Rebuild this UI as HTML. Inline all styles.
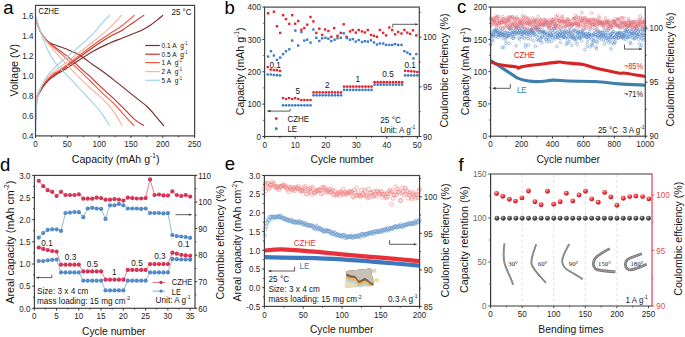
<!DOCTYPE html><html><head><meta charset="utf-8"><style>html,body{margin:0;padding:0;background:#fff;width:685px;height:337px;overflow:hidden;}svg{display:block;}</style></head><body><svg width="685" height="337" viewBox="0 0 685 337" font-family='"Liberation Sans", sans-serif'><rect width="685" height="337" fill="#fff"/><text x="3.3" y="13.9" font-size="18.5" text-anchor="start" fill="#000">a</text>
<text x="224.4" y="13.7" font-size="18.5" text-anchor="start" fill="#000">b</text>
<text x="456.9" y="13.1" font-size="18.5" text-anchor="start" fill="#000">c</text>
<text x="0.1" y="170.7" font-size="18.5" text-anchor="start" fill="#000">d</text>
<text x="224.7" y="170.4" font-size="18.5" text-anchor="start" fill="#000">e</text>
<text x="458.4" y="170.7" font-size="18.5" text-anchor="start" fill="#000">f</text>
<path d="M35.63,17.88 C35.77,18.55 35.54,19.35 36.45,21.89 C37.37,24.42 39.67,30.34 41.1,33.1 C42.53,35.85 43.56,36.77 45.05,38.4 C46.53,40.04 46.81,41.26 50.01,42.91 C53.21,44.56 59.51,46.38 64.27,48.31 C69.02,50.25 73.63,51.7 78.52,54.52 C83.41,57.34 89.71,62.51 93.6,65.23 C97.5,67.95 98.52,68.4 101.88,70.84 C105.23,73.27 109.76,76.76 113.71,79.84 C117.67,82.93 121.65,86.18 125.61,89.35 C129.58,92.52 133.95,96.01 137.51,98.86 C141.08,101.72 144.23,103.9 147,106.47 C149.77,109.04 151.36,111.08 154.12,114.28 C156.89,117.48 162.03,123.79 163.61,125.69" fill="none" stroke="#7a2b2e" stroke-width="1.15" stroke-linecap="round"/>
<path d="M35.69,119.48 C35.79,117.15 36.03,108.97 36.26,105.47 C36.5,101.97 36.77,100.13 37.09,98.46 C37.41,96.79 37.3,97.21 38.17,95.46 C39.04,93.71 40.59,90.46 42.31,87.95 C44.03,85.45 46.4,82.53 48.48,80.45 C50.56,78.36 52.01,77.31 54.78,75.44 C57.55,73.57 58.62,73.3 65.09,69.23 C71.56,65.16 86.12,55.39 93.6,51.02 C101.09,46.64 105.3,45.14 110.02,43.01 C114.74,40.87 117.98,39.79 121.92,38.2 C125.87,36.62 130.15,34.97 133.7,33.5 C137.24,32.03 140.41,30.78 143.18,29.39 C145.95,28.01 147.94,26.77 150.31,25.19 C152.67,23.6 155.29,21.52 157.37,19.88 C159.45,18.25 161.88,16.13 162.78,15.38" fill="none" stroke="#7a2b2e" stroke-width="1.15" stroke-linecap="round"/>
<path d="M35.63,17.88 C35.77,18.55 35.54,19.35 36.45,21.89 C37.37,24.42 39.67,30.34 41.1,33.1 C42.53,35.85 43.56,36.68 45.05,38.4 C46.53,40.12 45.92,40.12 50.01,43.41 C54.1,46.69 64.27,53.75 69.61,58.12 C74.96,62.49 78.69,66.58 82.08,69.63 C85.48,72.69 86.68,73.4 89.98,76.44 C93.27,79.48 97.92,84.17 101.88,87.85 C105.83,91.54 109.76,94.81 113.71,98.56 C117.67,102.32 122.05,106.82 125.61,110.37 C129.18,113.93 132.13,117.37 135.1,119.88 C138.07,122.4 142.04,124.56 143.43,125.49" fill="none" stroke="#c8302c" stroke-width="1.15" stroke-linecap="round"/>
<path d="M35.69,117.48 C35.79,115.31 36.03,107.81 36.26,104.47 C36.5,101.13 36.77,99.13 37.09,97.46 C37.41,95.79 37.3,96.23 38.17,94.46 C39.04,92.69 40.59,89.35 42.31,86.85 C44.03,84.35 46.4,81.53 48.48,79.44 C50.56,77.36 52.01,76.34 54.78,74.34 C57.55,72.34 58.62,72 65.09,67.43 C71.56,62.86 86.12,52.07 93.6,46.91 C101.09,41.76 105.3,39.25 110.02,36.5 C114.74,33.75 117.98,32.78 121.92,30.4 C125.87,28.01 130.05,24.69 133.7,22.19 C137.35,19.68 142.13,16.51 143.82,15.38" fill="none" stroke="#c8302c" stroke-width="1.15" stroke-linecap="round"/>
<path d="M35.63,17.88 C35.77,18.55 35.54,19.35 36.45,21.89 C37.37,24.42 39.67,30.34 41.1,33.1 C42.53,35.85 43.56,36.6 45.05,38.4 C46.53,40.2 46.52,40.62 50.01,43.91 C53.5,47.2 61.23,53.84 65.98,58.12 C70.74,62.41 74.52,65.86 78.52,69.63 C82.52,73.4 86.08,76.91 89.98,80.75 C93.87,84.58 97.92,88.89 101.88,92.66 C105.83,96.43 110.16,99.8 113.71,103.37 C117.27,106.94 119.83,110.39 123.2,114.08 C126.56,117.77 132.11,123.59 133.89,125.49" fill="none" stroke="#f0583a" stroke-width="1.15" stroke-linecap="round"/>
<path d="M35.69,117.48 C35.79,115.15 36.03,106.97 36.26,103.47 C36.5,99.96 36.77,98.13 37.09,96.46 C37.41,94.79 37.3,95.23 38.17,93.46 C39.04,91.69 40.59,88.35 42.31,85.85 C44.03,83.35 46.4,80.6 48.48,78.44 C50.56,76.29 52.75,74.44 54.78,72.94 C56.82,71.44 54.23,74.14 60.7,69.43 C67.17,64.73 85.38,50.7 93.6,44.71 C101.82,38.72 105.3,36.65 110.02,33.5 C114.74,30.34 117.88,28.81 121.92,25.79 C125.96,22.77 132.21,17.12 134.27,15.38" fill="none" stroke="#f0583a" stroke-width="1.15" stroke-linecap="round"/>
<path d="M35.63,17.88 C35.77,18.55 35.54,19.35 36.45,21.89 C37.37,24.42 39.67,30.18 41.1,33.1 C42.53,36.02 43.75,37.52 45.05,39.4 C46.34,41.29 46.26,41.29 48.86,44.41 C51.47,47.53 56.95,53.92 60.7,58.12 C64.46,62.33 66.51,64.68 71.39,69.63 C76.27,74.59 85.29,83.43 89.98,87.85 C94.66,92.27 96.35,93.19 99.52,96.16 C102.69,99.13 106.25,102.5 109,105.67 C111.76,108.84 113.9,111.88 116.07,115.18 C118.23,118.48 121,123.77 121.99,125.49" fill="none" stroke="#f4b6a0" stroke-width="1.15" stroke-linecap="round"/>
<path d="M35.69,117.48 C35.79,115.15 36.03,107.14 36.26,103.47 C36.5,99.8 36.77,97.3 37.09,95.46 C37.41,93.62 37.3,94.29 38.17,92.46 C39.04,90.62 40.59,87.12 42.31,84.45 C44.03,81.78 46.01,78.94 48.48,76.44 C50.95,73.94 49.62,75.31 57.14,69.43 C64.66,63.56 84.79,48.18 93.6,41.21 C102.42,34.23 105.41,31.9 110.02,27.59 C114.64,23.29 119.41,17.42 121.29,15.38" fill="none" stroke="#f4b6a0" stroke-width="1.15" stroke-linecap="round"/>
<path d="M35.5,15.38 C35.56,15.55 34.95,13.43 35.88,16.38 C36.82,19.33 39.04,27.33 41.1,33.1 C43.16,38.87 45.56,45.66 48.23,51.02 C50.9,56.37 53.37,60.54 57.14,65.23 C60.9,69.92 65.35,73.37 70.82,79.14 C76.29,84.92 85.19,94.64 89.98,99.86 C94.76,105.09 96.27,106.2 99.52,110.47 C102.78,114.75 107.85,122.99 109.51,125.49" fill="none" stroke="#9fd4ea" stroke-width="1.15" stroke-linecap="round"/>
<path d="M35.63,131.5 C35.73,128.16 36.01,116.65 36.26,111.48 C36.52,106.3 36.84,103.13 37.15,100.47 C37.47,97.8 37.31,98.1 38.17,95.46 C39.03,92.82 40.59,88.15 42.31,84.65 C44.03,81.15 46.4,77.31 48.48,74.44 C50.56,71.57 51.64,70.44 54.78,67.43 C57.92,64.43 62.87,60.24 67.32,56.42 C71.77,52.6 77.13,48.4 81.51,44.51 C85.89,40.62 90.13,36.7 93.6,33.1 C97.07,29.49 99.64,25.84 102.32,22.89 C105.01,19.93 108.47,16.63 109.7,15.38" fill="none" stroke="#9fd4ea" stroke-width="1.15" stroke-linecap="round"/>
<rect x="35.5" y="5.4" width="159.1" height="130.5" fill="none" stroke="#444" stroke-width="1.2"/>
<line x1="35.5" y1="135.9" x2="35.5" y2="137.9" stroke="#333" stroke-width="1"/>
<text transform="translate(35.5 146.6) scale(1 1.12)" x="0" y="0" font-size="8.1" text-anchor="middle" fill="#1e1e1e">0</text>
<line x1="51.41" y1="135.9" x2="51.41" y2="137.2" stroke="#333" stroke-width="1"/>
<line x1="67.32" y1="135.9" x2="67.32" y2="137.9" stroke="#333" stroke-width="1"/>
<text transform="translate(67.32 146.6) scale(1 1.12)" x="0" y="0" font-size="8.1" text-anchor="middle" fill="#1e1e1e">50</text>
<line x1="83.23" y1="135.9" x2="83.23" y2="137.2" stroke="#333" stroke-width="1"/>
<line x1="99.14" y1="135.9" x2="99.14" y2="137.9" stroke="#333" stroke-width="1"/>
<text transform="translate(99.14 146.6) scale(1 1.12)" x="0" y="0" font-size="8.1" text-anchor="middle" fill="#1e1e1e">100</text>
<line x1="115.05" y1="135.9" x2="115.05" y2="137.2" stroke="#333" stroke-width="1"/>
<line x1="130.96" y1="135.9" x2="130.96" y2="137.9" stroke="#333" stroke-width="1"/>
<text transform="translate(130.96 146.6) scale(1 1.12)" x="0" y="0" font-size="8.1" text-anchor="middle" fill="#1e1e1e">150</text>
<line x1="146.87" y1="135.9" x2="146.87" y2="137.2" stroke="#333" stroke-width="1"/>
<line x1="162.78" y1="135.9" x2="162.78" y2="137.9" stroke="#333" stroke-width="1"/>
<text transform="translate(162.78 146.6) scale(1 1.12)" x="0" y="0" font-size="8.1" text-anchor="middle" fill="#1e1e1e">200</text>
<line x1="178.69" y1="135.9" x2="178.69" y2="137.2" stroke="#333" stroke-width="1"/>
<line x1="194.6" y1="135.9" x2="194.6" y2="137.9" stroke="#333" stroke-width="1"/>
<text transform="translate(194.6 146.6) scale(1 1.12)" x="0" y="0" font-size="8.1" text-anchor="middle" fill="#1e1e1e">250</text>
<text transform="translate(33.5 138.75) scale(1 1.12)" x="0" y="0" font-size="8.1" text-anchor="end" fill="#1e1e1e">0.4</text>
<text transform="translate(33.5 118.73) scale(1 1.12)" x="0" y="0" font-size="8.1" text-anchor="end" fill="#1e1e1e">0.6</text>
<text transform="translate(33.5 98.71) scale(1 1.12)" x="0" y="0" font-size="8.1" text-anchor="end" fill="#1e1e1e">0.8</text>
<text transform="translate(33.5 78.69) scale(1 1.12)" x="0" y="0" font-size="8.1" text-anchor="end" fill="#1e1e1e">1.0</text>
<text transform="translate(33.5 58.67) scale(1 1.12)" x="0" y="0" font-size="8.1" text-anchor="end" fill="#1e1e1e">1.2</text>
<text transform="translate(33.5 38.65) scale(1 1.12)" x="0" y="0" font-size="8.1" text-anchor="end" fill="#1e1e1e">1.4</text>
<text transform="translate(33.5 18.63) scale(1 1.12)" x="0" y="0" font-size="8.1" text-anchor="end" fill="#1e1e1e">1.6</text>
<text x="115.6" y="162.9" font-size="10.6" text-anchor="middle" fill="#141414">Capacity (mAh g<tspan font-size="6.57" dy="-4.45">-1</tspan><tspan dy="4.45">)</tspan></text>
<text x="17.8" y="70.2" font-size="10.6" text-anchor="middle" fill="#141414" transform="rotate(-90 17.8 70.2)">Voltage (V)</text>
<text transform="translate(38.6 13.9) scale(1 1.12)" x="0" y="0" font-size="7.5" text-anchor="start" fill="#141414">CZHE</text>
<text transform="translate(191.6 14.9) scale(1 1.12)" x="0" y="0" font-size="8.0" text-anchor="end" fill="#141414">25 &#176;C</text>
<line x1="145.2" y1="45.5" x2="159.8" y2="45.5" stroke="#7a2b2e" stroke-width="1.2"/>
<text transform="translate(161.5 47.9) scale(1 1.12)" x="0" y="0" font-size="6.6" text-anchor="start" fill="#141414">0.1 A&#160;&#160;g<tspan font-size="4.09" dy="-2.77">-1</tspan><tspan dy="2.77"></tspan></text>
<line x1="145.2" y1="54.2" x2="159.8" y2="54.2" stroke="#c8302c" stroke-width="1.2"/>
<text transform="translate(161.5 56.6) scale(1 1.12)" x="0" y="0" font-size="6.6" text-anchor="start" fill="#141414">0.5 A&#160;&#160;g<tspan font-size="4.09" dy="-2.77">-1</tspan><tspan dy="2.77"></tspan></text>
<line x1="145.2" y1="62.6" x2="159.8" y2="62.6" stroke="#f0583a" stroke-width="1.2"/>
<text transform="translate(161.5 65) scale(1 1.12)" x="0" y="0" font-size="6.6" text-anchor="start" fill="#141414">1 A&#160;&#160;g<tspan font-size="4.09" dy="-2.77">-1</tspan><tspan dy="2.77"></tspan></text>
<line x1="145.2" y1="71.6" x2="159.8" y2="71.6" stroke="#f4b6a0" stroke-width="1.2"/>
<text transform="translate(161.5 74) scale(1 1.12)" x="0" y="0" font-size="6.6" text-anchor="start" fill="#141414">2 A&#160;&#160;g<tspan font-size="4.09" dy="-2.77">-1</tspan><tspan dy="2.77"></tspan></text>
<line x1="145.2" y1="80.3" x2="159.8" y2="80.3" stroke="#9fd4ea" stroke-width="1.2"/>
<text transform="translate(161.5 82.7) scale(1 1.12)" x="0" y="0" font-size="6.6" text-anchor="start" fill="#141414">5 A&#160;&#160;g<tspan font-size="4.09" dy="-2.77">-1</tspan><tspan dy="2.77"></tspan></text>
<rect x="266.9" y="12.1" width="2.4" height="2.4" fill="#e3262b"/>
<rect x="272.7" y="10.5" width="2.4" height="2.4" fill="#e3262b"/>
<rect x="275.8" y="25" width="2.4" height="2.4" fill="#e3262b"/>
<rect x="279" y="31.7" width="2.4" height="2.4" fill="#e3262b"/>
<rect x="281.9" y="14" width="2.4" height="2.4" fill="#e3262b"/>
<rect x="284.8" y="17.9" width="2.4" height="2.4" fill="#e3262b"/>
<rect x="288.1" y="22.7" width="2.4" height="2.4" fill="#e3262b"/>
<rect x="291" y="14" width="2.4" height="2.4" fill="#e3262b"/>
<rect x="293.9" y="22.5" width="2.4" height="2.4" fill="#e3262b"/>
<rect x="297" y="19.8" width="2.4" height="2.4" fill="#e3262b"/>
<rect x="300.2" y="28.5" width="2.4" height="2.4" fill="#e3262b"/>
<rect x="303.1" y="26.9" width="2.4" height="2.4" fill="#e3262b"/>
<rect x="306" y="23.5" width="2.4" height="2.4" fill="#e3262b"/>
<rect x="309.3" y="15.8" width="2.4" height="2.4" fill="#e3262b"/>
<rect x="312.2" y="20.2" width="2.4" height="2.4" fill="#e3262b"/>
<rect x="315.1" y="31.7" width="2.4" height="2.4" fill="#e3262b"/>
<rect x="318.1" y="27.5" width="2.4" height="2.4" fill="#e3262b"/>
<rect x="321" y="33.7" width="2.4" height="2.4" fill="#e3262b"/>
<rect x="323.9" y="28.3" width="2.4" height="2.4" fill="#e3262b"/>
<rect x="327.2" y="29.8" width="2.4" height="2.4" fill="#e3262b"/>
<rect x="330.1" y="35.6" width="2.4" height="2.4" fill="#e3262b"/>
<rect x="333" y="26.9" width="2.4" height="2.4" fill="#e3262b"/>
<rect x="336.3" y="34.6" width="2.4" height="2.4" fill="#e3262b"/>
<rect x="339.6" y="31.7" width="2.4" height="2.4" fill="#e3262b"/>
<rect x="342.5" y="23.1" width="2.4" height="2.4" fill="#e3262b"/>
<rect x="345.4" y="35.6" width="2.4" height="2.4" fill="#e3262b"/>
<rect x="348.8" y="30.2" width="2.4" height="2.4" fill="#e3262b"/>
<rect x="351.5" y="28.8" width="2.4" height="2.4" fill="#e3262b"/>
<rect x="354.6" y="31.4" width="2.4" height="2.4" fill="#e3262b"/>
<rect x="357.5" y="28.8" width="2.4" height="2.4" fill="#e3262b"/>
<rect x="360.8" y="30.2" width="2.4" height="2.4" fill="#e3262b"/>
<rect x="363.7" y="31.2" width="2.4" height="2.4" fill="#e3262b"/>
<rect x="366.6" y="28.8" width="2.4" height="2.4" fill="#e3262b"/>
<rect x="369.8" y="33.7" width="2.4" height="2.4" fill="#e3262b"/>
<rect x="372.7" y="34.6" width="2.4" height="2.4" fill="#e3262b"/>
<rect x="375.8" y="35.6" width="2.4" height="2.4" fill="#e3262b"/>
<rect x="378.7" y="28.8" width="2.4" height="2.4" fill="#e3262b"/>
<rect x="382" y="31.7" width="2.4" height="2.4" fill="#e3262b"/>
<rect x="384.9" y="34.2" width="2.4" height="2.4" fill="#e3262b"/>
<rect x="388.1" y="26.3" width="2.4" height="2.4" fill="#e3262b"/>
<rect x="391" y="28.8" width="2.4" height="2.4" fill="#e3262b"/>
<rect x="393.9" y="33.1" width="2.4" height="2.4" fill="#e3262b"/>
<rect x="397" y="30.8" width="2.4" height="2.4" fill="#e3262b"/>
<rect x="400.3" y="32.3" width="2.4" height="2.4" fill="#e3262b"/>
<rect x="403.2" y="28.8" width="2.4" height="2.4" fill="#e3262b"/>
<rect x="406.1" y="31.4" width="2.4" height="2.4" fill="#e3262b"/>
<rect x="408.9" y="32.7" width="2.4" height="2.4" fill="#e3262b"/>
<rect x="411.8" y="29.2" width="2.4" height="2.4" fill="#e3262b"/>
<rect x="415.1" y="34.2" width="2.4" height="2.4" fill="#e3262b"/>
<rect x="266.9" y="55.4" width="2.4" height="2.4" fill="#3d7cc9"/>
<rect x="269.8" y="50" width="2.4" height="2.4" fill="#3d7cc9"/>
<rect x="272.7" y="54.3" width="2.4" height="2.4" fill="#3d7cc9"/>
<rect x="275.8" y="58.7" width="2.4" height="2.4" fill="#3d7cc9"/>
<rect x="279" y="56.4" width="2.4" height="2.4" fill="#3d7cc9"/>
<rect x="281.9" y="52.9" width="2.4" height="2.4" fill="#3d7cc9"/>
<rect x="284.8" y="50" width="2.4" height="2.4" fill="#3d7cc9"/>
<rect x="288.1" y="48.1" width="2.4" height="2.4" fill="#3d7cc9"/>
<rect x="291" y="39.4" width="2.4" height="2.4" fill="#3d7cc9"/>
<rect x="294.1" y="29.4" width="2.4" height="2.4" fill="#3d7cc9"/>
<rect x="297" y="44.3" width="2.4" height="2.4" fill="#3d7cc9"/>
<rect x="300.2" y="30.8" width="2.4" height="2.4" fill="#3d7cc9"/>
<rect x="303.1" y="39.4" width="2.4" height="2.4" fill="#3d7cc9"/>
<rect x="306" y="38.5" width="2.4" height="2.4" fill="#3d7cc9"/>
<rect x="309.3" y="41.4" width="2.4" height="2.4" fill="#3d7cc9"/>
<rect x="312.2" y="28.3" width="2.4" height="2.4" fill="#3d7cc9"/>
<rect x="315.1" y="36.6" width="2.4" height="2.4" fill="#3d7cc9"/>
<rect x="318.1" y="39.8" width="2.4" height="2.4" fill="#3d7cc9"/>
<rect x="321" y="37.1" width="2.4" height="2.4" fill="#3d7cc9"/>
<rect x="324.3" y="36.6" width="2.4" height="2.4" fill="#3d7cc9"/>
<rect x="327.2" y="37.5" width="2.4" height="2.4" fill="#3d7cc9"/>
<rect x="330.1" y="39.8" width="2.4" height="2.4" fill="#3d7cc9"/>
<rect x="333.4" y="38.5" width="2.4" height="2.4" fill="#3d7cc9"/>
<rect x="336.3" y="37.1" width="2.4" height="2.4" fill="#3d7cc9"/>
<rect x="339.6" y="36.6" width="2.4" height="2.4" fill="#3d7cc9"/>
<rect x="342.5" y="32.1" width="2.4" height="2.4" fill="#3d7cc9"/>
<rect x="345.7" y="36.9" width="2.4" height="2.4" fill="#3d7cc9"/>
<rect x="348.8" y="38.5" width="2.4" height="2.4" fill="#3d7cc9"/>
<rect x="351.7" y="37.9" width="2.4" height="2.4" fill="#3d7cc9"/>
<rect x="354.6" y="40.4" width="2.4" height="2.4" fill="#3d7cc9"/>
<rect x="357.5" y="38.9" width="2.4" height="2.4" fill="#3d7cc9"/>
<rect x="360.8" y="40.8" width="2.4" height="2.4" fill="#3d7cc9"/>
<rect x="363.7" y="40" width="2.4" height="2.4" fill="#3d7cc9"/>
<rect x="366.6" y="40.4" width="2.4" height="2.4" fill="#3d7cc9"/>
<rect x="369.8" y="39.1" width="2.4" height="2.4" fill="#3d7cc9"/>
<rect x="372.8" y="41.3" width="2.4" height="2.4" fill="#3d7cc9"/>
<rect x="375.8" y="43.3" width="2.4" height="2.4" fill="#3d7cc9"/>
<rect x="378.7" y="42.3" width="2.4" height="2.4" fill="#3d7cc9"/>
<rect x="382" y="42.3" width="2.4" height="2.4" fill="#3d7cc9"/>
<rect x="384.9" y="43.7" width="2.4" height="2.4" fill="#3d7cc9"/>
<rect x="388.1" y="43.7" width="2.4" height="2.4" fill="#3d7cc9"/>
<rect x="391" y="43.7" width="2.4" height="2.4" fill="#3d7cc9"/>
<rect x="393.9" y="42.9" width="2.4" height="2.4" fill="#3d7cc9"/>
<rect x="397" y="43.7" width="2.4" height="2.4" fill="#3d7cc9"/>
<rect x="400.3" y="43.7" width="2.4" height="2.4" fill="#3d7cc9"/>
<rect x="403.2" y="50" width="2.4" height="2.4" fill="#3d7cc9"/>
<rect x="406.1" y="51.4" width="2.4" height="2.4" fill="#3d7cc9"/>
<rect x="408.9" y="52.9" width="2.4" height="2.4" fill="#3d7cc9"/>
<rect x="412.2" y="57.2" width="2.4" height="2.4" fill="#3d7cc9"/>
<rect x="415.1" y="52.9" width="2.4" height="2.4" fill="#3d7cc9"/>
<circle cx="267.75" cy="67.1" r="1.35" fill="#e3262b"/>
<circle cx="267.75" cy="74.5" r="1.35" fill="#3d7cc9"/>
<circle cx="270.81" cy="69.6" r="1.35" fill="#e3262b"/>
<circle cx="270.81" cy="74.5" r="1.35" fill="#3d7cc9"/>
<circle cx="273.86" cy="70" r="1.35" fill="#e3262b"/>
<circle cx="273.86" cy="75" r="1.35" fill="#3d7cc9"/>
<circle cx="276.91" cy="70.2" r="1.35" fill="#e3262b"/>
<circle cx="276.91" cy="75.2" r="1.35" fill="#3d7cc9"/>
<circle cx="279.96" cy="71" r="1.35" fill="#e3262b"/>
<circle cx="279.96" cy="75.4" r="1.35" fill="#3d7cc9"/>
<circle cx="283.02" cy="98" r="1.35" fill="#e3262b"/>
<circle cx="283.02" cy="105.3" r="1.35" fill="#3d7cc9"/>
<circle cx="286.07" cy="99" r="1.35" fill="#e3262b"/>
<circle cx="286.07" cy="105.3" r="1.35" fill="#3d7cc9"/>
<circle cx="289.12" cy="98" r="1.35" fill="#e3262b"/>
<circle cx="289.12" cy="105.3" r="1.35" fill="#3d7cc9"/>
<circle cx="292.18" cy="99" r="1.35" fill="#e3262b"/>
<circle cx="292.18" cy="105.3" r="1.35" fill="#3d7cc9"/>
<circle cx="295.23" cy="98" r="1.35" fill="#e3262b"/>
<circle cx="295.23" cy="105.3" r="1.35" fill="#3d7cc9"/>
<circle cx="298.28" cy="99" r="1.35" fill="#e3262b"/>
<circle cx="298.28" cy="105.3" r="1.35" fill="#3d7cc9"/>
<circle cx="301.34" cy="100" r="1.35" fill="#e3262b"/>
<circle cx="301.34" cy="105.3" r="1.35" fill="#3d7cc9"/>
<circle cx="304.39" cy="100" r="1.35" fill="#e3262b"/>
<circle cx="304.39" cy="105.3" r="1.35" fill="#3d7cc9"/>
<circle cx="307.44" cy="100" r="1.35" fill="#e3262b"/>
<circle cx="307.44" cy="105.3" r="1.35" fill="#3d7cc9"/>
<circle cx="310.5" cy="100" r="1.35" fill="#e3262b"/>
<circle cx="310.5" cy="105.3" r="1.35" fill="#3d7cc9"/>
<circle cx="313.55" cy="92.4" r="1.35" fill="#e3262b"/>
<circle cx="313.55" cy="95.3" r="1.35" fill="#3d7cc9"/>
<circle cx="316.6" cy="92.4" r="1.35" fill="#e3262b"/>
<circle cx="316.6" cy="95.3" r="1.35" fill="#3d7cc9"/>
<circle cx="319.65" cy="92.4" r="1.35" fill="#e3262b"/>
<circle cx="319.65" cy="95.3" r="1.35" fill="#3d7cc9"/>
<circle cx="322.71" cy="92.4" r="1.35" fill="#e3262b"/>
<circle cx="322.71" cy="95.3" r="1.35" fill="#3d7cc9"/>
<circle cx="325.76" cy="92.4" r="1.35" fill="#e3262b"/>
<circle cx="325.76" cy="95.3" r="1.35" fill="#3d7cc9"/>
<circle cx="328.81" cy="92.4" r="1.35" fill="#e3262b"/>
<circle cx="328.81" cy="95.3" r="1.35" fill="#3d7cc9"/>
<circle cx="331.87" cy="92.4" r="1.35" fill="#e3262b"/>
<circle cx="331.87" cy="95.3" r="1.35" fill="#3d7cc9"/>
<circle cx="334.92" cy="92.4" r="1.35" fill="#e3262b"/>
<circle cx="334.92" cy="95.3" r="1.35" fill="#3d7cc9"/>
<circle cx="337.97" cy="92.4" r="1.35" fill="#e3262b"/>
<circle cx="337.97" cy="95.3" r="1.35" fill="#3d7cc9"/>
<circle cx="341.02" cy="92.4" r="1.35" fill="#e3262b"/>
<circle cx="341.02" cy="95.3" r="1.35" fill="#3d7cc9"/>
<circle cx="344.08" cy="86.6" r="1.35" fill="#e3262b"/>
<circle cx="344.08" cy="89.9" r="1.35" fill="#3d7cc9"/>
<circle cx="347.13" cy="86.6" r="1.35" fill="#e3262b"/>
<circle cx="347.13" cy="89.9" r="1.35" fill="#3d7cc9"/>
<circle cx="350.18" cy="86.6" r="1.35" fill="#e3262b"/>
<circle cx="350.18" cy="89.9" r="1.35" fill="#3d7cc9"/>
<circle cx="353.24" cy="86.6" r="1.35" fill="#e3262b"/>
<circle cx="353.24" cy="89.9" r="1.35" fill="#3d7cc9"/>
<circle cx="356.29" cy="86.6" r="1.35" fill="#e3262b"/>
<circle cx="356.29" cy="89.9" r="1.35" fill="#3d7cc9"/>
<circle cx="359.34" cy="86.6" r="1.35" fill="#e3262b"/>
<circle cx="359.34" cy="89.9" r="1.35" fill="#3d7cc9"/>
<circle cx="362.4" cy="86.6" r="1.35" fill="#e3262b"/>
<circle cx="362.4" cy="89.9" r="1.35" fill="#3d7cc9"/>
<circle cx="365.45" cy="86.6" r="1.35" fill="#e3262b"/>
<circle cx="365.45" cy="89.9" r="1.35" fill="#3d7cc9"/>
<circle cx="368.5" cy="86.6" r="1.35" fill="#e3262b"/>
<circle cx="368.5" cy="89.9" r="1.35" fill="#3d7cc9"/>
<circle cx="371.56" cy="86.6" r="1.35" fill="#e3262b"/>
<circle cx="371.56" cy="89.9" r="1.35" fill="#3d7cc9"/>
<circle cx="374.61" cy="82.2" r="1.35" fill="#e3262b"/>
<circle cx="374.61" cy="84.7" r="1.35" fill="#3d7cc9"/>
<circle cx="377.66" cy="82.2" r="1.35" fill="#e3262b"/>
<circle cx="377.66" cy="84.7" r="1.35" fill="#3d7cc9"/>
<circle cx="380.71" cy="82.2" r="1.35" fill="#e3262b"/>
<circle cx="380.71" cy="84.7" r="1.35" fill="#3d7cc9"/>
<circle cx="383.77" cy="82.2" r="1.35" fill="#e3262b"/>
<circle cx="383.77" cy="84.7" r="1.35" fill="#3d7cc9"/>
<circle cx="386.82" cy="82.2" r="1.35" fill="#e3262b"/>
<circle cx="386.82" cy="84.7" r="1.35" fill="#3d7cc9"/>
<circle cx="389.87" cy="82.2" r="1.35" fill="#e3262b"/>
<circle cx="389.87" cy="84.7" r="1.35" fill="#3d7cc9"/>
<circle cx="392.93" cy="82.2" r="1.35" fill="#e3262b"/>
<circle cx="392.93" cy="84.7" r="1.35" fill="#3d7cc9"/>
<circle cx="395.98" cy="82.2" r="1.35" fill="#e3262b"/>
<circle cx="395.98" cy="84.7" r="1.35" fill="#3d7cc9"/>
<circle cx="399.03" cy="82.2" r="1.35" fill="#e3262b"/>
<circle cx="399.03" cy="84.7" r="1.35" fill="#3d7cc9"/>
<circle cx="402.08" cy="82.2" r="1.35" fill="#e3262b"/>
<circle cx="402.08" cy="84.7" r="1.35" fill="#3d7cc9"/>
<circle cx="405.14" cy="70.8" r="1.35" fill="#e3262b"/>
<circle cx="405.14" cy="75.4" r="1.35" fill="#3d7cc9"/>
<circle cx="408.19" cy="71.1" r="1.35" fill="#e3262b"/>
<circle cx="408.19" cy="75.4" r="1.35" fill="#3d7cc9"/>
<circle cx="411.24" cy="71.3" r="1.35" fill="#e3262b"/>
<circle cx="411.24" cy="75.4" r="1.35" fill="#3d7cc9"/>
<circle cx="414.3" cy="71.6" r="1.35" fill="#e3262b"/>
<circle cx="414.3" cy="75.4" r="1.35" fill="#3d7cc9"/>
<circle cx="417.35" cy="72" r="1.35" fill="#e3262b"/>
<circle cx="417.35" cy="75.4" r="1.35" fill="#3d7cc9"/>
<rect x="264.6" y="7.1" width="154.7" height="129.4" fill="none" stroke="#444" stroke-width="1.2"/>
<line x1="264.7" y1="136.5" x2="264.7" y2="138.7" stroke="#333" stroke-width="1"/>
<text transform="translate(264.7 147.65) scale(1 1.12)" x="0" y="0" font-size="8.1" text-anchor="middle" fill="#1e1e1e">0</text>
<line x1="279.96" y1="136.5" x2="279.96" y2="137.8" stroke="#333" stroke-width="1"/>
<line x1="295.23" y1="136.5" x2="295.23" y2="138.7" stroke="#333" stroke-width="1"/>
<text transform="translate(295.23 147.65) scale(1 1.12)" x="0" y="0" font-size="8.1" text-anchor="middle" fill="#1e1e1e">10</text>
<line x1="310.5" y1="136.5" x2="310.5" y2="137.8" stroke="#333" stroke-width="1"/>
<line x1="325.76" y1="136.5" x2="325.76" y2="138.7" stroke="#333" stroke-width="1"/>
<text transform="translate(325.76 147.65) scale(1 1.12)" x="0" y="0" font-size="8.1" text-anchor="middle" fill="#1e1e1e">20</text>
<line x1="341.02" y1="136.5" x2="341.02" y2="137.8" stroke="#333" stroke-width="1"/>
<line x1="356.29" y1="136.5" x2="356.29" y2="138.7" stroke="#333" stroke-width="1"/>
<text transform="translate(356.29 147.65) scale(1 1.12)" x="0" y="0" font-size="8.1" text-anchor="middle" fill="#1e1e1e">30</text>
<line x1="371.56" y1="136.5" x2="371.56" y2="137.8" stroke="#333" stroke-width="1"/>
<line x1="386.82" y1="136.5" x2="386.82" y2="138.7" stroke="#333" stroke-width="1"/>
<text transform="translate(386.82 147.65) scale(1 1.12)" x="0" y="0" font-size="8.1" text-anchor="middle" fill="#1e1e1e">40</text>
<line x1="402.08" y1="136.5" x2="402.08" y2="137.8" stroke="#333" stroke-width="1"/>
<line x1="417.35" y1="136.5" x2="417.35" y2="138.7" stroke="#333" stroke-width="1"/>
<text transform="translate(417.35 147.65) scale(1 1.12)" x="0" y="0" font-size="8.1" text-anchor="middle" fill="#1e1e1e">50</text>
<line x1="264.6" y1="136.5" x2="262.4" y2="136.5" stroke="#333" stroke-width="1"/>
<text transform="translate(261.1 139.75) scale(1 1.12)" x="0" y="0" font-size="8.1" text-anchor="end" fill="#1e1e1e">0</text>
<line x1="264.6" y1="120.33" x2="263.3" y2="120.33" stroke="#333" stroke-width="1"/>
<line x1="264.6" y1="104.15" x2="262.4" y2="104.15" stroke="#333" stroke-width="1"/>
<text transform="translate(261.1 107.4) scale(1 1.12)" x="0" y="0" font-size="8.1" text-anchor="end" fill="#1e1e1e">100</text>
<line x1="264.6" y1="87.97" x2="263.3" y2="87.97" stroke="#333" stroke-width="1"/>
<line x1="264.6" y1="71.8" x2="262.4" y2="71.8" stroke="#333" stroke-width="1"/>
<text transform="translate(261.1 75.05) scale(1 1.12)" x="0" y="0" font-size="8.1" text-anchor="end" fill="#1e1e1e">200</text>
<line x1="264.6" y1="55.62" x2="263.3" y2="55.62" stroke="#333" stroke-width="1"/>
<line x1="264.6" y1="39.45" x2="262.4" y2="39.45" stroke="#333" stroke-width="1"/>
<text transform="translate(261.1 42.7) scale(1 1.12)" x="0" y="0" font-size="8.1" text-anchor="end" fill="#1e1e1e">300</text>
<line x1="264.6" y1="23.27" x2="263.3" y2="23.27" stroke="#333" stroke-width="1"/>
<line x1="264.6" y1="7.1" x2="262.4" y2="7.1" stroke="#333" stroke-width="1"/>
<text transform="translate(261.1 10.35) scale(1 1.12)" x="0" y="0" font-size="8.1" text-anchor="end" fill="#1e1e1e">400</text>
<line x1="419.3" y1="136.5" x2="421.5" y2="136.5" stroke="#333" stroke-width="1"/>
<text transform="translate(423.1 139.75) scale(1 1.12)" x="0" y="0" font-size="8.1" text-anchor="start" fill="#1e1e1e">90</text>
<line x1="419.3" y1="111.67" x2="420.6" y2="111.67" stroke="#333" stroke-width="1"/>
<line x1="419.3" y1="86.85" x2="421.5" y2="86.85" stroke="#333" stroke-width="1"/>
<text transform="translate(423.1 90.1) scale(1 1.12)" x="0" y="0" font-size="8.1" text-anchor="start" fill="#1e1e1e">95</text>
<line x1="419.3" y1="62.03" x2="420.6" y2="62.03" stroke="#333" stroke-width="1"/>
<line x1="419.3" y1="37.2" x2="421.5" y2="37.2" stroke="#333" stroke-width="1"/>
<text transform="translate(423.1 40.45) scale(1 1.12)" x="0" y="0" font-size="8.1" text-anchor="start" fill="#1e1e1e">100</text>
<line x1="419.3" y1="12.38" x2="420.6" y2="12.38" stroke="#333" stroke-width="1"/>
<text x="342.3" y="162.9" font-size="10.3" text-anchor="middle" fill="#141414">Cycle number</text>
<text x="243.7" y="71.4" font-size="10.6" text-anchor="middle" fill="#141414" transform="rotate(-90 243.7 71.4)">Capacity (mAh g<tspan font-size="6.57" dy="-4.45">-1</tspan><tspan dy="4.45">)</tspan></text>
<text x="447.8" y="70.6" font-size="10.6" text-anchor="middle" fill="#141414" transform="rotate(-90 447.8 70.6)">Coulombic effciency (%)</text>
<text transform="translate(275.1 67.9) scale(1 1.12)" x="0" y="0" font-size="8.2" text-anchor="middle" fill="#141414">0.1</text>
<text transform="translate(297.8 93.5) scale(1 1.12)" x="0" y="0" font-size="8.2" text-anchor="middle" fill="#141414">5</text>
<text transform="translate(327.4 87.6) scale(1 1.12)" x="0" y="0" font-size="8.2" text-anchor="middle" fill="#141414">2</text>
<text transform="translate(357.7 81.8) scale(1 1.12)" x="0" y="0" font-size="8.2" text-anchor="middle" fill="#141414">1</text>
<text transform="translate(388 77.4) scale(1 1.12)" x="0" y="0" font-size="8.2" text-anchor="middle" fill="#141414">0.5</text>
<text transform="translate(410.1 67.7) scale(1 1.12)" x="0" y="0" font-size="8.2" text-anchor="middle" fill="#141414">0.1</text>
<line x1="290.1" y1="109" x2="290.1" y2="111.1" stroke="#333" stroke-width="0.8"/>
<line x1="290.1" y1="111.1" x2="267.4" y2="111.1" stroke="#333" stroke-width="0.8"/>
<path d="M267.4,111.1 L270.4,112.45 L270.4,109.75 Z" fill="#333"/>
<line x1="392.8" y1="27.5" x2="392.8" y2="24.3" stroke="#333" stroke-width="0.8"/>
<line x1="392.8" y1="24.3" x2="417.9" y2="24.3" stroke="#333" stroke-width="0.8"/>
<path d="M417.9,24.3 L415.3,23.13 L415.3,25.47 Z" fill="#333"/>
<circle cx="276.3" cy="118.6" r="1.45" fill="#e3262b"/><circle cx="276.3" cy="128.7" r="1.45" fill="#3d7cc9"/>
<text transform="translate(287.4 121.7) scale(1 1.12)" x="0" y="0" font-size="8.0" text-anchor="start" fill="#141414">CZHE</text>
<text transform="translate(287.4 131.7) scale(1 1.12)" x="0" y="0" font-size="8.0" text-anchor="start" fill="#141414">LE</text>
<text transform="translate(380.3 122.7) scale(1 1.12)" x="0" y="0" font-size="8.2" text-anchor="start" fill="#141414">25 &#176;C</text>
<text transform="translate(380.3 132.8) scale(1 1.12)" x="0" y="0" font-size="8.2" text-anchor="start" fill="#141414">Unit: A g<tspan font-size="5.08" dy="-3.44">-1</tspan><tspan dy="3.44"></tspan></text>
<g fill="none" stroke-width="0.5">
<circle cx="490.49" cy="44.56" r="1.35" stroke="#5b8cc8"/>
<circle cx="490.83" cy="44.25" r="1.35" stroke="#5b8cc8"/>
<circle cx="490.94" cy="32.87" r="1.35" stroke="#5b8cc8"/>
<circle cx="491.48" cy="34.71" r="1.35" stroke="#5b8cc8"/>
<circle cx="491.61" cy="34.99" r="1.35" stroke="#5b8cc8"/>
<circle cx="492.19" cy="39.23" r="1.35" stroke="#5b8cc8"/>
<circle cx="492.74" cy="41.09" r="1.35" stroke="#5b8cc8"/>
<circle cx="492.55" cy="36.17" r="1.35" stroke="#5b8cc8"/>
<circle cx="492.96" cy="34.98" r="1.35" stroke="#5b8cc8"/>
<circle cx="493.47" cy="31.88" r="1.35" stroke="#5b8cc8"/>
<circle cx="493.72" cy="35.2" r="1.35" stroke="#5b8cc8"/>
<circle cx="494.11" cy="34.48" r="1.35" stroke="#5b8cc8"/>
<circle cx="494.2" cy="30.47" r="1.35" stroke="#5b8cc8"/>
<circle cx="494.8" cy="31.86" r="1.35" stroke="#5b8cc8"/>
<circle cx="494.78" cy="29.89" r="1.35" stroke="#5b8cc8"/>
<circle cx="495.38" cy="31.87" r="1.35" stroke="#5b8cc8"/>
<circle cx="495.84" cy="36.72" r="1.35" stroke="#5b8cc8"/>
<circle cx="495.65" cy="36.46" r="1.35" stroke="#5b8cc8"/>
<circle cx="495.89" cy="30.75" r="1.35" stroke="#5b8cc8"/>
<circle cx="496.7" cy="28.34" r="1.35" stroke="#5b8cc8"/>
<circle cx="496.91" cy="29.76" r="1.35" stroke="#5b8cc8"/>
<circle cx="497.3" cy="31.06" r="1.35" stroke="#5b8cc8"/>
<circle cx="497.39" cy="33.09" r="1.35" stroke="#5b8cc8"/>
<circle cx="497.8" cy="32.62" r="1.35" stroke="#5b8cc8"/>
<circle cx="498.22" cy="32.94" r="1.35" stroke="#5b8cc8"/>
<circle cx="498.05" cy="37.28" r="1.35" stroke="#5b8cc8"/>
<circle cx="498.45" cy="34.65" r="1.35" stroke="#5b8cc8"/>
<circle cx="498.73" cy="34.54" r="1.35" stroke="#5b8cc8"/>
<circle cx="499.2" cy="34.7" r="1.35" stroke="#5b8cc8"/>
<circle cx="499.6" cy="32.54" r="1.35" stroke="#5b8cc8"/>
<circle cx="500.07" cy="35.58" r="1.35" stroke="#5b8cc8"/>
<circle cx="500.11" cy="31.34" r="1.35" stroke="#5b8cc8"/>
<circle cx="500.78" cy="34.92" r="1.35" stroke="#5b8cc8"/>
<circle cx="500.65" cy="35.43" r="1.35" stroke="#5b8cc8"/>
<circle cx="501.17" cy="33.52" r="1.35" stroke="#5b8cc8"/>
<circle cx="501.35" cy="33.86" r="1.35" stroke="#5b8cc8"/>
<circle cx="502.01" cy="31.88" r="1.35" stroke="#5b8cc8"/>
<circle cx="502.15" cy="47.48" r="1.35" stroke="#5b8cc8"/>
<circle cx="502.53" cy="38.14" r="1.35" stroke="#5b8cc8"/>
<circle cx="502.61" cy="28.76" r="1.35" stroke="#5b8cc8"/>
<circle cx="503.06" cy="34.71" r="1.35" stroke="#5b8cc8"/>
<circle cx="503.08" cy="33.95" r="1.35" stroke="#5b8cc8"/>
<circle cx="503.33" cy="35.52" r="1.35" stroke="#5b8cc8"/>
<circle cx="503.82" cy="47.13" r="1.35" stroke="#5b8cc8"/>
<circle cx="504.28" cy="35.05" r="1.35" stroke="#5b8cc8"/>
<circle cx="504.44" cy="35.62" r="1.35" stroke="#5b8cc8"/>
<circle cx="505.04" cy="37.48" r="1.35" stroke="#5b8cc8"/>
<circle cx="504.89" cy="33.14" r="1.35" stroke="#5b8cc8"/>
<circle cx="505.36" cy="32.66" r="1.35" stroke="#5b8cc8"/>
<circle cx="505.47" cy="40.21" r="1.35" stroke="#5b8cc8"/>
<circle cx="506.09" cy="43.55" r="1.35" stroke="#5b8cc8"/>
<circle cx="506.67" cy="36.94" r="1.35" stroke="#5b8cc8"/>
<circle cx="506.81" cy="32.99" r="1.35" stroke="#5b8cc8"/>
<circle cx="507.16" cy="36.75" r="1.35" stroke="#5b8cc8"/>
<circle cx="507.48" cy="31.95" r="1.35" stroke="#5b8cc8"/>
<circle cx="507.91" cy="35.5" r="1.35" stroke="#5b8cc8"/>
<circle cx="508.11" cy="35.71" r="1.35" stroke="#5b8cc8"/>
<circle cx="508.25" cy="27.65" r="1.35" stroke="#5b8cc8"/>
<circle cx="508.26" cy="36.1" r="1.35" stroke="#5b8cc8"/>
<circle cx="508.97" cy="33.66" r="1.35" stroke="#5b8cc8"/>
<circle cx="509.13" cy="43.28" r="1.35" stroke="#5b8cc8"/>
<circle cx="509.39" cy="28.87" r="1.35" stroke="#5b8cc8"/>
<circle cx="509.62" cy="33.92" r="1.35" stroke="#5b8cc8"/>
<circle cx="510.33" cy="35.45" r="1.35" stroke="#5b8cc8"/>
<circle cx="510.39" cy="29.27" r="1.35" stroke="#5b8cc8"/>
<circle cx="510.81" cy="27.62" r="1.35" stroke="#5b8cc8"/>
<circle cx="511.19" cy="33.05" r="1.35" stroke="#5b8cc8"/>
<circle cx="511.5" cy="28.81" r="1.35" stroke="#5b8cc8"/>
<circle cx="511.82" cy="36.67" r="1.35" stroke="#5b8cc8"/>
<circle cx="512.22" cy="32.35" r="1.35" stroke="#5b8cc8"/>
<circle cx="512.06" cy="34.47" r="1.35" stroke="#5b8cc8"/>
<circle cx="512.75" cy="34.5" r="1.35" stroke="#5b8cc8"/>
<circle cx="513.07" cy="38.34" r="1.35" stroke="#5b8cc8"/>
<circle cx="513.22" cy="32.29" r="1.35" stroke="#5b8cc8"/>
<circle cx="513.2" cy="38.22" r="1.35" stroke="#5b8cc8"/>
<circle cx="514.07" cy="31.96" r="1.35" stroke="#5b8cc8"/>
<circle cx="514.34" cy="34.1" r="1.35" stroke="#5b8cc8"/>
<circle cx="514.3" cy="30.66" r="1.35" stroke="#5b8cc8"/>
<circle cx="514.79" cy="32.68" r="1.35" stroke="#5b8cc8"/>
<circle cx="515.29" cy="36.75" r="1.35" stroke="#5b8cc8"/>
<circle cx="515.33" cy="25.95" r="1.35" stroke="#5b8cc8"/>
<circle cx="515.91" cy="28.87" r="1.35" stroke="#5b8cc8"/>
<circle cx="515.99" cy="32.16" r="1.35" stroke="#5b8cc8"/>
<circle cx="516.09" cy="45.85" r="1.35" stroke="#5b8cc8"/>
<circle cx="516.39" cy="26.99" r="1.35" stroke="#5b8cc8"/>
<circle cx="516.79" cy="33.83" r="1.35" stroke="#5b8cc8"/>
<circle cx="517.24" cy="33.21" r="1.35" stroke="#5b8cc8"/>
<circle cx="517.37" cy="31.11" r="1.35" stroke="#5b8cc8"/>
<circle cx="517.99" cy="28.07" r="1.35" stroke="#5b8cc8"/>
<circle cx="518.38" cy="32.58" r="1.35" stroke="#5b8cc8"/>
<circle cx="518.51" cy="28.37" r="1.35" stroke="#5b8cc8"/>
<circle cx="518.73" cy="32.64" r="1.35" stroke="#5b8cc8"/>
<circle cx="519.05" cy="38.14" r="1.35" stroke="#5b8cc8"/>
<circle cx="519.64" cy="30.72" r="1.35" stroke="#5b8cc8"/>
<circle cx="519.72" cy="39.41" r="1.35" stroke="#5b8cc8"/>
<circle cx="519.77" cy="30.3" r="1.35" stroke="#5b8cc8"/>
<circle cx="520.05" cy="32.85" r="1.35" stroke="#5b8cc8"/>
<circle cx="520.78" cy="34.2" r="1.35" stroke="#5b8cc8"/>
<circle cx="520.71" cy="31.6" r="1.35" stroke="#5b8cc8"/>
<circle cx="521.46" cy="27.43" r="1.35" stroke="#5b8cc8"/>
<circle cx="521.37" cy="36.31" r="1.35" stroke="#5b8cc8"/>
<circle cx="522.14" cy="31.64" r="1.35" stroke="#5b8cc8"/>
<circle cx="521.96" cy="28.68" r="1.35" stroke="#5b8cc8"/>
<circle cx="522.29" cy="34.59" r="1.35" stroke="#5b8cc8"/>
<circle cx="522.91" cy="37.39" r="1.35" stroke="#5b8cc8"/>
<circle cx="522.8" cy="33.3" r="1.35" stroke="#5b8cc8"/>
<circle cx="523.47" cy="31.37" r="1.35" stroke="#5b8cc8"/>
<circle cx="523.88" cy="32.61" r="1.35" stroke="#5b8cc8"/>
<circle cx="523.78" cy="32.61" r="1.35" stroke="#5b8cc8"/>
<circle cx="524.19" cy="33.76" r="1.35" stroke="#5b8cc8"/>
<circle cx="524.59" cy="38.52" r="1.35" stroke="#5b8cc8"/>
<circle cx="524.73" cy="29.09" r="1.35" stroke="#5b8cc8"/>
<circle cx="525.3" cy="44.59" r="1.35" stroke="#5b8cc8"/>
<circle cx="525.52" cy="47.09" r="1.35" stroke="#5b8cc8"/>
<circle cx="525.95" cy="33.2" r="1.35" stroke="#5b8cc8"/>
<circle cx="525.92" cy="31.23" r="1.35" stroke="#5b8cc8"/>
<circle cx="526.46" cy="30.21" r="1.35" stroke="#5b8cc8"/>
<circle cx="526.66" cy="36.68" r="1.35" stroke="#5b8cc8"/>
<circle cx="527.13" cy="32.83" r="1.35" stroke="#5b8cc8"/>
<circle cx="527.15" cy="34.48" r="1.35" stroke="#5b8cc8"/>
<circle cx="527.62" cy="30.58" r="1.35" stroke="#5b8cc8"/>
<circle cx="528.04" cy="38.58" r="1.35" stroke="#5b8cc8"/>
<circle cx="528.26" cy="45.03" r="1.35" stroke="#5b8cc8"/>
<circle cx="528.69" cy="33.02" r="1.35" stroke="#5b8cc8"/>
<circle cx="528.95" cy="34.31" r="1.35" stroke="#5b8cc8"/>
<circle cx="529.23" cy="32.01" r="1.35" stroke="#5b8cc8"/>
<circle cx="529.79" cy="29.27" r="1.35" stroke="#5b8cc8"/>
<circle cx="530.18" cy="35.45" r="1.35" stroke="#5b8cc8"/>
<circle cx="530.4" cy="31.3" r="1.35" stroke="#5b8cc8"/>
<circle cx="530.42" cy="39.01" r="1.35" stroke="#5b8cc8"/>
<circle cx="530.56" cy="32.56" r="1.35" stroke="#5b8cc8"/>
<circle cx="530.88" cy="29.88" r="1.35" stroke="#5b8cc8"/>
<circle cx="531.66" cy="31.29" r="1.35" stroke="#5b8cc8"/>
<circle cx="531.63" cy="30.09" r="1.35" stroke="#5b8cc8"/>
<circle cx="531.85" cy="30.01" r="1.35" stroke="#5b8cc8"/>
<circle cx="532.65" cy="33.7" r="1.35" stroke="#5b8cc8"/>
<circle cx="532.53" cy="35.85" r="1.35" stroke="#5b8cc8"/>
<circle cx="532.69" cy="32.07" r="1.35" stroke="#5b8cc8"/>
<circle cx="533.28" cy="30.28" r="1.35" stroke="#5b8cc8"/>
<circle cx="533.31" cy="32.72" r="1.35" stroke="#5b8cc8"/>
<circle cx="533.67" cy="40.81" r="1.35" stroke="#5b8cc8"/>
<circle cx="534.07" cy="33.41" r="1.35" stroke="#5b8cc8"/>
<circle cx="534.55" cy="32.8" r="1.35" stroke="#5b8cc8"/>
<circle cx="535.07" cy="27.37" r="1.35" stroke="#5b8cc8"/>
<circle cx="535.05" cy="34.89" r="1.35" stroke="#5b8cc8"/>
<circle cx="535.55" cy="46.15" r="1.35" stroke="#5b8cc8"/>
<circle cx="536.01" cy="28.61" r="1.35" stroke="#5b8cc8"/>
<circle cx="535.87" cy="28.49" r="1.35" stroke="#5b8cc8"/>
<circle cx="536.39" cy="36.22" r="1.35" stroke="#5b8cc8"/>
<circle cx="536.75" cy="27.07" r="1.35" stroke="#5b8cc8"/>
<circle cx="537.12" cy="39.17" r="1.35" stroke="#5b8cc8"/>
<circle cx="537.24" cy="30.34" r="1.35" stroke="#5b8cc8"/>
<circle cx="537.83" cy="28" r="1.35" stroke="#5b8cc8"/>
<circle cx="538.05" cy="30.99" r="1.35" stroke="#5b8cc8"/>
<circle cx="537.95" cy="34.69" r="1.35" stroke="#5b8cc8"/>
<circle cx="538.58" cy="27.01" r="1.35" stroke="#5b8cc8"/>
<circle cx="538.61" cy="40.55" r="1.35" stroke="#5b8cc8"/>
<circle cx="539.31" cy="30.09" r="1.35" stroke="#5b8cc8"/>
<circle cx="539.63" cy="37.18" r="1.35" stroke="#5b8cc8"/>
<circle cx="539.78" cy="32.26" r="1.35" stroke="#5b8cc8"/>
<circle cx="540.26" cy="39.41" r="1.35" stroke="#5b8cc8"/>
<circle cx="540.27" cy="29.38" r="1.35" stroke="#5b8cc8"/>
<circle cx="540.61" cy="40.64" r="1.35" stroke="#5b8cc8"/>
<circle cx="541.14" cy="32.72" r="1.35" stroke="#5b8cc8"/>
<circle cx="541.45" cy="31.84" r="1.35" stroke="#5b8cc8"/>
<circle cx="541.63" cy="37.3" r="1.35" stroke="#5b8cc8"/>
<circle cx="542.2" cy="36.21" r="1.35" stroke="#5b8cc8"/>
<circle cx="541.98" cy="42.73" r="1.35" stroke="#5b8cc8"/>
<circle cx="542.77" cy="36.99" r="1.35" stroke="#5b8cc8"/>
<circle cx="542.71" cy="32.23" r="1.35" stroke="#5b8cc8"/>
<circle cx="543.02" cy="31.27" r="1.35" stroke="#5b8cc8"/>
<circle cx="543.78" cy="32.06" r="1.35" stroke="#5b8cc8"/>
<circle cx="544.01" cy="25.36" r="1.35" stroke="#5b8cc8"/>
<circle cx="543.97" cy="32.66" r="1.35" stroke="#5b8cc8"/>
<circle cx="544.43" cy="33.41" r="1.35" stroke="#5b8cc8"/>
<circle cx="544.72" cy="33.16" r="1.35" stroke="#5b8cc8"/>
<circle cx="544.84" cy="31.33" r="1.35" stroke="#5b8cc8"/>
<circle cx="545.06" cy="35.82" r="1.35" stroke="#5b8cc8"/>
<circle cx="545.88" cy="39.32" r="1.35" stroke="#5b8cc8"/>
<circle cx="546.22" cy="38.96" r="1.35" stroke="#5b8cc8"/>
<circle cx="546.22" cy="22.58" r="1.35" stroke="#5b8cc8"/>
<circle cx="546.52" cy="41.66" r="1.35" stroke="#5b8cc8"/>
<circle cx="546.78" cy="34.85" r="1.35" stroke="#5b8cc8"/>
<circle cx="547.09" cy="33.74" r="1.35" stroke="#5b8cc8"/>
<circle cx="547.38" cy="32.81" r="1.35" stroke="#5b8cc8"/>
<circle cx="547.76" cy="37.67" r="1.35" stroke="#5b8cc8"/>
<circle cx="548.38" cy="35.26" r="1.35" stroke="#5b8cc8"/>
<circle cx="548.72" cy="28.46" r="1.35" stroke="#5b8cc8"/>
<circle cx="548.9" cy="39.03" r="1.35" stroke="#5b8cc8"/>
<circle cx="549.23" cy="35.16" r="1.35" stroke="#5b8cc8"/>
<circle cx="549.26" cy="41.41" r="1.35" stroke="#5b8cc8"/>
<circle cx="549.68" cy="35.92" r="1.35" stroke="#5b8cc8"/>
<circle cx="549.88" cy="32.68" r="1.35" stroke="#5b8cc8"/>
<circle cx="550.41" cy="23.29" r="1.35" stroke="#5b8cc8"/>
<circle cx="550.66" cy="31.65" r="1.35" stroke="#5b8cc8"/>
<circle cx="550.76" cy="34.81" r="1.35" stroke="#5b8cc8"/>
<circle cx="551.24" cy="34.95" r="1.35" stroke="#5b8cc8"/>
<circle cx="551.52" cy="41.37" r="1.35" stroke="#5b8cc8"/>
<circle cx="551.68" cy="36.33" r="1.35" stroke="#5b8cc8"/>
<circle cx="552.01" cy="35.32" r="1.35" stroke="#5b8cc8"/>
<circle cx="552.52" cy="38.19" r="1.35" stroke="#5b8cc8"/>
<circle cx="552.74" cy="29.53" r="1.35" stroke="#5b8cc8"/>
<circle cx="553.02" cy="32.85" r="1.35" stroke="#5b8cc8"/>
<circle cx="553.69" cy="34.69" r="1.35" stroke="#5b8cc8"/>
<circle cx="553.72" cy="28.52" r="1.35" stroke="#5b8cc8"/>
<circle cx="553.89" cy="28.24" r="1.35" stroke="#5b8cc8"/>
<circle cx="554.28" cy="24.97" r="1.35" stroke="#5b8cc8"/>
<circle cx="554.87" cy="38.96" r="1.35" stroke="#5b8cc8"/>
<circle cx="555.08" cy="36.98" r="1.35" stroke="#5b8cc8"/>
<circle cx="554.96" cy="31.13" r="1.35" stroke="#5b8cc8"/>
<circle cx="555.83" cy="37.03" r="1.35" stroke="#5b8cc8"/>
<circle cx="555.73" cy="27.24" r="1.35" stroke="#5b8cc8"/>
<circle cx="555.99" cy="28.19" r="1.35" stroke="#5b8cc8"/>
<circle cx="556.64" cy="32.97" r="1.35" stroke="#5b8cc8"/>
<circle cx="556.97" cy="46.6" r="1.35" stroke="#5b8cc8"/>
<circle cx="556.96" cy="35.03" r="1.35" stroke="#5b8cc8"/>
<circle cx="557.52" cy="33.17" r="1.35" stroke="#5b8cc8"/>
<circle cx="557.82" cy="35.66" r="1.35" stroke="#5b8cc8"/>
<circle cx="557.82" cy="37.93" r="1.35" stroke="#5b8cc8"/>
<circle cx="558.29" cy="35.8" r="1.35" stroke="#5b8cc8"/>
<circle cx="558.73" cy="37.02" r="1.35" stroke="#5b8cc8"/>
<circle cx="559.25" cy="34.12" r="1.35" stroke="#5b8cc8"/>
<circle cx="559.52" cy="31.25" r="1.35" stroke="#5b8cc8"/>
<circle cx="559.87" cy="34.37" r="1.35" stroke="#5b8cc8"/>
<circle cx="559.79" cy="38.27" r="1.35" stroke="#5b8cc8"/>
<circle cx="560.17" cy="34.58" r="1.35" stroke="#5b8cc8"/>
<circle cx="560.62" cy="42.39" r="1.35" stroke="#5b8cc8"/>
<circle cx="560.79" cy="32.83" r="1.35" stroke="#5b8cc8"/>
<circle cx="560.96" cy="35.82" r="1.35" stroke="#5b8cc8"/>
<circle cx="561.28" cy="28.27" r="1.35" stroke="#5b8cc8"/>
<circle cx="561.65" cy="35.23" r="1.35" stroke="#5b8cc8"/>
<circle cx="562.23" cy="31.68" r="1.35" stroke="#5b8cc8"/>
<circle cx="562.65" cy="31.75" r="1.35" stroke="#5b8cc8"/>
<circle cx="562.64" cy="34.21" r="1.35" stroke="#5b8cc8"/>
<circle cx="563.27" cy="36.41" r="1.35" stroke="#5b8cc8"/>
<circle cx="563.59" cy="37.13" r="1.35" stroke="#5b8cc8"/>
<circle cx="563.35" cy="37.65" r="1.35" stroke="#5b8cc8"/>
<circle cx="564.16" cy="35.59" r="1.35" stroke="#5b8cc8"/>
<circle cx="564.54" cy="37.25" r="1.35" stroke="#5b8cc8"/>
<circle cx="564.81" cy="32.89" r="1.35" stroke="#5b8cc8"/>
<circle cx="564.58" cy="32.44" r="1.35" stroke="#5b8cc8"/>
<circle cx="565.06" cy="31.21" r="1.35" stroke="#5b8cc8"/>
<circle cx="565.18" cy="33.69" r="1.35" stroke="#5b8cc8"/>
<circle cx="565.56" cy="37.73" r="1.35" stroke="#5b8cc8"/>
<circle cx="565.92" cy="30.1" r="1.35" stroke="#5b8cc8"/>
<circle cx="566.36" cy="44.12" r="1.35" stroke="#5b8cc8"/>
<circle cx="566.64" cy="36.53" r="1.35" stroke="#5b8cc8"/>
<circle cx="567.26" cy="43.53" r="1.35" stroke="#5b8cc8"/>
<circle cx="567.52" cy="40.07" r="1.35" stroke="#5b8cc8"/>
<circle cx="567.89" cy="33.41" r="1.35" stroke="#5b8cc8"/>
<circle cx="568.1" cy="37.19" r="1.35" stroke="#5b8cc8"/>
<circle cx="568.53" cy="32.5" r="1.35" stroke="#5b8cc8"/>
<circle cx="568.43" cy="33.85" r="1.35" stroke="#5b8cc8"/>
<circle cx="568.58" cy="31.39" r="1.35" stroke="#5b8cc8"/>
<circle cx="569.44" cy="41.9" r="1.35" stroke="#5b8cc8"/>
<circle cx="569.48" cy="27.97" r="1.35" stroke="#5b8cc8"/>
<circle cx="570.08" cy="32.47" r="1.35" stroke="#5b8cc8"/>
<circle cx="570.11" cy="36.46" r="1.35" stroke="#5b8cc8"/>
<circle cx="570.23" cy="36.61" r="1.35" stroke="#5b8cc8"/>
<circle cx="570.9" cy="28.93" r="1.35" stroke="#5b8cc8"/>
<circle cx="570.94" cy="33.19" r="1.35" stroke="#5b8cc8"/>
<circle cx="571.1" cy="37.88" r="1.35" stroke="#5b8cc8"/>
<circle cx="571.81" cy="45.24" r="1.35" stroke="#5b8cc8"/>
<circle cx="571.87" cy="36.09" r="1.35" stroke="#5b8cc8"/>
<circle cx="572.51" cy="37.65" r="1.35" stroke="#5b8cc8"/>
<circle cx="572.35" cy="34.55" r="1.35" stroke="#5b8cc8"/>
<circle cx="573.03" cy="32.24" r="1.35" stroke="#5b8cc8"/>
<circle cx="573.28" cy="35.69" r="1.35" stroke="#5b8cc8"/>
<circle cx="573.67" cy="37.96" r="1.35" stroke="#5b8cc8"/>
<circle cx="574.03" cy="30.36" r="1.35" stroke="#5b8cc8"/>
<circle cx="574.18" cy="30.64" r="1.35" stroke="#5b8cc8"/>
<circle cx="574.3" cy="39.22" r="1.35" stroke="#5b8cc8"/>
<circle cx="574.55" cy="38.53" r="1.35" stroke="#5b8cc8"/>
<circle cx="575" cy="31.68" r="1.35" stroke="#5b8cc8"/>
<circle cx="575.38" cy="35.72" r="1.35" stroke="#5b8cc8"/>
<circle cx="575.98" cy="41.63" r="1.35" stroke="#5b8cc8"/>
<circle cx="575.98" cy="37.95" r="1.35" stroke="#5b8cc8"/>
<circle cx="576.03" cy="28.55" r="1.35" stroke="#5b8cc8"/>
<circle cx="576.38" cy="38.69" r="1.35" stroke="#5b8cc8"/>
<circle cx="577.18" cy="44.25" r="1.35" stroke="#5b8cc8"/>
<circle cx="577.45" cy="32.31" r="1.35" stroke="#5b8cc8"/>
<circle cx="577.81" cy="35.96" r="1.35" stroke="#5b8cc8"/>
<circle cx="577.91" cy="33.18" r="1.35" stroke="#5b8cc8"/>
<circle cx="577.95" cy="33.31" r="1.35" stroke="#5b8cc8"/>
<circle cx="578.32" cy="30.74" r="1.35" stroke="#5b8cc8"/>
<circle cx="578.49" cy="31.98" r="1.35" stroke="#5b8cc8"/>
<circle cx="579.2" cy="36.4" r="1.35" stroke="#5b8cc8"/>
<circle cx="579.57" cy="38.09" r="1.35" stroke="#5b8cc8"/>
<circle cx="579.45" cy="38.15" r="1.35" stroke="#5b8cc8"/>
<circle cx="580.1" cy="37.39" r="1.35" stroke="#5b8cc8"/>
<circle cx="580.12" cy="33.92" r="1.35" stroke="#5b8cc8"/>
<circle cx="580.52" cy="31.63" r="1.35" stroke="#5b8cc8"/>
<circle cx="580.83" cy="32.05" r="1.35" stroke="#5b8cc8"/>
<circle cx="581.47" cy="33.83" r="1.35" stroke="#5b8cc8"/>
<circle cx="581.48" cy="37.2" r="1.35" stroke="#5b8cc8"/>
<circle cx="581.58" cy="40.91" r="1.35" stroke="#5b8cc8"/>
<circle cx="582.14" cy="36.9" r="1.35" stroke="#5b8cc8"/>
<circle cx="582.47" cy="31.88" r="1.35" stroke="#5b8cc8"/>
<circle cx="582.51" cy="30.29" r="1.35" stroke="#5b8cc8"/>
<circle cx="582.86" cy="33.64" r="1.35" stroke="#5b8cc8"/>
<circle cx="583.34" cy="33.26" r="1.35" stroke="#5b8cc8"/>
<circle cx="583.74" cy="35.29" r="1.35" stroke="#5b8cc8"/>
<circle cx="583.8" cy="28.68" r="1.35" stroke="#5b8cc8"/>
<circle cx="584.17" cy="35.77" r="1.35" stroke="#5b8cc8"/>
<circle cx="584.92" cy="49.65" r="1.35" stroke="#5b8cc8"/>
<circle cx="584.9" cy="34.75" r="1.35" stroke="#5b8cc8"/>
<circle cx="585.35" cy="36.4" r="1.35" stroke="#5b8cc8"/>
<circle cx="585.42" cy="33.47" r="1.35" stroke="#5b8cc8"/>
<circle cx="586.1" cy="36.56" r="1.35" stroke="#5b8cc8"/>
<circle cx="586.14" cy="33.38" r="1.35" stroke="#5b8cc8"/>
<circle cx="586.44" cy="37.45" r="1.35" stroke="#5b8cc8"/>
<circle cx="587.06" cy="46.09" r="1.35" stroke="#5b8cc8"/>
<circle cx="587.29" cy="42.34" r="1.35" stroke="#5b8cc8"/>
<circle cx="587.5" cy="37.16" r="1.35" stroke="#5b8cc8"/>
<circle cx="587.83" cy="34.16" r="1.35" stroke="#5b8cc8"/>
<circle cx="588.02" cy="39.13" r="1.35" stroke="#5b8cc8"/>
<circle cx="588.34" cy="34.77" r="1.35" stroke="#5b8cc8"/>
<circle cx="588.67" cy="35.83" r="1.35" stroke="#5b8cc8"/>
<circle cx="589.15" cy="36.3" r="1.35" stroke="#5b8cc8"/>
<circle cx="589.28" cy="31.52" r="1.35" stroke="#5b8cc8"/>
<circle cx="589.39" cy="34.08" r="1.35" stroke="#5b8cc8"/>
<circle cx="589.92" cy="46.93" r="1.35" stroke="#5b8cc8"/>
<circle cx="589.98" cy="34.91" r="1.35" stroke="#5b8cc8"/>
<circle cx="590.27" cy="29.2" r="1.35" stroke="#5b8cc8"/>
<circle cx="590.77" cy="37.49" r="1.35" stroke="#5b8cc8"/>
<circle cx="591.45" cy="34.99" r="1.35" stroke="#5b8cc8"/>
<circle cx="591.65" cy="39.23" r="1.35" stroke="#5b8cc8"/>
<circle cx="592.05" cy="45.43" r="1.35" stroke="#5b8cc8"/>
<circle cx="591.88" cy="44.12" r="1.35" stroke="#5b8cc8"/>
<circle cx="592.55" cy="27.32" r="1.35" stroke="#5b8cc8"/>
<circle cx="592.94" cy="34.56" r="1.35" stroke="#5b8cc8"/>
<circle cx="593.01" cy="42.35" r="1.35" stroke="#5b8cc8"/>
<circle cx="593.15" cy="35.28" r="1.35" stroke="#5b8cc8"/>
<circle cx="593.35" cy="40.02" r="1.35" stroke="#5b8cc8"/>
<circle cx="593.74" cy="40.79" r="1.35" stroke="#5b8cc8"/>
<circle cx="594.05" cy="33.48" r="1.35" stroke="#5b8cc8"/>
<circle cx="594.33" cy="30.49" r="1.35" stroke="#5b8cc8"/>
<circle cx="595.09" cy="34.65" r="1.35" stroke="#5b8cc8"/>
<circle cx="595.23" cy="36.96" r="1.35" stroke="#5b8cc8"/>
<circle cx="595.56" cy="34.5" r="1.35" stroke="#5b8cc8"/>
<circle cx="595.97" cy="34.63" r="1.35" stroke="#5b8cc8"/>
<circle cx="596.02" cy="46.92" r="1.35" stroke="#5b8cc8"/>
<circle cx="596.38" cy="48.88" r="1.35" stroke="#5b8cc8"/>
<circle cx="596.58" cy="41.15" r="1.35" stroke="#5b8cc8"/>
<circle cx="597.32" cy="31" r="1.35" stroke="#5b8cc8"/>
<circle cx="597.04" cy="42.18" r="1.35" stroke="#5b8cc8"/>
<circle cx="597.72" cy="31.65" r="1.35" stroke="#5b8cc8"/>
<circle cx="597.74" cy="37.53" r="1.35" stroke="#5b8cc8"/>
<circle cx="598.36" cy="35.96" r="1.35" stroke="#5b8cc8"/>
<circle cx="598.34" cy="35.73" r="1.35" stroke="#5b8cc8"/>
<circle cx="598.72" cy="31.43" r="1.35" stroke="#5b8cc8"/>
<circle cx="599.27" cy="33.22" r="1.35" stroke="#5b8cc8"/>
<circle cx="599.29" cy="38.25" r="1.35" stroke="#5b8cc8"/>
<circle cx="599.58" cy="34.63" r="1.35" stroke="#5b8cc8"/>
<circle cx="600.35" cy="36.45" r="1.35" stroke="#5b8cc8"/>
<circle cx="600.14" cy="32.02" r="1.35" stroke="#5b8cc8"/>
<circle cx="600.78" cy="32.56" r="1.35" stroke="#5b8cc8"/>
<circle cx="601.32" cy="40" r="1.35" stroke="#5b8cc8"/>
<circle cx="601.21" cy="36.61" r="1.35" stroke="#5b8cc8"/>
<circle cx="601.62" cy="35.06" r="1.35" stroke="#5b8cc8"/>
<circle cx="601.72" cy="35.8" r="1.35" stroke="#5b8cc8"/>
<circle cx="602.56" cy="35.12" r="1.35" stroke="#5b8cc8"/>
<circle cx="602.42" cy="32.27" r="1.35" stroke="#5b8cc8"/>
<circle cx="603.1" cy="32.92" r="1.35" stroke="#5b8cc8"/>
<circle cx="603.11" cy="35.32" r="1.35" stroke="#5b8cc8"/>
<circle cx="603.7" cy="36.79" r="1.35" stroke="#5b8cc8"/>
<circle cx="603.54" cy="39.1" r="1.35" stroke="#5b8cc8"/>
<circle cx="604.29" cy="30.6" r="1.35" stroke="#5b8cc8"/>
<circle cx="604.29" cy="44.03" r="1.35" stroke="#5b8cc8"/>
<circle cx="604.92" cy="37.32" r="1.35" stroke="#5b8cc8"/>
<circle cx="605.29" cy="34.97" r="1.35" stroke="#5b8cc8"/>
<circle cx="605.35" cy="32.83" r="1.35" stroke="#5b8cc8"/>
<circle cx="605.71" cy="35.15" r="1.35" stroke="#5b8cc8"/>
<circle cx="605.84" cy="40.93" r="1.35" stroke="#5b8cc8"/>
<circle cx="606.02" cy="35.47" r="1.35" stroke="#5b8cc8"/>
<circle cx="606.89" cy="38.35" r="1.35" stroke="#5b8cc8"/>
<circle cx="606.83" cy="38.04" r="1.35" stroke="#5b8cc8"/>
<circle cx="607.49" cy="33.37" r="1.35" stroke="#5b8cc8"/>
<circle cx="607.67" cy="30.4" r="1.35" stroke="#5b8cc8"/>
<circle cx="608.07" cy="26.75" r="1.35" stroke="#5b8cc8"/>
<circle cx="608.39" cy="30.12" r="1.35" stroke="#5b8cc8"/>
<circle cx="608.37" cy="37.88" r="1.35" stroke="#5b8cc8"/>
<circle cx="608.86" cy="42.77" r="1.35" stroke="#5b8cc8"/>
<circle cx="608.82" cy="39.4" r="1.35" stroke="#5b8cc8"/>
<circle cx="609.67" cy="40.99" r="1.35" stroke="#5b8cc8"/>
<circle cx="609.83" cy="37.26" r="1.35" stroke="#5b8cc8"/>
<circle cx="610.15" cy="35.45" r="1.35" stroke="#5b8cc8"/>
<circle cx="610.26" cy="34.19" r="1.35" stroke="#5b8cc8"/>
<circle cx="610.84" cy="36.6" r="1.35" stroke="#5b8cc8"/>
<circle cx="611.21" cy="34.67" r="1.35" stroke="#5b8cc8"/>
<circle cx="611.03" cy="49" r="1.35" stroke="#5b8cc8"/>
<circle cx="611.76" cy="37.25" r="1.35" stroke="#5b8cc8"/>
<circle cx="612.08" cy="33.44" r="1.35" stroke="#5b8cc8"/>
<circle cx="611.95" cy="33.26" r="1.35" stroke="#5b8cc8"/>
<circle cx="612.33" cy="43.05" r="1.35" stroke="#5b8cc8"/>
<circle cx="612.68" cy="39" r="1.35" stroke="#5b8cc8"/>
<circle cx="613.04" cy="31.36" r="1.35" stroke="#5b8cc8"/>
<circle cx="613.64" cy="44.06" r="1.35" stroke="#5b8cc8"/>
<circle cx="613.46" cy="32.06" r="1.35" stroke="#5b8cc8"/>
<circle cx="613.96" cy="37.49" r="1.35" stroke="#5b8cc8"/>
<circle cx="614.38" cy="36.96" r="1.35" stroke="#5b8cc8"/>
<circle cx="614.86" cy="42.61" r="1.35" stroke="#5b8cc8"/>
<circle cx="614.68" cy="37.26" r="1.35" stroke="#5b8cc8"/>
<circle cx="614.99" cy="41.37" r="1.35" stroke="#5b8cc8"/>
<circle cx="615.59" cy="36.06" r="1.35" stroke="#5b8cc8"/>
<circle cx="615.82" cy="33.1" r="1.35" stroke="#5b8cc8"/>
<circle cx="616.07" cy="38.18" r="1.35" stroke="#5b8cc8"/>
<circle cx="616.65" cy="34.29" r="1.35" stroke="#5b8cc8"/>
<circle cx="616.6" cy="34.33" r="1.35" stroke="#5b8cc8"/>
<circle cx="617.26" cy="34.16" r="1.35" stroke="#5b8cc8"/>
<circle cx="617.53" cy="32.98" r="1.35" stroke="#5b8cc8"/>
<circle cx="618" cy="38.23" r="1.35" stroke="#5b8cc8"/>
<circle cx="618.31" cy="37.75" r="1.35" stroke="#5b8cc8"/>
<circle cx="618.62" cy="35.65" r="1.35" stroke="#5b8cc8"/>
<circle cx="618.62" cy="37.25" r="1.35" stroke="#5b8cc8"/>
<circle cx="619.02" cy="33.42" r="1.35" stroke="#5b8cc8"/>
<circle cx="619.46" cy="33.13" r="1.35" stroke="#5b8cc8"/>
<circle cx="619.41" cy="32.47" r="1.35" stroke="#5b8cc8"/>
<circle cx="620.03" cy="35.06" r="1.35" stroke="#5b8cc8"/>
<circle cx="620.4" cy="32.91" r="1.35" stroke="#5b8cc8"/>
<circle cx="620.32" cy="27.67" r="1.35" stroke="#5b8cc8"/>
<circle cx="620.67" cy="36.95" r="1.35" stroke="#5b8cc8"/>
<circle cx="621.29" cy="36.31" r="1.35" stroke="#5b8cc8"/>
<circle cx="621.32" cy="33.32" r="1.35" stroke="#5b8cc8"/>
<circle cx="621.8" cy="36.84" r="1.35" stroke="#5b8cc8"/>
<circle cx="622.38" cy="37.86" r="1.35" stroke="#5b8cc8"/>
<circle cx="622.17" cy="36.72" r="1.35" stroke="#5b8cc8"/>
<circle cx="623" cy="34.63" r="1.35" stroke="#5b8cc8"/>
<circle cx="623.16" cy="32.77" r="1.35" stroke="#5b8cc8"/>
<circle cx="623.1" cy="35.97" r="1.35" stroke="#5b8cc8"/>
<circle cx="623.58" cy="38.63" r="1.35" stroke="#5b8cc8"/>
<circle cx="624.07" cy="35.76" r="1.35" stroke="#5b8cc8"/>
<circle cx="624.34" cy="32.96" r="1.35" stroke="#5b8cc8"/>
<circle cx="624.51" cy="35.4" r="1.35" stroke="#5b8cc8"/>
<circle cx="625.12" cy="30.54" r="1.35" stroke="#5b8cc8"/>
<circle cx="625.14" cy="36.95" r="1.35" stroke="#5b8cc8"/>
<circle cx="625.63" cy="39.53" r="1.35" stroke="#5b8cc8"/>
<circle cx="626.02" cy="30.49" r="1.35" stroke="#5b8cc8"/>
<circle cx="626.2" cy="31.77" r="1.35" stroke="#5b8cc8"/>
<circle cx="626.19" cy="35.74" r="1.35" stroke="#5b8cc8"/>
<circle cx="626.91" cy="33.61" r="1.35" stroke="#5b8cc8"/>
<circle cx="627" cy="29.71" r="1.35" stroke="#5b8cc8"/>
<circle cx="627.43" cy="30.1" r="1.35" stroke="#5b8cc8"/>
<circle cx="627.47" cy="37.74" r="1.35" stroke="#5b8cc8"/>
<circle cx="628.14" cy="31.45" r="1.35" stroke="#5b8cc8"/>
<circle cx="628.01" cy="37.48" r="1.35" stroke="#5b8cc8"/>
<circle cx="628.39" cy="36.44" r="1.35" stroke="#5b8cc8"/>
<circle cx="628.66" cy="26.06" r="1.35" stroke="#5b8cc8"/>
<circle cx="629.24" cy="33.75" r="1.35" stroke="#5b8cc8"/>
<circle cx="629.72" cy="30.3" r="1.35" stroke="#5b8cc8"/>
<circle cx="629.78" cy="37.03" r="1.35" stroke="#5b8cc8"/>
<circle cx="630.07" cy="33.78" r="1.35" stroke="#5b8cc8"/>
<circle cx="630.22" cy="42.32" r="1.35" stroke="#5b8cc8"/>
<circle cx="630.7" cy="43.75" r="1.35" stroke="#5b8cc8"/>
<circle cx="631.02" cy="33.44" r="1.35" stroke="#5b8cc8"/>
<circle cx="631.21" cy="31.26" r="1.35" stroke="#5b8cc8"/>
<circle cx="631.95" cy="31.94" r="1.35" stroke="#5b8cc8"/>
<circle cx="631.93" cy="34.04" r="1.35" stroke="#5b8cc8"/>
<circle cx="632.08" cy="35.58" r="1.35" stroke="#5b8cc8"/>
<circle cx="632.6" cy="27.8" r="1.35" stroke="#5b8cc8"/>
<circle cx="632.76" cy="37.79" r="1.35" stroke="#5b8cc8"/>
<circle cx="633.42" cy="33.63" r="1.35" stroke="#5b8cc8"/>
<circle cx="633.52" cy="33.1" r="1.35" stroke="#5b8cc8"/>
<circle cx="634.05" cy="38.85" r="1.35" stroke="#5b8cc8"/>
<circle cx="634.37" cy="33.95" r="1.35" stroke="#5b8cc8"/>
<circle cx="634.43" cy="37.9" r="1.35" stroke="#5b8cc8"/>
<circle cx="634.48" cy="33.77" r="1.35" stroke="#5b8cc8"/>
<circle cx="634.97" cy="31.33" r="1.35" stroke="#5b8cc8"/>
<circle cx="635.36" cy="30.73" r="1.35" stroke="#5b8cc8"/>
<circle cx="635.97" cy="30.12" r="1.35" stroke="#5b8cc8"/>
<circle cx="635.75" cy="38.01" r="1.35" stroke="#5b8cc8"/>
<circle cx="636.11" cy="27.11" r="1.35" stroke="#5b8cc8"/>
<circle cx="636.72" cy="34.74" r="1.35" stroke="#5b8cc8"/>
<circle cx="637.04" cy="34.22" r="1.35" stroke="#5b8cc8"/>
<circle cx="637.02" cy="35.83" r="1.35" stroke="#5b8cc8"/>
<circle cx="637.47" cy="36.23" r="1.35" stroke="#5b8cc8"/>
<circle cx="638.12" cy="34.69" r="1.35" stroke="#5b8cc8"/>
<circle cx="638.25" cy="31.92" r="1.35" stroke="#5b8cc8"/>
<circle cx="638.59" cy="39.19" r="1.35" stroke="#5b8cc8"/>
<circle cx="638.62" cy="30.02" r="1.35" stroke="#5b8cc8"/>
<circle cx="639.13" cy="33.82" r="1.35" stroke="#5b8cc8"/>
<circle cx="639.45" cy="30.03" r="1.35" stroke="#5b8cc8"/>
<circle cx="639.57" cy="43.66" r="1.35" stroke="#5b8cc8"/>
<circle cx="639.83" cy="37.28" r="1.35" stroke="#5b8cc8"/>
<circle cx="640.35" cy="47.35" r="1.35" stroke="#5b8cc8"/>
<circle cx="640.64" cy="32.11" r="1.35" stroke="#5b8cc8"/>
<circle cx="641.07" cy="35.84" r="1.35" stroke="#5b8cc8"/>
<circle cx="641.55" cy="45.26" r="1.35" stroke="#5b8cc8"/>
<circle cx="641.67" cy="38.86" r="1.35" stroke="#5b8cc8"/>
<circle cx="642.16" cy="34.75" r="1.35" stroke="#5b8cc8"/>
<circle cx="642.5" cy="29.58" r="1.35" stroke="#5b8cc8"/>
<circle cx="642.24" cy="33.53" r="1.35" stroke="#5b8cc8"/>
<circle cx="642.9" cy="29.9" r="1.35" stroke="#5b8cc8"/>
<circle cx="643.12" cy="40.02" r="1.35" stroke="#5b8cc8"/>
<circle cx="643.61" cy="34.72" r="1.35" stroke="#5b8cc8"/>
<circle cx="643.79" cy="37.57" r="1.35" stroke="#5b8cc8"/>
<circle cx="643.94" cy="35.48" r="1.35" stroke="#5b8cc8"/>
<circle cx="644.23" cy="30.37" r="1.35" stroke="#5b8cc8"/>
<circle cx="644.97" cy="29.98" r="1.35" stroke="#5b8cc8"/>
<circle cx="644.88" cy="28.24" r="1.35" stroke="#5b8cc8"/>
<circle cx="490.81" cy="18.92" r="1.35" stroke="#e0737c"/>
<circle cx="490.79" cy="18.47" r="1.35" stroke="#e0737c"/>
<circle cx="491.51" cy="25.24" r="1.35" stroke="#e0737c"/>
<circle cx="491.41" cy="19.93" r="1.35" stroke="#e0737c"/>
<circle cx="491.87" cy="24.36" r="1.35" stroke="#e0737c"/>
<circle cx="492.55" cy="22.49" r="1.35" stroke="#e0737c"/>
<circle cx="492.68" cy="19.52" r="1.35" stroke="#e0737c"/>
<circle cx="493.17" cy="17.99" r="1.35" stroke="#e0737c"/>
<circle cx="493.3" cy="19.29" r="1.35" stroke="#e0737c"/>
<circle cx="493.66" cy="19.6" r="1.35" stroke="#e0737c"/>
<circle cx="493.91" cy="21.55" r="1.35" stroke="#e0737c"/>
<circle cx="494.26" cy="20.55" r="1.35" stroke="#e0737c"/>
<circle cx="494.44" cy="22.54" r="1.35" stroke="#e0737c"/>
<circle cx="494.59" cy="21.05" r="1.35" stroke="#e0737c"/>
<circle cx="494.81" cy="23.46" r="1.35" stroke="#e0737c"/>
<circle cx="495.49" cy="15.87" r="1.35" stroke="#e0737c"/>
<circle cx="495.63" cy="24.76" r="1.35" stroke="#e0737c"/>
<circle cx="496.05" cy="17.71" r="1.35" stroke="#e0737c"/>
<circle cx="496.18" cy="21.44" r="1.35" stroke="#e0737c"/>
<circle cx="496.52" cy="25.42" r="1.35" stroke="#e0737c"/>
<circle cx="496.9" cy="18.05" r="1.35" stroke="#e0737c"/>
<circle cx="496.98" cy="17.02" r="1.35" stroke="#e0737c"/>
<circle cx="497.6" cy="23.92" r="1.35" stroke="#e0737c"/>
<circle cx="498.06" cy="22.83" r="1.35" stroke="#e0737c"/>
<circle cx="498.23" cy="25.3" r="1.35" stroke="#e0737c"/>
<circle cx="498.2" cy="20.86" r="1.35" stroke="#e0737c"/>
<circle cx="498.73" cy="16.54" r="1.35" stroke="#e0737c"/>
<circle cx="499.4" cy="18.6" r="1.35" stroke="#e0737c"/>
<circle cx="499.4" cy="21.28" r="1.35" stroke="#e0737c"/>
<circle cx="499.81" cy="23.2" r="1.35" stroke="#e0737c"/>
<circle cx="499.86" cy="22.78" r="1.35" stroke="#e0737c"/>
<circle cx="500.05" cy="22.91" r="1.35" stroke="#e0737c"/>
<circle cx="500.77" cy="28.12" r="1.35" stroke="#e0737c"/>
<circle cx="500.72" cy="27.89" r="1.35" stroke="#e0737c"/>
<circle cx="501.5" cy="22.87" r="1.35" stroke="#e0737c"/>
<circle cx="501.72" cy="22.9" r="1.35" stroke="#e0737c"/>
<circle cx="501.74" cy="22.29" r="1.35" stroke="#e0737c"/>
<circle cx="501.93" cy="20.57" r="1.35" stroke="#e0737c"/>
<circle cx="502.68" cy="21.15" r="1.35" stroke="#e0737c"/>
<circle cx="502.96" cy="16.75" r="1.35" stroke="#e0737c"/>
<circle cx="502.88" cy="19.24" r="1.35" stroke="#e0737c"/>
<circle cx="503.42" cy="19.09" r="1.35" stroke="#e0737c"/>
<circle cx="504.01" cy="22.3" r="1.35" stroke="#e0737c"/>
<circle cx="504.19" cy="30.25" r="1.35" stroke="#e0737c"/>
<circle cx="504.08" cy="26.84" r="1.35" stroke="#e0737c"/>
<circle cx="504.87" cy="22.91" r="1.35" stroke="#e0737c"/>
<circle cx="504.73" cy="20.7" r="1.35" stroke="#e0737c"/>
<circle cx="505.1" cy="27.01" r="1.35" stroke="#e0737c"/>
<circle cx="505.82" cy="21.47" r="1.35" stroke="#e0737c"/>
<circle cx="505.84" cy="22.61" r="1.35" stroke="#e0737c"/>
<circle cx="506.27" cy="18.34" r="1.35" stroke="#e0737c"/>
<circle cx="506.32" cy="24.22" r="1.35" stroke="#e0737c"/>
<circle cx="507.02" cy="19.71" r="1.35" stroke="#e0737c"/>
<circle cx="507.23" cy="25.8" r="1.35" stroke="#e0737c"/>
<circle cx="507.41" cy="18.56" r="1.35" stroke="#e0737c"/>
<circle cx="508.04" cy="26" r="1.35" stroke="#e0737c"/>
<circle cx="508.25" cy="20.26" r="1.35" stroke="#e0737c"/>
<circle cx="508.13" cy="21.52" r="1.35" stroke="#e0737c"/>
<circle cx="508.98" cy="20.91" r="1.35" stroke="#e0737c"/>
<circle cx="508.91" cy="17.16" r="1.35" stroke="#e0737c"/>
<circle cx="509.38" cy="28.15" r="1.35" stroke="#e0737c"/>
<circle cx="509.69" cy="21.75" r="1.35" stroke="#e0737c"/>
<circle cx="509.82" cy="16.89" r="1.35" stroke="#e0737c"/>
<circle cx="510.17" cy="25.28" r="1.35" stroke="#e0737c"/>
<circle cx="510.67" cy="17.43" r="1.35" stroke="#e0737c"/>
<circle cx="511.05" cy="18.75" r="1.35" stroke="#e0737c"/>
<circle cx="511.05" cy="24.9" r="1.35" stroke="#e0737c"/>
<circle cx="511.44" cy="22.59" r="1.35" stroke="#e0737c"/>
<circle cx="511.85" cy="25.09" r="1.35" stroke="#e0737c"/>
<circle cx="511.83" cy="16.83" r="1.35" stroke="#e0737c"/>
<circle cx="512.61" cy="24.85" r="1.35" stroke="#e0737c"/>
<circle cx="512.77" cy="16.99" r="1.35" stroke="#e0737c"/>
<circle cx="512.9" cy="25.81" r="1.35" stroke="#e0737c"/>
<circle cx="513.45" cy="18.2" r="1.35" stroke="#e0737c"/>
<circle cx="513.9" cy="21.86" r="1.35" stroke="#e0737c"/>
<circle cx="513.99" cy="23.62" r="1.35" stroke="#e0737c"/>
<circle cx="514.45" cy="24.11" r="1.35" stroke="#e0737c"/>
<circle cx="514.84" cy="27.34" r="1.35" stroke="#e0737c"/>
<circle cx="514.73" cy="19.05" r="1.35" stroke="#e0737c"/>
<circle cx="515.18" cy="19.78" r="1.35" stroke="#e0737c"/>
<circle cx="515.33" cy="22.44" r="1.35" stroke="#e0737c"/>
<circle cx="515.99" cy="27.6" r="1.35" stroke="#e0737c"/>
<circle cx="516.1" cy="27.23" r="1.35" stroke="#e0737c"/>
<circle cx="516.6" cy="25.45" r="1.35" stroke="#e0737c"/>
<circle cx="516.58" cy="16.99" r="1.35" stroke="#e0737c"/>
<circle cx="517.28" cy="19.54" r="1.35" stroke="#e0737c"/>
<circle cx="517.38" cy="18.65" r="1.35" stroke="#e0737c"/>
<circle cx="517.49" cy="23.2" r="1.35" stroke="#e0737c"/>
<circle cx="517.8" cy="24.58" r="1.35" stroke="#e0737c"/>
<circle cx="518.21" cy="26.84" r="1.35" stroke="#e0737c"/>
<circle cx="518.64" cy="19.66" r="1.35" stroke="#e0737c"/>
<circle cx="518.7" cy="24.7" r="1.35" stroke="#e0737c"/>
<circle cx="518.95" cy="25.53" r="1.35" stroke="#e0737c"/>
<circle cx="519.29" cy="22.57" r="1.35" stroke="#e0737c"/>
<circle cx="519.92" cy="23.03" r="1.35" stroke="#e0737c"/>
<circle cx="520.21" cy="20.93" r="1.35" stroke="#e0737c"/>
<circle cx="520.36" cy="22.02" r="1.35" stroke="#e0737c"/>
<circle cx="520.49" cy="22.56" r="1.35" stroke="#e0737c"/>
<circle cx="521.37" cy="24.94" r="1.35" stroke="#e0737c"/>
<circle cx="521.43" cy="20.06" r="1.35" stroke="#e0737c"/>
<circle cx="521.55" cy="23.22" r="1.35" stroke="#e0737c"/>
<circle cx="522.27" cy="19.54" r="1.35" stroke="#e0737c"/>
<circle cx="522.47" cy="25.88" r="1.35" stroke="#e0737c"/>
<circle cx="522.48" cy="15.64" r="1.35" stroke="#e0737c"/>
<circle cx="522.66" cy="23.22" r="1.35" stroke="#e0737c"/>
<circle cx="522.99" cy="24.46" r="1.35" stroke="#e0737c"/>
<circle cx="523.28" cy="16.98" r="1.35" stroke="#e0737c"/>
<circle cx="523.84" cy="20.52" r="1.35" stroke="#e0737c"/>
<circle cx="524.44" cy="23.58" r="1.35" stroke="#e0737c"/>
<circle cx="524.54" cy="22.08" r="1.35" stroke="#e0737c"/>
<circle cx="524.73" cy="28.2" r="1.35" stroke="#e0737c"/>
<circle cx="524.95" cy="27.86" r="1.35" stroke="#e0737c"/>
<circle cx="525.45" cy="17.91" r="1.35" stroke="#e0737c"/>
<circle cx="525.82" cy="16.87" r="1.35" stroke="#e0737c"/>
<circle cx="525.96" cy="21" r="1.35" stroke="#e0737c"/>
<circle cx="526.62" cy="23.24" r="1.35" stroke="#e0737c"/>
<circle cx="526.94" cy="22.83" r="1.35" stroke="#e0737c"/>
<circle cx="526.81" cy="23.51" r="1.35" stroke="#e0737c"/>
<circle cx="527.18" cy="28.01" r="1.35" stroke="#e0737c"/>
<circle cx="527.78" cy="18.96" r="1.35" stroke="#e0737c"/>
<circle cx="527.61" cy="23.76" r="1.35" stroke="#e0737c"/>
<circle cx="528.28" cy="18.1" r="1.35" stroke="#e0737c"/>
<circle cx="528.79" cy="24.27" r="1.35" stroke="#e0737c"/>
<circle cx="528.96" cy="23.27" r="1.35" stroke="#e0737c"/>
<circle cx="529.38" cy="21.58" r="1.35" stroke="#e0737c"/>
<circle cx="529.48" cy="20.44" r="1.35" stroke="#e0737c"/>
<circle cx="529.89" cy="24.8" r="1.35" stroke="#e0737c"/>
<circle cx="529.9" cy="24.34" r="1.35" stroke="#e0737c"/>
<circle cx="530.13" cy="20.9" r="1.35" stroke="#e0737c"/>
<circle cx="530.51" cy="22.92" r="1.35" stroke="#e0737c"/>
<circle cx="530.76" cy="22.5" r="1.35" stroke="#e0737c"/>
<circle cx="531.42" cy="22.29" r="1.35" stroke="#e0737c"/>
<circle cx="531.41" cy="29.42" r="1.35" stroke="#e0737c"/>
<circle cx="531.74" cy="24.26" r="1.35" stroke="#e0737c"/>
<circle cx="532.47" cy="26.93" r="1.35" stroke="#e0737c"/>
<circle cx="532.31" cy="18.06" r="1.35" stroke="#e0737c"/>
<circle cx="532.8" cy="28.38" r="1.35" stroke="#e0737c"/>
<circle cx="533.35" cy="26.68" r="1.35" stroke="#e0737c"/>
<circle cx="533.53" cy="20.12" r="1.35" stroke="#e0737c"/>
<circle cx="533.96" cy="23.54" r="1.35" stroke="#e0737c"/>
<circle cx="534.06" cy="21.58" r="1.35" stroke="#e0737c"/>
<circle cx="534.21" cy="21.54" r="1.35" stroke="#e0737c"/>
<circle cx="534.42" cy="21.88" r="1.35" stroke="#e0737c"/>
<circle cx="534.79" cy="19.03" r="1.35" stroke="#e0737c"/>
<circle cx="535.53" cy="22.43" r="1.35" stroke="#e0737c"/>
<circle cx="535.41" cy="25.82" r="1.35" stroke="#e0737c"/>
<circle cx="535.79" cy="24.2" r="1.35" stroke="#e0737c"/>
<circle cx="536.04" cy="20.46" r="1.35" stroke="#e0737c"/>
<circle cx="536.54" cy="20.07" r="1.35" stroke="#e0737c"/>
<circle cx="536.62" cy="28.66" r="1.35" stroke="#e0737c"/>
<circle cx="537.45" cy="28.73" r="1.35" stroke="#e0737c"/>
<circle cx="537.58" cy="24.99" r="1.35" stroke="#e0737c"/>
<circle cx="537.61" cy="20.33" r="1.35" stroke="#e0737c"/>
<circle cx="537.95" cy="23.12" r="1.35" stroke="#e0737c"/>
<circle cx="538.22" cy="16.71" r="1.35" stroke="#e0737c"/>
<circle cx="539.01" cy="29.71" r="1.35" stroke="#e0737c"/>
<circle cx="539.28" cy="24.8" r="1.35" stroke="#e0737c"/>
<circle cx="539.57" cy="24.2" r="1.35" stroke="#e0737c"/>
<circle cx="539.37" cy="22.41" r="1.35" stroke="#e0737c"/>
<circle cx="540.24" cy="20.31" r="1.35" stroke="#e0737c"/>
<circle cx="539.97" cy="23.75" r="1.35" stroke="#e0737c"/>
<circle cx="540.35" cy="20.22" r="1.35" stroke="#e0737c"/>
<circle cx="540.58" cy="24.6" r="1.35" stroke="#e0737c"/>
<circle cx="541" cy="19.6" r="1.35" stroke="#e0737c"/>
<circle cx="541.46" cy="24.59" r="1.35" stroke="#e0737c"/>
<circle cx="541.85" cy="21.69" r="1.35" stroke="#e0737c"/>
<circle cx="541.9" cy="24.99" r="1.35" stroke="#e0737c"/>
<circle cx="542.55" cy="27.46" r="1.35" stroke="#e0737c"/>
<circle cx="542.55" cy="23.93" r="1.35" stroke="#e0737c"/>
<circle cx="543.11" cy="23.42" r="1.35" stroke="#e0737c"/>
<circle cx="543.35" cy="22.5" r="1.35" stroke="#e0737c"/>
<circle cx="543.73" cy="24.83" r="1.35" stroke="#e0737c"/>
<circle cx="544.1" cy="24.31" r="1.35" stroke="#e0737c"/>
<circle cx="544.1" cy="19.14" r="1.35" stroke="#e0737c"/>
<circle cx="544.33" cy="22.49" r="1.35" stroke="#e0737c"/>
<circle cx="545.03" cy="19.77" r="1.35" stroke="#e0737c"/>
<circle cx="544.94" cy="23.83" r="1.35" stroke="#e0737c"/>
<circle cx="545.72" cy="20.31" r="1.35" stroke="#e0737c"/>
<circle cx="546.05" cy="22.3" r="1.35" stroke="#e0737c"/>
<circle cx="546.38" cy="22.85" r="1.35" stroke="#e0737c"/>
<circle cx="546.43" cy="24.47" r="1.35" stroke="#e0737c"/>
<circle cx="546.57" cy="21.14" r="1.35" stroke="#e0737c"/>
<circle cx="547.26" cy="21.63" r="1.35" stroke="#e0737c"/>
<circle cx="547.3" cy="24.17" r="1.35" stroke="#e0737c"/>
<circle cx="547.74" cy="26.48" r="1.35" stroke="#e0737c"/>
<circle cx="547.96" cy="22.95" r="1.35" stroke="#e0737c"/>
<circle cx="548.31" cy="26.29" r="1.35" stroke="#e0737c"/>
<circle cx="548.8" cy="26.12" r="1.35" stroke="#e0737c"/>
<circle cx="549.14" cy="20.81" r="1.35" stroke="#e0737c"/>
<circle cx="549.16" cy="27.12" r="1.35" stroke="#e0737c"/>
<circle cx="549.69" cy="28.5" r="1.35" stroke="#e0737c"/>
<circle cx="550.12" cy="25.15" r="1.35" stroke="#e0737c"/>
<circle cx="550.16" cy="19.19" r="1.35" stroke="#e0737c"/>
<circle cx="550.49" cy="22.56" r="1.35" stroke="#e0737c"/>
<circle cx="550.49" cy="24.96" r="1.35" stroke="#e0737c"/>
<circle cx="550.9" cy="22.44" r="1.35" stroke="#e0737c"/>
<circle cx="551.16" cy="22.86" r="1.35" stroke="#e0737c"/>
<circle cx="551.42" cy="28.4" r="1.35" stroke="#e0737c"/>
<circle cx="551.77" cy="22.25" r="1.35" stroke="#e0737c"/>
<circle cx="552.04" cy="21" r="1.35" stroke="#e0737c"/>
<circle cx="552.69" cy="19.64" r="1.35" stroke="#e0737c"/>
<circle cx="553.07" cy="21.2" r="1.35" stroke="#e0737c"/>
<circle cx="553.02" cy="26.14" r="1.35" stroke="#e0737c"/>
<circle cx="553.29" cy="19.4" r="1.35" stroke="#e0737c"/>
<circle cx="553.65" cy="19.36" r="1.35" stroke="#e0737c"/>
<circle cx="554.05" cy="23.04" r="1.35" stroke="#e0737c"/>
<circle cx="554.26" cy="21.55" r="1.35" stroke="#e0737c"/>
<circle cx="554.86" cy="23.81" r="1.35" stroke="#e0737c"/>
<circle cx="555.33" cy="25.26" r="1.35" stroke="#e0737c"/>
<circle cx="555.57" cy="26.03" r="1.35" stroke="#e0737c"/>
<circle cx="555.53" cy="26.15" r="1.35" stroke="#e0737c"/>
<circle cx="555.97" cy="16.63" r="1.35" stroke="#e0737c"/>
<circle cx="556.3" cy="24.87" r="1.35" stroke="#e0737c"/>
<circle cx="556.59" cy="19.82" r="1.35" stroke="#e0737c"/>
<circle cx="557.23" cy="23.37" r="1.35" stroke="#e0737c"/>
<circle cx="557.12" cy="20.23" r="1.35" stroke="#e0737c"/>
<circle cx="557.49" cy="15.14" r="1.35" stroke="#e0737c"/>
<circle cx="558.08" cy="26.25" r="1.35" stroke="#e0737c"/>
<circle cx="558.45" cy="25.24" r="1.35" stroke="#e0737c"/>
<circle cx="558.25" cy="17.59" r="1.35" stroke="#e0737c"/>
<circle cx="558.83" cy="29.69" r="1.35" stroke="#e0737c"/>
<circle cx="558.98" cy="21.1" r="1.35" stroke="#e0737c"/>
<circle cx="559.39" cy="21.01" r="1.35" stroke="#e0737c"/>
<circle cx="559.77" cy="20.82" r="1.35" stroke="#e0737c"/>
<circle cx="559.8" cy="19.69" r="1.35" stroke="#e0737c"/>
<circle cx="560.08" cy="24.39" r="1.35" stroke="#e0737c"/>
<circle cx="560.46" cy="28.04" r="1.35" stroke="#e0737c"/>
<circle cx="561.25" cy="21.96" r="1.35" stroke="#e0737c"/>
<circle cx="561.38" cy="25.22" r="1.35" stroke="#e0737c"/>
<circle cx="561.84" cy="17.15" r="1.35" stroke="#e0737c"/>
<circle cx="561.64" cy="21.47" r="1.35" stroke="#e0737c"/>
<circle cx="562.33" cy="21.12" r="1.35" stroke="#e0737c"/>
<circle cx="562.4" cy="16.38" r="1.35" stroke="#e0737c"/>
<circle cx="562.92" cy="21.17" r="1.35" stroke="#e0737c"/>
<circle cx="563" cy="19.79" r="1.35" stroke="#e0737c"/>
<circle cx="563.73" cy="22.56" r="1.35" stroke="#e0737c"/>
<circle cx="563.65" cy="21.49" r="1.35" stroke="#e0737c"/>
<circle cx="563.85" cy="27.04" r="1.35" stroke="#e0737c"/>
<circle cx="564.45" cy="26.44" r="1.35" stroke="#e0737c"/>
<circle cx="564.56" cy="21.99" r="1.35" stroke="#e0737c"/>
<circle cx="564.99" cy="21.31" r="1.35" stroke="#e0737c"/>
<circle cx="565.09" cy="22.62" r="1.35" stroke="#e0737c"/>
<circle cx="565.41" cy="22.15" r="1.35" stroke="#e0737c"/>
<circle cx="565.81" cy="25.93" r="1.35" stroke="#e0737c"/>
<circle cx="566.09" cy="26.2" r="1.35" stroke="#e0737c"/>
<circle cx="566.76" cy="24.97" r="1.35" stroke="#e0737c"/>
<circle cx="566.93" cy="19.06" r="1.35" stroke="#e0737c"/>
<circle cx="567" cy="21.14" r="1.35" stroke="#e0737c"/>
<circle cx="567.61" cy="19.33" r="1.35" stroke="#e0737c"/>
<circle cx="567.86" cy="23.92" r="1.35" stroke="#e0737c"/>
<circle cx="568.09" cy="22.17" r="1.35" stroke="#e0737c"/>
<circle cx="568.25" cy="25.08" r="1.35" stroke="#e0737c"/>
<circle cx="568.73" cy="20.05" r="1.35" stroke="#e0737c"/>
<circle cx="568.74" cy="25.68" r="1.35" stroke="#e0737c"/>
<circle cx="569.25" cy="24.44" r="1.35" stroke="#e0737c"/>
<circle cx="569.69" cy="21.32" r="1.35" stroke="#e0737c"/>
<circle cx="569.96" cy="21.09" r="1.35" stroke="#e0737c"/>
<circle cx="570.15" cy="31.69" r="1.35" stroke="#e0737c"/>
<circle cx="570.74" cy="23.63" r="1.35" stroke="#e0737c"/>
<circle cx="571.11" cy="23.96" r="1.35" stroke="#e0737c"/>
<circle cx="571.16" cy="25.77" r="1.35" stroke="#e0737c"/>
<circle cx="571.47" cy="24.16" r="1.35" stroke="#e0737c"/>
<circle cx="571.96" cy="24.69" r="1.35" stroke="#e0737c"/>
<circle cx="572.4" cy="24.39" r="1.35" stroke="#e0737c"/>
<circle cx="572.58" cy="24.57" r="1.35" stroke="#e0737c"/>
<circle cx="572.66" cy="25.28" r="1.35" stroke="#e0737c"/>
<circle cx="573.16" cy="18.69" r="1.35" stroke="#e0737c"/>
<circle cx="573.56" cy="19.14" r="1.35" stroke="#e0737c"/>
<circle cx="573.68" cy="22.7" r="1.35" stroke="#e0737c"/>
<circle cx="574.14" cy="18.11" r="1.35" stroke="#e0737c"/>
<circle cx="574.28" cy="24.08" r="1.35" stroke="#e0737c"/>
<circle cx="574.85" cy="18.45" r="1.35" stroke="#e0737c"/>
<circle cx="574.69" cy="23.25" r="1.35" stroke="#e0737c"/>
<circle cx="575.38" cy="22.85" r="1.35" stroke="#e0737c"/>
<circle cx="575.58" cy="15.36" r="1.35" stroke="#e0737c"/>
<circle cx="575.88" cy="23.16" r="1.35" stroke="#e0737c"/>
<circle cx="576.1" cy="24.34" r="1.35" stroke="#e0737c"/>
<circle cx="576.52" cy="17.11" r="1.35" stroke="#e0737c"/>
<circle cx="576.7" cy="19.9" r="1.35" stroke="#e0737c"/>
<circle cx="577.21" cy="24.05" r="1.35" stroke="#e0737c"/>
<circle cx="577.26" cy="20.12" r="1.35" stroke="#e0737c"/>
<circle cx="577.63" cy="25.5" r="1.35" stroke="#e0737c"/>
<circle cx="577.9" cy="24.43" r="1.35" stroke="#e0737c"/>
<circle cx="578.31" cy="17.4" r="1.35" stroke="#e0737c"/>
<circle cx="578.59" cy="24.11" r="1.35" stroke="#e0737c"/>
<circle cx="578.72" cy="25.42" r="1.35" stroke="#e0737c"/>
<circle cx="579.29" cy="21.97" r="1.35" stroke="#e0737c"/>
<circle cx="579.8" cy="22.46" r="1.35" stroke="#e0737c"/>
<circle cx="579.76" cy="26.26" r="1.35" stroke="#e0737c"/>
<circle cx="580.45" cy="18.33" r="1.35" stroke="#e0737c"/>
<circle cx="580.3" cy="17.2" r="1.35" stroke="#e0737c"/>
<circle cx="580.5" cy="26.04" r="1.35" stroke="#e0737c"/>
<circle cx="580.83" cy="19.87" r="1.35" stroke="#e0737c"/>
<circle cx="581.66" cy="21.71" r="1.35" stroke="#e0737c"/>
<circle cx="581.88" cy="12.69" r="1.35" stroke="#e0737c"/>
<circle cx="582.04" cy="20.54" r="1.35" stroke="#e0737c"/>
<circle cx="582.35" cy="21.93" r="1.35" stroke="#e0737c"/>
<circle cx="582.56" cy="20.38" r="1.35" stroke="#e0737c"/>
<circle cx="583.01" cy="18.79" r="1.35" stroke="#e0737c"/>
<circle cx="583.37" cy="28.99" r="1.35" stroke="#e0737c"/>
<circle cx="583.59" cy="25.48" r="1.35" stroke="#e0737c"/>
<circle cx="583.82" cy="24.82" r="1.35" stroke="#e0737c"/>
<circle cx="584.23" cy="17.61" r="1.35" stroke="#e0737c"/>
<circle cx="584.78" cy="20.36" r="1.35" stroke="#e0737c"/>
<circle cx="584.8" cy="19.22" r="1.35" stroke="#e0737c"/>
<circle cx="585.42" cy="24.68" r="1.35" stroke="#e0737c"/>
<circle cx="585.34" cy="17.72" r="1.35" stroke="#e0737c"/>
<circle cx="585.54" cy="22.1" r="1.35" stroke="#e0737c"/>
<circle cx="585.94" cy="28.7" r="1.35" stroke="#e0737c"/>
<circle cx="586.37" cy="22.38" r="1.35" stroke="#e0737c"/>
<circle cx="586.44" cy="26.76" r="1.35" stroke="#e0737c"/>
<circle cx="587.17" cy="20.32" r="1.35" stroke="#e0737c"/>
<circle cx="587.58" cy="25.54" r="1.35" stroke="#e0737c"/>
<circle cx="587.39" cy="21.13" r="1.35" stroke="#e0737c"/>
<circle cx="587.78" cy="19.61" r="1.35" stroke="#e0737c"/>
<circle cx="588.03" cy="22.9" r="1.35" stroke="#e0737c"/>
<circle cx="588.33" cy="20.37" r="1.35" stroke="#e0737c"/>
<circle cx="588.75" cy="20.19" r="1.35" stroke="#e0737c"/>
<circle cx="589.44" cy="22.59" r="1.35" stroke="#e0737c"/>
<circle cx="589.4" cy="22.5" r="1.35" stroke="#e0737c"/>
<circle cx="589.94" cy="21.57" r="1.35" stroke="#e0737c"/>
<circle cx="589.77" cy="27.48" r="1.35" stroke="#e0737c"/>
<circle cx="590.26" cy="25.35" r="1.35" stroke="#e0737c"/>
<circle cx="590.79" cy="19.84" r="1.35" stroke="#e0737c"/>
<circle cx="590.82" cy="19.37" r="1.35" stroke="#e0737c"/>
<circle cx="591.17" cy="23.23" r="1.35" stroke="#e0737c"/>
<circle cx="591.71" cy="13.13" r="1.35" stroke="#e0737c"/>
<circle cx="591.97" cy="21.17" r="1.35" stroke="#e0737c"/>
<circle cx="592.18" cy="24.45" r="1.35" stroke="#e0737c"/>
<circle cx="592.7" cy="24.4" r="1.35" stroke="#e0737c"/>
<circle cx="592.62" cy="24.68" r="1.35" stroke="#e0737c"/>
<circle cx="593.18" cy="24.27" r="1.35" stroke="#e0737c"/>
<circle cx="593.67" cy="19.07" r="1.35" stroke="#e0737c"/>
<circle cx="593.52" cy="19.66" r="1.35" stroke="#e0737c"/>
<circle cx="593.8" cy="23.54" r="1.35" stroke="#e0737c"/>
<circle cx="594.53" cy="20.58" r="1.35" stroke="#e0737c"/>
<circle cx="594.63" cy="24.35" r="1.35" stroke="#e0737c"/>
<circle cx="594.78" cy="25.28" r="1.35" stroke="#e0737c"/>
<circle cx="595.57" cy="20.8" r="1.35" stroke="#e0737c"/>
<circle cx="595.61" cy="21.84" r="1.35" stroke="#e0737c"/>
<circle cx="595.88" cy="29.16" r="1.35" stroke="#e0737c"/>
<circle cx="596.31" cy="25.35" r="1.35" stroke="#e0737c"/>
<circle cx="596.85" cy="19.34" r="1.35" stroke="#e0737c"/>
<circle cx="596.73" cy="24.77" r="1.35" stroke="#e0737c"/>
<circle cx="596.91" cy="28.57" r="1.35" stroke="#e0737c"/>
<circle cx="597.39" cy="20.75" r="1.35" stroke="#e0737c"/>
<circle cx="598.05" cy="24.26" r="1.35" stroke="#e0737c"/>
<circle cx="598.18" cy="20.9" r="1.35" stroke="#e0737c"/>
<circle cx="598.7" cy="15.9" r="1.35" stroke="#e0737c"/>
<circle cx="598.58" cy="23.44" r="1.35" stroke="#e0737c"/>
<circle cx="598.98" cy="22.82" r="1.35" stroke="#e0737c"/>
<circle cx="599.24" cy="21.16" r="1.35" stroke="#e0737c"/>
<circle cx="599.89" cy="17.95" r="1.35" stroke="#e0737c"/>
<circle cx="599.82" cy="23.77" r="1.35" stroke="#e0737c"/>
<circle cx="600.09" cy="22.04" r="1.35" stroke="#e0737c"/>
<circle cx="600.87" cy="24.75" r="1.35" stroke="#e0737c"/>
<circle cx="600.78" cy="21.88" r="1.35" stroke="#e0737c"/>
<circle cx="601.23" cy="22.7" r="1.35" stroke="#e0737c"/>
<circle cx="601.45" cy="22.35" r="1.35" stroke="#e0737c"/>
<circle cx="601.6" cy="23.89" r="1.35" stroke="#e0737c"/>
<circle cx="602.33" cy="21.93" r="1.35" stroke="#e0737c"/>
<circle cx="602.26" cy="25.08" r="1.35" stroke="#e0737c"/>
<circle cx="602.63" cy="23.33" r="1.35" stroke="#e0737c"/>
<circle cx="603.17" cy="24.07" r="1.35" stroke="#e0737c"/>
<circle cx="603.28" cy="25.89" r="1.35" stroke="#e0737c"/>
<circle cx="603.44" cy="27.17" r="1.35" stroke="#e0737c"/>
<circle cx="603.86" cy="24.08" r="1.35" stroke="#e0737c"/>
<circle cx="604.27" cy="21.93" r="1.35" stroke="#e0737c"/>
<circle cx="604.82" cy="23.88" r="1.35" stroke="#e0737c"/>
<circle cx="604.84" cy="21.62" r="1.35" stroke="#e0737c"/>
<circle cx="605.37" cy="17.88" r="1.35" stroke="#e0737c"/>
<circle cx="605.37" cy="28.58" r="1.35" stroke="#e0737c"/>
<circle cx="606.12" cy="21.14" r="1.35" stroke="#e0737c"/>
<circle cx="606.13" cy="23.23" r="1.35" stroke="#e0737c"/>
<circle cx="606.25" cy="22.67" r="1.35" stroke="#e0737c"/>
<circle cx="607.02" cy="21.06" r="1.35" stroke="#e0737c"/>
<circle cx="607.14" cy="21.78" r="1.35" stroke="#e0737c"/>
<circle cx="607.46" cy="24.97" r="1.35" stroke="#e0737c"/>
<circle cx="607.54" cy="24.38" r="1.35" stroke="#e0737c"/>
<circle cx="608.03" cy="22.21" r="1.35" stroke="#e0737c"/>
<circle cx="608.35" cy="22.65" r="1.35" stroke="#e0737c"/>
<circle cx="608.57" cy="28.43" r="1.35" stroke="#e0737c"/>
<circle cx="609.04" cy="20.96" r="1.35" stroke="#e0737c"/>
<circle cx="609.19" cy="22.25" r="1.35" stroke="#e0737c"/>
<circle cx="609.32" cy="25.91" r="1.35" stroke="#e0737c"/>
<circle cx="609.77" cy="28.57" r="1.35" stroke="#e0737c"/>
<circle cx="610.28" cy="26.31" r="1.35" stroke="#e0737c"/>
<circle cx="610.41" cy="25.77" r="1.35" stroke="#e0737c"/>
<circle cx="610.8" cy="23.01" r="1.35" stroke="#e0737c"/>
<circle cx="611" cy="24.39" r="1.35" stroke="#e0737c"/>
<circle cx="611.26" cy="26.68" r="1.35" stroke="#e0737c"/>
<circle cx="611.6" cy="26.73" r="1.35" stroke="#e0737c"/>
<circle cx="611.98" cy="27.7" r="1.35" stroke="#e0737c"/>
<circle cx="612.58" cy="20.54" r="1.35" stroke="#e0737c"/>
<circle cx="612.88" cy="24.98" r="1.35" stroke="#e0737c"/>
<circle cx="612.69" cy="25.13" r="1.35" stroke="#e0737c"/>
<circle cx="613.38" cy="21.91" r="1.35" stroke="#e0737c"/>
<circle cx="613.53" cy="20.96" r="1.35" stroke="#e0737c"/>
<circle cx="613.99" cy="22.65" r="1.35" stroke="#e0737c"/>
<circle cx="614.41" cy="21.21" r="1.35" stroke="#e0737c"/>
<circle cx="614.43" cy="22.05" r="1.35" stroke="#e0737c"/>
<circle cx="614.59" cy="21.99" r="1.35" stroke="#e0737c"/>
<circle cx="615.38" cy="22.89" r="1.35" stroke="#e0737c"/>
<circle cx="615.17" cy="18.65" r="1.35" stroke="#e0737c"/>
<circle cx="615.48" cy="24.42" r="1.35" stroke="#e0737c"/>
<circle cx="615.94" cy="25.07" r="1.35" stroke="#e0737c"/>
<circle cx="616.3" cy="25.89" r="1.35" stroke="#e0737c"/>
<circle cx="616.76" cy="24.01" r="1.35" stroke="#e0737c"/>
<circle cx="616.8" cy="25.46" r="1.35" stroke="#e0737c"/>
<circle cx="617.43" cy="20.08" r="1.35" stroke="#e0737c"/>
<circle cx="617.46" cy="19.2" r="1.35" stroke="#e0737c"/>
<circle cx="617.83" cy="25.2" r="1.35" stroke="#e0737c"/>
<circle cx="617.93" cy="26.01" r="1.35" stroke="#e0737c"/>
<circle cx="618.41" cy="18.91" r="1.35" stroke="#e0737c"/>
<circle cx="618.57" cy="25.89" r="1.35" stroke="#e0737c"/>
<circle cx="618.88" cy="20.14" r="1.35" stroke="#e0737c"/>
<circle cx="619.31" cy="27.47" r="1.35" stroke="#e0737c"/>
<circle cx="619.6" cy="26.82" r="1.35" stroke="#e0737c"/>
<circle cx="620.33" cy="23.4" r="1.35" stroke="#e0737c"/>
<circle cx="620.51" cy="22.13" r="1.35" stroke="#e0737c"/>
<circle cx="620.64" cy="23.32" r="1.35" stroke="#e0737c"/>
<circle cx="620.88" cy="17.78" r="1.35" stroke="#e0737c"/>
<circle cx="621.08" cy="26.39" r="1.35" stroke="#e0737c"/>
<circle cx="621.89" cy="22.37" r="1.35" stroke="#e0737c"/>
<circle cx="622.06" cy="23.02" r="1.35" stroke="#e0737c"/>
<circle cx="622.33" cy="17.79" r="1.35" stroke="#e0737c"/>
<circle cx="622.53" cy="27.8" r="1.35" stroke="#e0737c"/>
<circle cx="622.83" cy="24.98" r="1.35" stroke="#e0737c"/>
<circle cx="623.19" cy="24.84" r="1.35" stroke="#e0737c"/>
<circle cx="623.64" cy="22.75" r="1.35" stroke="#e0737c"/>
<circle cx="623.52" cy="21.84" r="1.35" stroke="#e0737c"/>
<circle cx="623.96" cy="18.24" r="1.35" stroke="#e0737c"/>
<circle cx="624.44" cy="27.63" r="1.35" stroke="#e0737c"/>
<circle cx="624.75" cy="22.62" r="1.35" stroke="#e0737c"/>
<circle cx="624.88" cy="26.07" r="1.35" stroke="#e0737c"/>
<circle cx="625.29" cy="24.47" r="1.35" stroke="#e0737c"/>
<circle cx="625.47" cy="22.84" r="1.35" stroke="#e0737c"/>
<circle cx="626.09" cy="24.96" r="1.35" stroke="#e0737c"/>
<circle cx="626.37" cy="23.62" r="1.35" stroke="#e0737c"/>
<circle cx="626.59" cy="25.68" r="1.35" stroke="#e0737c"/>
<circle cx="626.86" cy="26.03" r="1.35" stroke="#e0737c"/>
<circle cx="627.08" cy="22.36" r="1.35" stroke="#e0737c"/>
<circle cx="627.74" cy="25.89" r="1.35" stroke="#e0737c"/>
<circle cx="627.72" cy="26.47" r="1.35" stroke="#e0737c"/>
<circle cx="628.32" cy="18.63" r="1.35" stroke="#e0737c"/>
<circle cx="628.24" cy="21.95" r="1.35" stroke="#e0737c"/>
<circle cx="628.85" cy="20.76" r="1.35" stroke="#e0737c"/>
<circle cx="629.22" cy="21.54" r="1.35" stroke="#e0737c"/>
<circle cx="629.56" cy="25.34" r="1.35" stroke="#e0737c"/>
<circle cx="629.59" cy="25.11" r="1.35" stroke="#e0737c"/>
<circle cx="629.81" cy="25.74" r="1.35" stroke="#e0737c"/>
<circle cx="630.11" cy="24.39" r="1.35" stroke="#e0737c"/>
<circle cx="630.72" cy="22.09" r="1.35" stroke="#e0737c"/>
<circle cx="630.81" cy="23.96" r="1.35" stroke="#e0737c"/>
<circle cx="631.2" cy="22.3" r="1.35" stroke="#e0737c"/>
<circle cx="631.27" cy="24.87" r="1.35" stroke="#e0737c"/>
<circle cx="631.55" cy="28.49" r="1.35" stroke="#e0737c"/>
<circle cx="631.9" cy="23.25" r="1.35" stroke="#e0737c"/>
<circle cx="632.59" cy="27.33" r="1.35" stroke="#e0737c"/>
<circle cx="632.53" cy="23.02" r="1.35" stroke="#e0737c"/>
<circle cx="633.07" cy="21.72" r="1.35" stroke="#e0737c"/>
<circle cx="633.41" cy="24.29" r="1.35" stroke="#e0737c"/>
<circle cx="633.4" cy="27.29" r="1.35" stroke="#e0737c"/>
<circle cx="634.08" cy="21.42" r="1.35" stroke="#e0737c"/>
<circle cx="634.58" cy="22.2" r="1.35" stroke="#e0737c"/>
<circle cx="634.47" cy="21.65" r="1.35" stroke="#e0737c"/>
<circle cx="634.72" cy="28.62" r="1.35" stroke="#e0737c"/>
<circle cx="635.45" cy="24.42" r="1.35" stroke="#e0737c"/>
<circle cx="635.43" cy="25.2" r="1.35" stroke="#e0737c"/>
<circle cx="636.07" cy="27.46" r="1.35" stroke="#e0737c"/>
<circle cx="636.43" cy="26.11" r="1.35" stroke="#e0737c"/>
<circle cx="636.68" cy="28.11" r="1.35" stroke="#e0737c"/>
<circle cx="636.94" cy="22.65" r="1.35" stroke="#e0737c"/>
<circle cx="637.3" cy="25.23" r="1.35" stroke="#e0737c"/>
<circle cx="637.3" cy="20.97" r="1.35" stroke="#e0737c"/>
<circle cx="637.64" cy="26.33" r="1.35" stroke="#e0737c"/>
<circle cx="638.23" cy="23.6" r="1.35" stroke="#e0737c"/>
<circle cx="638.38" cy="24.41" r="1.35" stroke="#e0737c"/>
<circle cx="638.72" cy="25.54" r="1.35" stroke="#e0737c"/>
<circle cx="639.2" cy="19.3" r="1.35" stroke="#e0737c"/>
<circle cx="639.53" cy="20.03" r="1.35" stroke="#e0737c"/>
<circle cx="639.37" cy="23.68" r="1.35" stroke="#e0737c"/>
<circle cx="639.77" cy="22.49" r="1.35" stroke="#e0737c"/>
<circle cx="640.31" cy="22.96" r="1.35" stroke="#e0737c"/>
<circle cx="640.3" cy="16.13" r="1.35" stroke="#e0737c"/>
<circle cx="640.57" cy="26.34" r="1.35" stroke="#e0737c"/>
<circle cx="640.85" cy="21.75" r="1.35" stroke="#e0737c"/>
<circle cx="641.57" cy="24.29" r="1.35" stroke="#e0737c"/>
<circle cx="641.44" cy="26.76" r="1.35" stroke="#e0737c"/>
<circle cx="642.22" cy="18.61" r="1.35" stroke="#e0737c"/>
<circle cx="642.32" cy="22.66" r="1.35" stroke="#e0737c"/>
<circle cx="642.68" cy="27.9" r="1.35" stroke="#e0737c"/>
<circle cx="642.93" cy="21.88" r="1.35" stroke="#e0737c"/>
<circle cx="643.39" cy="26.32" r="1.35" stroke="#e0737c"/>
<circle cx="643.79" cy="25.07" r="1.35" stroke="#e0737c"/>
<circle cx="643.79" cy="22.57" r="1.35" stroke="#e0737c"/>
<circle cx="644.18" cy="21.03" r="1.35" stroke="#e0737c"/>
<circle cx="644.34" cy="22.52" r="1.35" stroke="#e0737c"/>
<circle cx="644.59" cy="22.11" r="1.35" stroke="#e0737c"/>
<circle cx="645.43" cy="26.58" r="1.35" stroke="#e0737c"/>
</g>
<path d="M490.6,60.48 C494.47,63 509.27,72.64 513.81,75.59 C518.34,78.54 515.99,77.41 517.8,78.17 C519.6,78.93 521.23,79.59 524.63,80.17 C528.03,80.75 533.41,81.66 538.2,81.66 C543,81.66 548.44,80.27 553.41,80.17 C558.38,80.07 561.02,80.85 568.01,81.07 C575,81.3 586.76,81.05 595.33,81.53 C603.91,82 611.14,83.32 619.47,83.91 C627.79,84.51 640.99,84.88 645.3,85.08" fill="none" stroke="#3f7fae" stroke-width="3.1" stroke-linejoin="round"/>
<path d="M490.6,61.77 C492.12,62.28 495.4,63.94 499.73,64.81 C504.06,65.68 513.52,66.43 516.59,67 C519.66,67.57 517.62,68.13 518.14,68.23 C518.65,68.33 518.88,67.87 519.68,67.58 C520.48,67.29 519.45,67.05 522.93,66.49 C526.41,65.93 534.72,64.96 540.57,64.23 C546.42,63.5 553.98,62.34 558.05,62.1 C562.12,61.85 560.81,62.33 565.01,62.74 C569.21,63.15 578.21,63.66 583.27,64.55 C588.32,65.44 589.48,66.7 595.33,68.1 C601.18,69.5 613.33,72.09 618.38,72.94 C623.44,73.79 621.17,72.61 625.65,73.2 C630.14,73.79 642.03,75.94 645.3,76.49" fill="none" stroke="#d62424" stroke-width="3.1" stroke-linejoin="round"/>
<rect x="490.6" y="7.1" width="154.7" height="129.1" fill="none" stroke="#444" stroke-width="1.2"/>
<line x1="490.6" y1="136.2" x2="490.6" y2="138.4" stroke="#333" stroke-width="1"/>
<text transform="translate(490.6 146.65) scale(1 1.12)" x="0" y="0" font-size="8.1" text-anchor="middle" fill="#1e1e1e">0</text>
<line x1="506.07" y1="136.2" x2="506.07" y2="137.5" stroke="#333" stroke-width="1"/>
<line x1="521.54" y1="136.2" x2="521.54" y2="138.4" stroke="#333" stroke-width="1"/>
<text transform="translate(521.54 146.65) scale(1 1.12)" x="0" y="0" font-size="8.1" text-anchor="middle" fill="#1e1e1e">200</text>
<line x1="537.01" y1="136.2" x2="537.01" y2="137.5" stroke="#333" stroke-width="1"/>
<line x1="552.48" y1="136.2" x2="552.48" y2="138.4" stroke="#333" stroke-width="1"/>
<text transform="translate(552.48 146.65) scale(1 1.12)" x="0" y="0" font-size="8.1" text-anchor="middle" fill="#1e1e1e">400</text>
<line x1="567.95" y1="136.2" x2="567.95" y2="137.5" stroke="#333" stroke-width="1"/>
<line x1="583.42" y1="136.2" x2="583.42" y2="138.4" stroke="#333" stroke-width="1"/>
<text transform="translate(583.42 146.65) scale(1 1.12)" x="0" y="0" font-size="8.1" text-anchor="middle" fill="#1e1e1e">600</text>
<line x1="598.89" y1="136.2" x2="598.89" y2="137.5" stroke="#333" stroke-width="1"/>
<line x1="614.36" y1="136.2" x2="614.36" y2="138.4" stroke="#333" stroke-width="1"/>
<text transform="translate(614.36 146.65) scale(1 1.12)" x="0" y="0" font-size="8.1" text-anchor="middle" fill="#1e1e1e">800</text>
<line x1="629.83" y1="136.2" x2="629.83" y2="137.5" stroke="#333" stroke-width="1"/>
<line x1="645.3" y1="136.2" x2="645.3" y2="138.4" stroke="#333" stroke-width="1"/>
<text transform="translate(645.3 146.65) scale(1 1.12)" x="0" y="0" font-size="8.1" text-anchor="middle" fill="#1e1e1e">1000</text>
<line x1="490.6" y1="136.2" x2="488.4" y2="136.2" stroke="#333" stroke-width="1"/>
<text transform="translate(486.9 139.45) scale(1 1.12)" x="0" y="0" font-size="8.1" text-anchor="end" fill="#1e1e1e">0</text>
<line x1="490.6" y1="120.06" x2="489.3" y2="120.06" stroke="#333" stroke-width="1"/>
<line x1="490.6" y1="103.92" x2="488.4" y2="103.92" stroke="#333" stroke-width="1"/>
<text transform="translate(486.9 107.17) scale(1 1.12)" x="0" y="0" font-size="8.1" text-anchor="end" fill="#1e1e1e">50</text>
<line x1="490.6" y1="87.79" x2="489.3" y2="87.79" stroke="#333" stroke-width="1"/>
<line x1="490.6" y1="71.65" x2="488.4" y2="71.65" stroke="#333" stroke-width="1"/>
<text transform="translate(486.9 74.9) scale(1 1.12)" x="0" y="0" font-size="8.1" text-anchor="end" fill="#1e1e1e">100</text>
<line x1="490.6" y1="55.51" x2="489.3" y2="55.51" stroke="#333" stroke-width="1"/>
<line x1="490.6" y1="39.38" x2="488.4" y2="39.38" stroke="#333" stroke-width="1"/>
<text transform="translate(486.9 42.62) scale(1 1.12)" x="0" y="0" font-size="8.1" text-anchor="end" fill="#1e1e1e">150</text>
<line x1="490.6" y1="23.24" x2="489.3" y2="23.24" stroke="#333" stroke-width="1"/>
<line x1="490.6" y1="7.1" x2="488.4" y2="7.1" stroke="#333" stroke-width="1"/>
<text transform="translate(486.9 10.35) scale(1 1.12)" x="0" y="0" font-size="8.1" text-anchor="end" fill="#1e1e1e">200</text>
<line x1="645.3" y1="136.2" x2="647.5" y2="136.2" stroke="#333" stroke-width="1"/>
<text transform="translate(649.5 139.45) scale(1 1.12)" x="0" y="0" font-size="8.1" text-anchor="start" fill="#1e1e1e">90</text>
<line x1="645.3" y1="109.2" x2="646.6" y2="109.2" stroke="#333" stroke-width="1"/>
<line x1="645.3" y1="82.2" x2="647.5" y2="82.2" stroke="#333" stroke-width="1"/>
<text transform="translate(649.5 85.45) scale(1 1.12)" x="0" y="0" font-size="8.1" text-anchor="start" fill="#1e1e1e">95</text>
<line x1="645.3" y1="55.2" x2="646.6" y2="55.2" stroke="#333" stroke-width="1"/>
<line x1="645.3" y1="28.2" x2="647.5" y2="28.2" stroke="#333" stroke-width="1"/>
<text transform="translate(649.5 31.45) scale(1 1.12)" x="0" y="0" font-size="8.1" text-anchor="start" fill="#1e1e1e">100</text>
<text x="568.2" y="162.5" font-size="10.3" text-anchor="middle" fill="#141414">Cycle number</text>
<text x="469.2" y="71.4" font-size="10.6" text-anchor="middle" fill="#141414" transform="rotate(-90 469.2 71.4)">Capacity (mAh g<tspan font-size="6.57" dy="-4.45">-1</tspan><tspan dy="4.45">)</tspan></text>
<text x="674" y="69.6" font-size="10.6" text-anchor="middle" fill="#141414" transform="rotate(-90 674 69.6)">Coulombic effciency (%)</text>
<text transform="translate(514 57.6) scale(1 1.12)" x="0" y="0" font-size="7.7" text-anchor="start" fill="#d62424">CZHE</text>
<text transform="translate(516.9 93.1) scale(1 1.12)" x="0" y="0" font-size="8.0" text-anchor="start" fill="#3f7fae">LE</text>
<text transform="translate(643 69) scale(1 1.12)" x="0" y="0" font-size="7.4" text-anchor="end" fill="#d62424">~85%</text>
<text transform="translate(643 97.3) scale(1 1.12)" x="0" y="0" font-size="7.4" text-anchor="end" fill="#141414">~71%</text>
<line x1="510.3" y1="83.9" x2="510.3" y2="88.3" stroke="#333" stroke-width="0.8"/>
<line x1="510.3" y1="88.3" x2="492.6" y2="88.3" stroke="#333" stroke-width="0.8"/>
<path d="M492.6,88.3 L495.6,89.65 L495.6,86.95 Z" fill="#333"/>
<line x1="624.5" y1="44.6" x2="624.5" y2="49.1" stroke="#333" stroke-width="0.8"/>
<line x1="624.5" y1="49.1" x2="641.9" y2="49.1" stroke="#333" stroke-width="0.8"/>
<path d="M641.9,49.1 L639.3,47.93 L639.3,50.27 Z" fill="#333"/>
<text transform="translate(644.6 132.9) scale(1 1.12)" x="0" y="0" font-size="8.0" text-anchor="end" fill="#141414" xml:space="preserve">25 &#176;C&#160;&#160;3 A g<tspan font-size="4.96" dy="-3.36">-1</tspan><tspan dy="3.36"></tspan></text>
<defs><radialGradient id="gr" cx="0.4" cy="0.32" r="0.68"><stop offset="0" stop-color="#ffe0e0"/><stop offset="0.22" stop-color="#ff6a70"/><stop offset="0.6" stop-color="#e62a35"/><stop offset="1" stop-color="#b01822"/></radialGradient><radialGradient id="gg" cx="0.4" cy="0.32" r="0.68"><stop offset="0" stop-color="#d8d8d8"/><stop offset="0.22" stop-color="#808080"/><stop offset="0.6" stop-color="#4a4a4a"/><stop offset="1" stop-color="#2a2a2a"/></radialGradient></defs>
<polyline points="38.75,180.8 43.2,186.2 47.66,190.2 52.11,191.8 56.56,196 61.01,191.8 65.46,195 69.92,195 74.37,195 78.82,194.3 83.27,198.7 87.72,198.7 92.18,198.7 96.63,197.7 101.08,198.1 105.53,199.7 109.98,199.7 114.44,199.1 118.89,199.5 123.34,200.6 127.79,197.7 132.24,198.1 136.7,198.5 141.15,198.5 145.6,198.1 150.05,179.4 154.5,195 158.96,194.5 163.41,195.4 167.86,195.6 172.31,191.4 176.76,195 181.22,196 185.67,195 190.12,196.6" fill="none" stroke="#d42c4f" stroke-width="0.6"/>
<circle cx="38.75" cy="180.8" r="2.1" fill="#d42c4f"/><circle cx="38.15" cy="180.15" r="0.55" fill="#fff" fill-opacity="0.35"/>
<circle cx="43.2" cy="186.2" r="2.1" fill="#d42c4f"/><circle cx="42.6" cy="185.55" r="0.55" fill="#fff" fill-opacity="0.35"/>
<circle cx="47.66" cy="190.2" r="2.1" fill="#d42c4f"/><circle cx="47.06" cy="189.55" r="0.55" fill="#fff" fill-opacity="0.35"/>
<circle cx="52.11" cy="191.8" r="2.1" fill="#d42c4f"/><circle cx="51.51" cy="191.15" r="0.55" fill="#fff" fill-opacity="0.35"/>
<circle cx="56.56" cy="196" r="2.1" fill="#d42c4f"/><circle cx="55.96" cy="195.35" r="0.55" fill="#fff" fill-opacity="0.35"/>
<circle cx="61.01" cy="191.8" r="2.1" fill="#d42c4f"/><circle cx="60.41" cy="191.15" r="0.55" fill="#fff" fill-opacity="0.35"/>
<circle cx="65.46" cy="195" r="2.1" fill="#d42c4f"/><circle cx="64.86" cy="194.35" r="0.55" fill="#fff" fill-opacity="0.35"/>
<circle cx="69.92" cy="195" r="2.1" fill="#d42c4f"/><circle cx="69.32" cy="194.35" r="0.55" fill="#fff" fill-opacity="0.35"/>
<circle cx="74.37" cy="195" r="2.1" fill="#d42c4f"/><circle cx="73.77" cy="194.35" r="0.55" fill="#fff" fill-opacity="0.35"/>
<circle cx="78.82" cy="194.3" r="2.1" fill="#d42c4f"/><circle cx="78.22" cy="193.65" r="0.55" fill="#fff" fill-opacity="0.35"/>
<circle cx="83.27" cy="198.7" r="2.1" fill="#d42c4f"/><circle cx="82.67" cy="198.05" r="0.55" fill="#fff" fill-opacity="0.35"/>
<circle cx="87.72" cy="198.7" r="2.1" fill="#d42c4f"/><circle cx="87.12" cy="198.05" r="0.55" fill="#fff" fill-opacity="0.35"/>
<circle cx="92.18" cy="198.7" r="2.1" fill="#d42c4f"/><circle cx="91.58" cy="198.05" r="0.55" fill="#fff" fill-opacity="0.35"/>
<circle cx="96.63" cy="197.7" r="2.1" fill="#d42c4f"/><circle cx="96.03" cy="197.05" r="0.55" fill="#fff" fill-opacity="0.35"/>
<circle cx="101.08" cy="198.1" r="2.1" fill="#d42c4f"/><circle cx="100.48" cy="197.45" r="0.55" fill="#fff" fill-opacity="0.35"/>
<circle cx="105.53" cy="199.7" r="2.1" fill="#d42c4f"/><circle cx="104.93" cy="199.05" r="0.55" fill="#fff" fill-opacity="0.35"/>
<circle cx="109.98" cy="199.7" r="2.1" fill="#d42c4f"/><circle cx="109.38" cy="199.05" r="0.55" fill="#fff" fill-opacity="0.35"/>
<circle cx="114.44" cy="199.1" r="2.1" fill="#d42c4f"/><circle cx="113.84" cy="198.45" r="0.55" fill="#fff" fill-opacity="0.35"/>
<circle cx="118.89" cy="199.5" r="2.1" fill="#d42c4f"/><circle cx="118.29" cy="198.85" r="0.55" fill="#fff" fill-opacity="0.35"/>
<circle cx="123.34" cy="200.6" r="2.1" fill="#d42c4f"/><circle cx="122.74" cy="199.95" r="0.55" fill="#fff" fill-opacity="0.35"/>
<circle cx="127.79" cy="197.7" r="2.1" fill="#d42c4f"/><circle cx="127.19" cy="197.05" r="0.55" fill="#fff" fill-opacity="0.35"/>
<circle cx="132.24" cy="198.1" r="2.1" fill="#d42c4f"/><circle cx="131.64" cy="197.45" r="0.55" fill="#fff" fill-opacity="0.35"/>
<circle cx="136.7" cy="198.5" r="2.1" fill="#d42c4f"/><circle cx="136.1" cy="197.85" r="0.55" fill="#fff" fill-opacity="0.35"/>
<circle cx="141.15" cy="198.5" r="2.1" fill="#d42c4f"/><circle cx="140.55" cy="197.85" r="0.55" fill="#fff" fill-opacity="0.35"/>
<circle cx="145.6" cy="198.1" r="2.1" fill="#d42c4f"/><circle cx="145" cy="197.45" r="0.55" fill="#fff" fill-opacity="0.35"/>
<circle cx="150.05" cy="179.4" r="2.1" fill="#d42c4f"/><circle cx="149.45" cy="178.75" r="0.55" fill="#fff" fill-opacity="0.35"/>
<circle cx="154.5" cy="195" r="2.1" fill="#d42c4f"/><circle cx="153.9" cy="194.35" r="0.55" fill="#fff" fill-opacity="0.35"/>
<circle cx="158.96" cy="194.5" r="2.1" fill="#d42c4f"/><circle cx="158.36" cy="193.85" r="0.55" fill="#fff" fill-opacity="0.35"/>
<circle cx="163.41" cy="195.4" r="2.1" fill="#d42c4f"/><circle cx="162.81" cy="194.75" r="0.55" fill="#fff" fill-opacity="0.35"/>
<circle cx="167.86" cy="195.6" r="2.1" fill="#d42c4f"/><circle cx="167.26" cy="194.95" r="0.55" fill="#fff" fill-opacity="0.35"/>
<circle cx="172.31" cy="191.4" r="2.1" fill="#d42c4f"/><circle cx="171.71" cy="190.75" r="0.55" fill="#fff" fill-opacity="0.35"/>
<circle cx="176.76" cy="195" r="2.1" fill="#d42c4f"/><circle cx="176.16" cy="194.35" r="0.55" fill="#fff" fill-opacity="0.35"/>
<circle cx="181.22" cy="196" r="2.1" fill="#d42c4f"/><circle cx="180.62" cy="195.35" r="0.55" fill="#fff" fill-opacity="0.35"/>
<circle cx="185.67" cy="195" r="2.1" fill="#d42c4f"/><circle cx="185.07" cy="194.35" r="0.55" fill="#fff" fill-opacity="0.35"/>
<circle cx="190.12" cy="196.6" r="2.1" fill="#d42c4f"/><circle cx="189.52" cy="195.95" r="0.55" fill="#fff" fill-opacity="0.35"/>
<polyline points="38.75,237.6 43.2,233 47.66,229.9 52.11,229.3 56.56,229.3 61.01,230.9 65.46,213 69.92,212.6 74.37,212 78.82,212.2 83.27,217.2 87.72,208.5 92.18,207.8 96.63,208.5 101.08,208.9 105.53,218.9 109.98,205.3 114.44,205.3 118.89,203.9 123.34,205.3 127.79,208.5 132.24,208.5 136.7,208.5 141.15,208.9 145.6,208.5 150.05,213 154.5,213 158.96,213 163.41,213.4 167.86,213.2 172.31,235.1 176.76,236.1 181.22,236.5 185.67,237 190.12,237.8" fill="none" stroke="#4c86c4" stroke-width="0.6"/>
<circle cx="38.75" cy="237.6" r="2.1" fill="#4c86c4"/><circle cx="38.15" cy="236.95" r="0.55" fill="#fff" fill-opacity="0.35"/>
<circle cx="43.2" cy="233" r="2.1" fill="#4c86c4"/><circle cx="42.6" cy="232.35" r="0.55" fill="#fff" fill-opacity="0.35"/>
<circle cx="47.66" cy="229.9" r="2.1" fill="#4c86c4"/><circle cx="47.06" cy="229.25" r="0.55" fill="#fff" fill-opacity="0.35"/>
<circle cx="52.11" cy="229.3" r="2.1" fill="#4c86c4"/><circle cx="51.51" cy="228.65" r="0.55" fill="#fff" fill-opacity="0.35"/>
<circle cx="56.56" cy="229.3" r="2.1" fill="#4c86c4"/><circle cx="55.96" cy="228.65" r="0.55" fill="#fff" fill-opacity="0.35"/>
<circle cx="61.01" cy="230.9" r="2.1" fill="#4c86c4"/><circle cx="60.41" cy="230.25" r="0.55" fill="#fff" fill-opacity="0.35"/>
<circle cx="65.46" cy="213" r="2.1" fill="#4c86c4"/><circle cx="64.86" cy="212.35" r="0.55" fill="#fff" fill-opacity="0.35"/>
<circle cx="69.92" cy="212.6" r="2.1" fill="#4c86c4"/><circle cx="69.32" cy="211.95" r="0.55" fill="#fff" fill-opacity="0.35"/>
<circle cx="74.37" cy="212" r="2.1" fill="#4c86c4"/><circle cx="73.77" cy="211.35" r="0.55" fill="#fff" fill-opacity="0.35"/>
<circle cx="78.82" cy="212.2" r="2.1" fill="#4c86c4"/><circle cx="78.22" cy="211.55" r="0.55" fill="#fff" fill-opacity="0.35"/>
<circle cx="83.27" cy="217.2" r="2.1" fill="#4c86c4"/><circle cx="82.67" cy="216.55" r="0.55" fill="#fff" fill-opacity="0.35"/>
<circle cx="87.72" cy="208.5" r="2.1" fill="#4c86c4"/><circle cx="87.12" cy="207.85" r="0.55" fill="#fff" fill-opacity="0.35"/>
<circle cx="92.18" cy="207.8" r="2.1" fill="#4c86c4"/><circle cx="91.58" cy="207.15" r="0.55" fill="#fff" fill-opacity="0.35"/>
<circle cx="96.63" cy="208.5" r="2.1" fill="#4c86c4"/><circle cx="96.03" cy="207.85" r="0.55" fill="#fff" fill-opacity="0.35"/>
<circle cx="101.08" cy="208.9" r="2.1" fill="#4c86c4"/><circle cx="100.48" cy="208.25" r="0.55" fill="#fff" fill-opacity="0.35"/>
<circle cx="105.53" cy="218.9" r="2.1" fill="#4c86c4"/><circle cx="104.93" cy="218.25" r="0.55" fill="#fff" fill-opacity="0.35"/>
<circle cx="109.98" cy="205.3" r="2.1" fill="#4c86c4"/><circle cx="109.38" cy="204.65" r="0.55" fill="#fff" fill-opacity="0.35"/>
<circle cx="114.44" cy="205.3" r="2.1" fill="#4c86c4"/><circle cx="113.84" cy="204.65" r="0.55" fill="#fff" fill-opacity="0.35"/>
<circle cx="118.89" cy="203.9" r="2.1" fill="#4c86c4"/><circle cx="118.29" cy="203.25" r="0.55" fill="#fff" fill-opacity="0.35"/>
<circle cx="123.34" cy="205.3" r="2.1" fill="#4c86c4"/><circle cx="122.74" cy="204.65" r="0.55" fill="#fff" fill-opacity="0.35"/>
<circle cx="127.79" cy="208.5" r="2.1" fill="#4c86c4"/><circle cx="127.19" cy="207.85" r="0.55" fill="#fff" fill-opacity="0.35"/>
<circle cx="132.24" cy="208.5" r="2.1" fill="#4c86c4"/><circle cx="131.64" cy="207.85" r="0.55" fill="#fff" fill-opacity="0.35"/>
<circle cx="136.7" cy="208.5" r="2.1" fill="#4c86c4"/><circle cx="136.1" cy="207.85" r="0.55" fill="#fff" fill-opacity="0.35"/>
<circle cx="141.15" cy="208.9" r="2.1" fill="#4c86c4"/><circle cx="140.55" cy="208.25" r="0.55" fill="#fff" fill-opacity="0.35"/>
<circle cx="145.6" cy="208.5" r="2.1" fill="#4c86c4"/><circle cx="145" cy="207.85" r="0.55" fill="#fff" fill-opacity="0.35"/>
<circle cx="150.05" cy="213" r="2.1" fill="#4c86c4"/><circle cx="149.45" cy="212.35" r="0.55" fill="#fff" fill-opacity="0.35"/>
<circle cx="154.5" cy="213" r="2.1" fill="#4c86c4"/><circle cx="153.9" cy="212.35" r="0.55" fill="#fff" fill-opacity="0.35"/>
<circle cx="158.96" cy="213" r="2.1" fill="#4c86c4"/><circle cx="158.36" cy="212.35" r="0.55" fill="#fff" fill-opacity="0.35"/>
<circle cx="163.41" cy="213.4" r="2.1" fill="#4c86c4"/><circle cx="162.81" cy="212.75" r="0.55" fill="#fff" fill-opacity="0.35"/>
<circle cx="167.86" cy="213.2" r="2.1" fill="#4c86c4"/><circle cx="167.26" cy="212.55" r="0.55" fill="#fff" fill-opacity="0.35"/>
<circle cx="172.31" cy="235.1" r="2.1" fill="#4c86c4"/><circle cx="171.71" cy="234.45" r="0.55" fill="#fff" fill-opacity="0.35"/>
<circle cx="176.76" cy="236.1" r="2.1" fill="#4c86c4"/><circle cx="176.16" cy="235.45" r="0.55" fill="#fff" fill-opacity="0.35"/>
<circle cx="181.22" cy="236.5" r="2.1" fill="#4c86c4"/><circle cx="180.62" cy="235.85" r="0.55" fill="#fff" fill-opacity="0.35"/>
<circle cx="185.67" cy="237" r="2.1" fill="#4c86c4"/><circle cx="185.07" cy="236.35" r="0.55" fill="#fff" fill-opacity="0.35"/>
<circle cx="190.12" cy="237.8" r="2.1" fill="#4c86c4"/><circle cx="189.52" cy="237.15" r="0.55" fill="#fff" fill-opacity="0.35"/>
<polyline points="38.75,247.5 43.2,248.9 47.66,250 52.11,251 56.56,251.6 61.01,264.7 65.46,264.7 69.92,264.7 74.37,264.7 78.82,264.7 83.27,271.4 87.72,271.4 92.18,271.4 96.63,271.4 101.08,271.4 105.53,279.7 109.98,279.7 114.44,279.7 118.89,279.7 123.34,279.7 127.79,269.9 132.24,269.9 136.7,269.9 141.15,269.9 145.6,269.9 150.05,264.1 154.5,264.1 158.96,264.1 163.41,264.1 167.86,264.1 172.31,252.7 176.76,253.7 181.22,254.8 185.67,255.4 190.12,255.8" fill="none" stroke="#d42c4f" stroke-width="0.6"/>
<circle cx="38.75" cy="247.5" r="2.1" fill="#d42c4f"/><circle cx="38.15" cy="246.85" r="0.55" fill="#fff" fill-opacity="0.35"/>
<circle cx="43.2" cy="248.9" r="2.1" fill="#d42c4f"/><circle cx="42.6" cy="248.25" r="0.55" fill="#fff" fill-opacity="0.35"/>
<circle cx="47.66" cy="250" r="2.1" fill="#d42c4f"/><circle cx="47.06" cy="249.35" r="0.55" fill="#fff" fill-opacity="0.35"/>
<circle cx="52.11" cy="251" r="2.1" fill="#d42c4f"/><circle cx="51.51" cy="250.35" r="0.55" fill="#fff" fill-opacity="0.35"/>
<circle cx="56.56" cy="251.6" r="2.1" fill="#d42c4f"/><circle cx="55.96" cy="250.95" r="0.55" fill="#fff" fill-opacity="0.35"/>
<circle cx="61.01" cy="264.7" r="2.1" fill="#d42c4f"/><circle cx="60.41" cy="264.05" r="0.55" fill="#fff" fill-opacity="0.35"/>
<circle cx="65.46" cy="264.7" r="2.1" fill="#d42c4f"/><circle cx="64.86" cy="264.05" r="0.55" fill="#fff" fill-opacity="0.35"/>
<circle cx="69.92" cy="264.7" r="2.1" fill="#d42c4f"/><circle cx="69.32" cy="264.05" r="0.55" fill="#fff" fill-opacity="0.35"/>
<circle cx="74.37" cy="264.7" r="2.1" fill="#d42c4f"/><circle cx="73.77" cy="264.05" r="0.55" fill="#fff" fill-opacity="0.35"/>
<circle cx="78.82" cy="264.7" r="2.1" fill="#d42c4f"/><circle cx="78.22" cy="264.05" r="0.55" fill="#fff" fill-opacity="0.35"/>
<circle cx="83.27" cy="271.4" r="2.1" fill="#d42c4f"/><circle cx="82.67" cy="270.75" r="0.55" fill="#fff" fill-opacity="0.35"/>
<circle cx="87.72" cy="271.4" r="2.1" fill="#d42c4f"/><circle cx="87.12" cy="270.75" r="0.55" fill="#fff" fill-opacity="0.35"/>
<circle cx="92.18" cy="271.4" r="2.1" fill="#d42c4f"/><circle cx="91.58" cy="270.75" r="0.55" fill="#fff" fill-opacity="0.35"/>
<circle cx="96.63" cy="271.4" r="2.1" fill="#d42c4f"/><circle cx="96.03" cy="270.75" r="0.55" fill="#fff" fill-opacity="0.35"/>
<circle cx="101.08" cy="271.4" r="2.1" fill="#d42c4f"/><circle cx="100.48" cy="270.75" r="0.55" fill="#fff" fill-opacity="0.35"/>
<circle cx="105.53" cy="279.7" r="2.1" fill="#d42c4f"/><circle cx="104.93" cy="279.05" r="0.55" fill="#fff" fill-opacity="0.35"/>
<circle cx="109.98" cy="279.7" r="2.1" fill="#d42c4f"/><circle cx="109.38" cy="279.05" r="0.55" fill="#fff" fill-opacity="0.35"/>
<circle cx="114.44" cy="279.7" r="2.1" fill="#d42c4f"/><circle cx="113.84" cy="279.05" r="0.55" fill="#fff" fill-opacity="0.35"/>
<circle cx="118.89" cy="279.7" r="2.1" fill="#d42c4f"/><circle cx="118.29" cy="279.05" r="0.55" fill="#fff" fill-opacity="0.35"/>
<circle cx="123.34" cy="279.7" r="2.1" fill="#d42c4f"/><circle cx="122.74" cy="279.05" r="0.55" fill="#fff" fill-opacity="0.35"/>
<circle cx="127.79" cy="269.9" r="2.1" fill="#d42c4f"/><circle cx="127.19" cy="269.25" r="0.55" fill="#fff" fill-opacity="0.35"/>
<circle cx="132.24" cy="269.9" r="2.1" fill="#d42c4f"/><circle cx="131.64" cy="269.25" r="0.55" fill="#fff" fill-opacity="0.35"/>
<circle cx="136.7" cy="269.9" r="2.1" fill="#d42c4f"/><circle cx="136.1" cy="269.25" r="0.55" fill="#fff" fill-opacity="0.35"/>
<circle cx="141.15" cy="269.9" r="2.1" fill="#d42c4f"/><circle cx="140.55" cy="269.25" r="0.55" fill="#fff" fill-opacity="0.35"/>
<circle cx="145.6" cy="269.9" r="2.1" fill="#d42c4f"/><circle cx="145" cy="269.25" r="0.55" fill="#fff" fill-opacity="0.35"/>
<circle cx="150.05" cy="264.1" r="2.1" fill="#d42c4f"/><circle cx="149.45" cy="263.45" r="0.55" fill="#fff" fill-opacity="0.35"/>
<circle cx="154.5" cy="264.1" r="2.1" fill="#d42c4f"/><circle cx="153.9" cy="263.45" r="0.55" fill="#fff" fill-opacity="0.35"/>
<circle cx="158.96" cy="264.1" r="2.1" fill="#d42c4f"/><circle cx="158.36" cy="263.45" r="0.55" fill="#fff" fill-opacity="0.35"/>
<circle cx="163.41" cy="264.1" r="2.1" fill="#d42c4f"/><circle cx="162.81" cy="263.45" r="0.55" fill="#fff" fill-opacity="0.35"/>
<circle cx="167.86" cy="264.1" r="2.1" fill="#d42c4f"/><circle cx="167.26" cy="263.45" r="0.55" fill="#fff" fill-opacity="0.35"/>
<circle cx="172.31" cy="252.7" r="2.1" fill="#d42c4f"/><circle cx="171.71" cy="252.05" r="0.55" fill="#fff" fill-opacity="0.35"/>
<circle cx="176.76" cy="253.7" r="2.1" fill="#d42c4f"/><circle cx="176.16" cy="253.05" r="0.55" fill="#fff" fill-opacity="0.35"/>
<circle cx="181.22" cy="254.8" r="2.1" fill="#d42c4f"/><circle cx="180.62" cy="254.15" r="0.55" fill="#fff" fill-opacity="0.35"/>
<circle cx="185.67" cy="255.4" r="2.1" fill="#d42c4f"/><circle cx="185.07" cy="254.75" r="0.55" fill="#fff" fill-opacity="0.35"/>
<circle cx="190.12" cy="255.8" r="2.1" fill="#d42c4f"/><circle cx="189.52" cy="255.15" r="0.55" fill="#fff" fill-opacity="0.35"/>
<polyline points="38.75,261 43.2,261 47.66,260.3 52.11,259.8 56.56,259.5 61.01,272.4 65.46,272.4 69.92,272.4 74.37,272.4 78.82,272.4 83.27,280.7 87.72,280.7 92.18,280.7 96.63,280.7 101.08,280.7 105.53,290.4 109.98,290.4 114.44,290.4 118.89,290.4 123.34,290.4 127.79,280.7 132.24,280.7 136.7,280.7 141.15,280.7 145.6,280.7 150.05,272.4 154.5,272.4 158.96,272.4 163.41,272.4 167.86,272.4 172.31,258.9 176.76,259.2 181.22,259.5 185.67,259.5 190.12,259.7" fill="none" stroke="#4c86c4" stroke-width="0.6"/>
<circle cx="38.75" cy="261" r="2.1" fill="#4c86c4"/><circle cx="38.15" cy="260.35" r="0.55" fill="#fff" fill-opacity="0.35"/>
<circle cx="43.2" cy="261" r="2.1" fill="#4c86c4"/><circle cx="42.6" cy="260.35" r="0.55" fill="#fff" fill-opacity="0.35"/>
<circle cx="47.66" cy="260.3" r="2.1" fill="#4c86c4"/><circle cx="47.06" cy="259.65" r="0.55" fill="#fff" fill-opacity="0.35"/>
<circle cx="52.11" cy="259.8" r="2.1" fill="#4c86c4"/><circle cx="51.51" cy="259.15" r="0.55" fill="#fff" fill-opacity="0.35"/>
<circle cx="56.56" cy="259.5" r="2.1" fill="#4c86c4"/><circle cx="55.96" cy="258.85" r="0.55" fill="#fff" fill-opacity="0.35"/>
<circle cx="61.01" cy="272.4" r="2.1" fill="#4c86c4"/><circle cx="60.41" cy="271.75" r="0.55" fill="#fff" fill-opacity="0.35"/>
<circle cx="65.46" cy="272.4" r="2.1" fill="#4c86c4"/><circle cx="64.86" cy="271.75" r="0.55" fill="#fff" fill-opacity="0.35"/>
<circle cx="69.92" cy="272.4" r="2.1" fill="#4c86c4"/><circle cx="69.32" cy="271.75" r="0.55" fill="#fff" fill-opacity="0.35"/>
<circle cx="74.37" cy="272.4" r="2.1" fill="#4c86c4"/><circle cx="73.77" cy="271.75" r="0.55" fill="#fff" fill-opacity="0.35"/>
<circle cx="78.82" cy="272.4" r="2.1" fill="#4c86c4"/><circle cx="78.22" cy="271.75" r="0.55" fill="#fff" fill-opacity="0.35"/>
<circle cx="83.27" cy="280.7" r="2.1" fill="#4c86c4"/><circle cx="82.67" cy="280.05" r="0.55" fill="#fff" fill-opacity="0.35"/>
<circle cx="87.72" cy="280.7" r="2.1" fill="#4c86c4"/><circle cx="87.12" cy="280.05" r="0.55" fill="#fff" fill-opacity="0.35"/>
<circle cx="92.18" cy="280.7" r="2.1" fill="#4c86c4"/><circle cx="91.58" cy="280.05" r="0.55" fill="#fff" fill-opacity="0.35"/>
<circle cx="96.63" cy="280.7" r="2.1" fill="#4c86c4"/><circle cx="96.03" cy="280.05" r="0.55" fill="#fff" fill-opacity="0.35"/>
<circle cx="101.08" cy="280.7" r="2.1" fill="#4c86c4"/><circle cx="100.48" cy="280.05" r="0.55" fill="#fff" fill-opacity="0.35"/>
<circle cx="105.53" cy="290.4" r="2.1" fill="#4c86c4"/><circle cx="104.93" cy="289.75" r="0.55" fill="#fff" fill-opacity="0.35"/>
<circle cx="109.98" cy="290.4" r="2.1" fill="#4c86c4"/><circle cx="109.38" cy="289.75" r="0.55" fill="#fff" fill-opacity="0.35"/>
<circle cx="114.44" cy="290.4" r="2.1" fill="#4c86c4"/><circle cx="113.84" cy="289.75" r="0.55" fill="#fff" fill-opacity="0.35"/>
<circle cx="118.89" cy="290.4" r="2.1" fill="#4c86c4"/><circle cx="118.29" cy="289.75" r="0.55" fill="#fff" fill-opacity="0.35"/>
<circle cx="123.34" cy="290.4" r="2.1" fill="#4c86c4"/><circle cx="122.74" cy="289.75" r="0.55" fill="#fff" fill-opacity="0.35"/>
<circle cx="127.79" cy="280.7" r="2.1" fill="#4c86c4"/><circle cx="127.19" cy="280.05" r="0.55" fill="#fff" fill-opacity="0.35"/>
<circle cx="132.24" cy="280.7" r="2.1" fill="#4c86c4"/><circle cx="131.64" cy="280.05" r="0.55" fill="#fff" fill-opacity="0.35"/>
<circle cx="136.7" cy="280.7" r="2.1" fill="#4c86c4"/><circle cx="136.1" cy="280.05" r="0.55" fill="#fff" fill-opacity="0.35"/>
<circle cx="141.15" cy="280.7" r="2.1" fill="#4c86c4"/><circle cx="140.55" cy="280.05" r="0.55" fill="#fff" fill-opacity="0.35"/>
<circle cx="145.6" cy="280.7" r="2.1" fill="#4c86c4"/><circle cx="145" cy="280.05" r="0.55" fill="#fff" fill-opacity="0.35"/>
<circle cx="150.05" cy="272.4" r="2.1" fill="#4c86c4"/><circle cx="149.45" cy="271.75" r="0.55" fill="#fff" fill-opacity="0.35"/>
<circle cx="154.5" cy="272.4" r="2.1" fill="#4c86c4"/><circle cx="153.9" cy="271.75" r="0.55" fill="#fff" fill-opacity="0.35"/>
<circle cx="158.96" cy="272.4" r="2.1" fill="#4c86c4"/><circle cx="158.36" cy="271.75" r="0.55" fill="#fff" fill-opacity="0.35"/>
<circle cx="163.41" cy="272.4" r="2.1" fill="#4c86c4"/><circle cx="162.81" cy="271.75" r="0.55" fill="#fff" fill-opacity="0.35"/>
<circle cx="167.86" cy="272.4" r="2.1" fill="#4c86c4"/><circle cx="167.26" cy="271.75" r="0.55" fill="#fff" fill-opacity="0.35"/>
<circle cx="172.31" cy="258.9" r="2.1" fill="#4c86c4"/><circle cx="171.71" cy="258.25" r="0.55" fill="#fff" fill-opacity="0.35"/>
<circle cx="176.76" cy="259.2" r="2.1" fill="#4c86c4"/><circle cx="176.16" cy="258.55" r="0.55" fill="#fff" fill-opacity="0.35"/>
<circle cx="181.22" cy="259.5" r="2.1" fill="#4c86c4"/><circle cx="180.62" cy="258.85" r="0.55" fill="#fff" fill-opacity="0.35"/>
<circle cx="185.67" cy="259.5" r="2.1" fill="#4c86c4"/><circle cx="185.07" cy="258.85" r="0.55" fill="#fff" fill-opacity="0.35"/>
<circle cx="190.12" cy="259.7" r="2.1" fill="#4c86c4"/><circle cx="189.52" cy="259.05" r="0.55" fill="#fff" fill-opacity="0.35"/>
<rect x="34.4" y="175.4" width="160.6" height="132.9" fill="none" stroke="#444" stroke-width="1.2"/>
<line x1="34.3" y1="308.3" x2="34.3" y2="310.5" stroke="#333" stroke-width="1"/>
<text transform="translate(34.3 319.45) scale(1 1.12)" x="0" y="0" font-size="8.1" text-anchor="middle" fill="#1e1e1e">0</text>
<line x1="45.43" y1="308.3" x2="45.43" y2="309.6" stroke="#333" stroke-width="1"/>
<line x1="56.56" y1="308.3" x2="56.56" y2="310.5" stroke="#333" stroke-width="1"/>
<text transform="translate(56.56 319.45) scale(1 1.12)" x="0" y="0" font-size="8.1" text-anchor="middle" fill="#1e1e1e">5</text>
<line x1="67.69" y1="308.3" x2="67.69" y2="309.6" stroke="#333" stroke-width="1"/>
<line x1="78.82" y1="308.3" x2="78.82" y2="310.5" stroke="#333" stroke-width="1"/>
<text transform="translate(78.82 319.45) scale(1 1.12)" x="0" y="0" font-size="8.1" text-anchor="middle" fill="#1e1e1e">10</text>
<line x1="89.95" y1="308.3" x2="89.95" y2="309.6" stroke="#333" stroke-width="1"/>
<line x1="101.08" y1="308.3" x2="101.08" y2="310.5" stroke="#333" stroke-width="1"/>
<text transform="translate(101.08 319.45) scale(1 1.12)" x="0" y="0" font-size="8.1" text-anchor="middle" fill="#1e1e1e">15</text>
<line x1="112.21" y1="308.3" x2="112.21" y2="309.6" stroke="#333" stroke-width="1"/>
<line x1="123.34" y1="308.3" x2="123.34" y2="310.5" stroke="#333" stroke-width="1"/>
<text transform="translate(123.34 319.45) scale(1 1.12)" x="0" y="0" font-size="8.1" text-anchor="middle" fill="#1e1e1e">20</text>
<line x1="134.47" y1="308.3" x2="134.47" y2="309.6" stroke="#333" stroke-width="1"/>
<line x1="145.6" y1="308.3" x2="145.6" y2="310.5" stroke="#333" stroke-width="1"/>
<text transform="translate(145.6 319.45) scale(1 1.12)" x="0" y="0" font-size="8.1" text-anchor="middle" fill="#1e1e1e">25</text>
<line x1="156.73" y1="308.3" x2="156.73" y2="309.6" stroke="#333" stroke-width="1"/>
<line x1="167.86" y1="308.3" x2="167.86" y2="310.5" stroke="#333" stroke-width="1"/>
<text transform="translate(167.86 319.45) scale(1 1.12)" x="0" y="0" font-size="8.1" text-anchor="middle" fill="#1e1e1e">30</text>
<line x1="178.99" y1="308.3" x2="178.99" y2="309.6" stroke="#333" stroke-width="1"/>
<line x1="190.12" y1="308.3" x2="190.12" y2="310.5" stroke="#333" stroke-width="1"/>
<text transform="translate(190.12 319.45) scale(1 1.12)" x="0" y="0" font-size="8.1" text-anchor="middle" fill="#1e1e1e">35</text>
<line x1="34.4" y1="308.3" x2="32.2" y2="308.3" stroke="#333" stroke-width="1"/>
<text transform="translate(30.4 311.55) scale(1 1.12)" x="0" y="0" font-size="8.1" text-anchor="end" fill="#1e1e1e">0.0</text>
<line x1="34.4" y1="297.23" x2="33.1" y2="297.23" stroke="#333" stroke-width="1"/>
<line x1="34.4" y1="286.15" x2="32.2" y2="286.15" stroke="#333" stroke-width="1"/>
<text transform="translate(30.4 289.4) scale(1 1.12)" x="0" y="0" font-size="8.1" text-anchor="end" fill="#1e1e1e">0.5</text>
<line x1="34.4" y1="275.08" x2="33.1" y2="275.08" stroke="#333" stroke-width="1"/>
<line x1="34.4" y1="264" x2="32.2" y2="264" stroke="#333" stroke-width="1"/>
<text transform="translate(30.4 267.25) scale(1 1.12)" x="0" y="0" font-size="8.1" text-anchor="end" fill="#1e1e1e">1.0</text>
<line x1="34.4" y1="252.93" x2="33.1" y2="252.93" stroke="#333" stroke-width="1"/>
<line x1="34.4" y1="241.85" x2="32.2" y2="241.85" stroke="#333" stroke-width="1"/>
<text transform="translate(30.4 245.1) scale(1 1.12)" x="0" y="0" font-size="8.1" text-anchor="end" fill="#1e1e1e">1.5</text>
<line x1="34.4" y1="230.78" x2="33.1" y2="230.78" stroke="#333" stroke-width="1"/>
<line x1="34.4" y1="219.7" x2="32.2" y2="219.7" stroke="#333" stroke-width="1"/>
<text transform="translate(30.4 222.95) scale(1 1.12)" x="0" y="0" font-size="8.1" text-anchor="end" fill="#1e1e1e">2.0</text>
<line x1="34.4" y1="208.62" x2="33.1" y2="208.62" stroke="#333" stroke-width="1"/>
<line x1="34.4" y1="197.55" x2="32.2" y2="197.55" stroke="#333" stroke-width="1"/>
<text transform="translate(30.4 200.8) scale(1 1.12)" x="0" y="0" font-size="8.1" text-anchor="end" fill="#1e1e1e">2.5</text>
<line x1="34.4" y1="186.48" x2="33.1" y2="186.48" stroke="#333" stroke-width="1"/>
<line x1="34.4" y1="175.4" x2="32.2" y2="175.4" stroke="#333" stroke-width="1"/>
<text transform="translate(30.4 178.65) scale(1 1.12)" x="0" y="0" font-size="8.1" text-anchor="end" fill="#1e1e1e">3.0</text>
<line x1="195" y1="308.3" x2="197.2" y2="308.3" stroke="#333" stroke-width="1"/>
<text transform="translate(198.2 311.55) scale(1 1.12)" x="0" y="0" font-size="8.1" text-anchor="start" fill="#1e1e1e">60</text>
<line x1="195" y1="295.01" x2="196.3" y2="295.01" stroke="#333" stroke-width="1"/>
<line x1="195" y1="281.72" x2="197.2" y2="281.72" stroke="#333" stroke-width="1"/>
<text transform="translate(198.2 284.97) scale(1 1.12)" x="0" y="0" font-size="8.1" text-anchor="start" fill="#1e1e1e">70</text>
<line x1="195" y1="268.43" x2="196.3" y2="268.43" stroke="#333" stroke-width="1"/>
<line x1="195" y1="255.14" x2="197.2" y2="255.14" stroke="#333" stroke-width="1"/>
<text transform="translate(198.2 258.39) scale(1 1.12)" x="0" y="0" font-size="8.1" text-anchor="start" fill="#1e1e1e">80</text>
<line x1="195" y1="241.85" x2="196.3" y2="241.85" stroke="#333" stroke-width="1"/>
<line x1="195" y1="228.56" x2="197.2" y2="228.56" stroke="#333" stroke-width="1"/>
<text transform="translate(198.2 231.81) scale(1 1.12)" x="0" y="0" font-size="8.1" text-anchor="start" fill="#1e1e1e">90</text>
<line x1="195" y1="215.27" x2="196.3" y2="215.27" stroke="#333" stroke-width="1"/>
<line x1="195" y1="201.98" x2="197.2" y2="201.98" stroke="#333" stroke-width="1"/>
<text transform="translate(198.2 205.23) scale(1 1.12)" x="0" y="0" font-size="8.1" text-anchor="start" fill="#1e1e1e">100</text>
<line x1="195" y1="188.69" x2="196.3" y2="188.69" stroke="#333" stroke-width="1"/>
<line x1="195" y1="175.4" x2="197.2" y2="175.4" stroke="#333" stroke-width="1"/>
<text transform="translate(198.2 178.65) scale(1 1.12)" x="0" y="0" font-size="8.1" text-anchor="start" fill="#1e1e1e">110</text>
<text x="113.8" y="334.8" font-size="10.3" text-anchor="middle" fill="#141414">Cycle number</text>
<text x="13.6" y="242.2" font-size="10.75" text-anchor="middle" fill="#141414" transform="rotate(-90 13.6 242.2)">Areal capacity (mAh cm<tspan font-size="6.67" dy="-4.51">-2</tspan><tspan dy="4.51">)</tspan></text>
<text x="224" y="242.6" font-size="10.6" text-anchor="middle" fill="#141414" transform="rotate(-90 224 242.6)">Coulombic effciency (%)</text>
<text transform="translate(47 246.2) scale(1 1.12)" x="0" y="0" font-size="8.2" text-anchor="middle" fill="#141414">0.1</text>
<text transform="translate(70.5 260.4) scale(1 1.12)" x="0" y="0" font-size="8.2" text-anchor="middle" fill="#141414">0.3</text>
<text transform="translate(92.4 266.6) scale(1 1.12)" x="0" y="0" font-size="8.2" text-anchor="middle" fill="#141414">0.5</text>
<text transform="translate(114.2 275.3) scale(1 1.12)" x="0" y="0" font-size="8.2" text-anchor="middle" fill="#141414">1</text>
<text transform="translate(137 265.6) scale(1 1.12)" x="0" y="0" font-size="8.2" text-anchor="middle" fill="#141414">0.5</text>
<text transform="translate(159.9 258.7) scale(1 1.12)" x="0" y="0" font-size="8.2" text-anchor="middle" fill="#141414">0.3</text>
<text transform="translate(183.8 247.3) scale(1 1.12)" x="0" y="0" font-size="8.2" text-anchor="middle" fill="#141414">0.1</text>
<line x1="51.8" y1="274.5" x2="51.8" y2="277.6" stroke="#333" stroke-width="0.8"/>
<line x1="51.8" y1="277.6" x2="36.4" y2="277.6" stroke="#333" stroke-width="0.8"/>
<path d="M36.4,277.6 L39,278.77 L39,276.43 Z" fill="#333"/>
<line x1="175.5" y1="214.7" x2="191.6" y2="214.7" stroke="#333" stroke-width="0.8"/>
<path d="M191.6,214.7 L189,213.53 L189,215.87 Z" fill="#333"/>
<line x1="152.6" y1="282.4" x2="165.1" y2="282.4" stroke="#d42c4f" stroke-width="0.7"/>
<circle cx="161" cy="282.4" r="1.65" fill="#d42c4f"/>
<line x1="152.6" y1="291.1" x2="165.1" y2="291.1" stroke="#4c86c4" stroke-width="0.7"/>
<circle cx="161" cy="291.1" r="1.65" fill="#4c86c4"/>
<text transform="translate(171.8 285.3) scale(1 1.12)" x="0" y="0" font-size="7.5" text-anchor="start" fill="#141414">CZHE</text>
<text transform="translate(171.8 294.7) scale(1 1.12)" x="0" y="0" font-size="7.5" text-anchor="start" fill="#141414">LE</text>
<text transform="translate(155.6 302.7) scale(1 1.12)" x="0" y="0" font-size="8.2" text-anchor="start" fill="#141414">Unit: A g<tspan font-size="5.08" dy="-3.44">-1</tspan><tspan dy="3.44"></tspan></text>
<text transform="translate(37 294.3) scale(1 1.12)" x="0" y="0" font-size="8.2" text-anchor="start" fill="#141414">Size: 3 x 4 cm</text>
<text transform="translate(37 303.9) scale(1 1.12)" x="0" y="0" font-size="8.2" text-anchor="start" fill="#141414">mass loading: 15 mg cm<tspan font-size="5.08" dy="-3.44">-2</tspan><tspan dy="3.44"></tspan></text>
<g fill="none" stroke-width="0.55">
<circle cx="264.4" cy="188.86" r="1.9" stroke="#f08080"/>
<circle cx="265.18" cy="183.4" r="1.9" stroke="#f08080"/>
<circle cx="265.95" cy="190.69" r="1.9" stroke="#f08080"/>
<circle cx="266.73" cy="184.91" r="1.9" stroke="#f08080"/>
<circle cx="267.5" cy="183.14" r="1.9" stroke="#f08080"/>
<circle cx="268.28" cy="183.38" r="1.9" stroke="#f08080"/>
<circle cx="269.06" cy="188.74" r="1.9" stroke="#f08080"/>
<circle cx="269.83" cy="187.13" r="1.9" stroke="#f08080"/>
<circle cx="270.61" cy="184.8" r="1.9" stroke="#f08080"/>
<circle cx="271.38" cy="185.11" r="1.9" stroke="#f08080"/>
<circle cx="272.16" cy="181.79" r="1.9" stroke="#f08080"/>
<circle cx="272.94" cy="184.19" r="1.9" stroke="#f08080"/>
<circle cx="273.71" cy="183.53" r="1.9" stroke="#f08080"/>
<circle cx="274.49" cy="186.82" r="1.9" stroke="#f08080"/>
<circle cx="275.26" cy="185.99" r="1.9" stroke="#f08080"/>
<circle cx="276.04" cy="188.37" r="1.9" stroke="#f08080"/>
<circle cx="276.82" cy="187.06" r="1.9" stroke="#f08080"/>
<circle cx="277.59" cy="186.46" r="1.9" stroke="#f08080"/>
<circle cx="278.37" cy="187.98" r="1.9" stroke="#f08080"/>
<circle cx="279.14" cy="189.72" r="1.9" stroke="#f08080"/>
<circle cx="279.92" cy="186.2" r="1.9" stroke="#f08080"/>
<circle cx="280.7" cy="187.35" r="1.9" stroke="#f08080"/>
<circle cx="281.47" cy="186.12" r="1.9" stroke="#f08080"/>
<circle cx="282.25" cy="185.59" r="1.9" stroke="#f08080"/>
<circle cx="283.02" cy="185.49" r="1.9" stroke="#f08080"/>
<circle cx="283.8" cy="186.37" r="1.9" stroke="#f08080"/>
<circle cx="284.58" cy="184.92" r="1.9" stroke="#f08080"/>
<circle cx="285.35" cy="187.04" r="1.9" stroke="#f08080"/>
<circle cx="286.13" cy="186.82" r="1.9" stroke="#f08080"/>
<circle cx="286.9" cy="188.27" r="1.9" stroke="#f08080"/>
<circle cx="287.68" cy="189.53" r="1.9" stroke="#f08080"/>
<circle cx="288.46" cy="191.63" r="1.9" stroke="#f08080"/>
<circle cx="289.23" cy="186.97" r="1.9" stroke="#f08080"/>
<circle cx="290.01" cy="187.68" r="1.9" stroke="#f08080"/>
<circle cx="290.78" cy="189.04" r="1.9" stroke="#f08080"/>
<circle cx="291.56" cy="186.96" r="1.9" stroke="#f08080"/>
<circle cx="292.34" cy="190.24" r="1.9" stroke="#f08080"/>
<circle cx="293.11" cy="189.66" r="1.9" stroke="#f08080"/>
<circle cx="293.89" cy="188.33" r="1.9" stroke="#f08080"/>
<circle cx="294.66" cy="190.74" r="1.9" stroke="#f08080"/>
<circle cx="295.44" cy="187.15" r="1.9" stroke="#f08080"/>
<circle cx="296.22" cy="188.1" r="1.9" stroke="#f08080"/>
<circle cx="296.99" cy="187.77" r="1.9" stroke="#f08080"/>
<circle cx="297.77" cy="188.29" r="1.9" stroke="#f08080"/>
<circle cx="298.54" cy="186.14" r="1.9" stroke="#f08080"/>
<circle cx="299.32" cy="188.65" r="1.9" stroke="#f08080"/>
<circle cx="300.1" cy="190.74" r="1.9" stroke="#f08080"/>
<circle cx="300.87" cy="190.01" r="1.9" stroke="#f08080"/>
<circle cx="301.65" cy="191.03" r="1.9" stroke="#f08080"/>
<circle cx="302.42" cy="190.13" r="1.9" stroke="#f08080"/>
<circle cx="303.2" cy="190.9" r="1.9" stroke="#f08080"/>
<circle cx="303.98" cy="187.41" r="1.9" stroke="#f08080"/>
<circle cx="304.75" cy="188.66" r="1.9" stroke="#f08080"/>
<circle cx="305.53" cy="186.19" r="1.9" stroke="#f08080"/>
<circle cx="306.3" cy="194.15" r="1.9" stroke="#f08080"/>
<circle cx="307.08" cy="193.66" r="1.9" stroke="#f08080"/>
<circle cx="307.86" cy="189.54" r="1.9" stroke="#f08080"/>
<circle cx="308.63" cy="188.86" r="1.9" stroke="#f08080"/>
<circle cx="309.41" cy="190.81" r="1.9" stroke="#f08080"/>
<circle cx="310.18" cy="188.18" r="1.9" stroke="#f08080"/>
<circle cx="310.96" cy="192.41" r="1.9" stroke="#f08080"/>
<circle cx="311.74" cy="194.54" r="1.9" stroke="#f08080"/>
<circle cx="312.51" cy="186.96" r="1.9" stroke="#f08080"/>
<circle cx="313.29" cy="188.89" r="1.9" stroke="#f08080"/>
<circle cx="314.06" cy="192.56" r="1.9" stroke="#f08080"/>
<circle cx="314.84" cy="193" r="1.9" stroke="#f08080"/>
<circle cx="315.62" cy="191.83" r="1.9" stroke="#f08080"/>
<circle cx="316.39" cy="191.05" r="1.9" stroke="#f08080"/>
<circle cx="317.17" cy="190.36" r="1.9" stroke="#f08080"/>
<circle cx="317.94" cy="190.93" r="1.9" stroke="#f08080"/>
<circle cx="318.72" cy="189.6" r="1.9" stroke="#f08080"/>
<circle cx="319.5" cy="190.05" r="1.9" stroke="#f08080"/>
<circle cx="320.27" cy="189.93" r="1.9" stroke="#f08080"/>
<circle cx="321.05" cy="193.96" r="1.9" stroke="#f08080"/>
<circle cx="321.82" cy="187.3" r="1.9" stroke="#f08080"/>
<circle cx="322.6" cy="193" r="1.9" stroke="#f08080"/>
<circle cx="323.38" cy="188.26" r="1.9" stroke="#f08080"/>
<circle cx="324.15" cy="188.48" r="1.9" stroke="#f08080"/>
<circle cx="324.93" cy="187.23" r="1.9" stroke="#f08080"/>
<circle cx="325.7" cy="189.7" r="1.9" stroke="#f08080"/>
<circle cx="326.48" cy="192.33" r="1.9" stroke="#f08080"/>
<circle cx="327.26" cy="190.69" r="1.9" stroke="#f08080"/>
<circle cx="328.03" cy="191.6" r="1.9" stroke="#f08080"/>
<circle cx="328.81" cy="189.9" r="1.9" stroke="#f08080"/>
<circle cx="329.58" cy="192.06" r="1.9" stroke="#f08080"/>
<circle cx="330.36" cy="188.86" r="1.9" stroke="#f08080"/>
<circle cx="331.14" cy="192.42" r="1.9" stroke="#f08080"/>
<circle cx="331.91" cy="191.11" r="1.9" stroke="#f08080"/>
<circle cx="332.69" cy="189.82" r="1.9" stroke="#f08080"/>
<circle cx="333.46" cy="194.52" r="1.9" stroke="#f08080"/>
<circle cx="334.24" cy="195.28" r="1.9" stroke="#f08080"/>
<circle cx="335.02" cy="191.3" r="1.9" stroke="#f08080"/>
<circle cx="335.79" cy="195.02" r="1.9" stroke="#f08080"/>
<circle cx="336.57" cy="193.21" r="1.9" stroke="#f08080"/>
<circle cx="337.34" cy="194.59" r="1.9" stroke="#f08080"/>
<circle cx="338.12" cy="194.1" r="1.9" stroke="#f08080"/>
<circle cx="338.9" cy="193.02" r="1.9" stroke="#f08080"/>
<circle cx="339.67" cy="191.85" r="1.9" stroke="#f08080"/>
<circle cx="340.45" cy="195.53" r="1.9" stroke="#f08080"/>
<circle cx="341.22" cy="191.57" r="1.9" stroke="#f08080"/>
<circle cx="342" cy="192.96" r="1.9" stroke="#f08080"/>
<circle cx="342.78" cy="194.34" r="1.9" stroke="#f08080"/>
<circle cx="343.55" cy="189.34" r="1.9" stroke="#f08080"/>
<circle cx="344.33" cy="194.34" r="1.9" stroke="#f08080"/>
<circle cx="345.1" cy="192.16" r="1.9" stroke="#f08080"/>
<circle cx="345.88" cy="192.57" r="1.9" stroke="#f08080"/>
<circle cx="346.66" cy="194.12" r="1.9" stroke="#f08080"/>
<circle cx="347.43" cy="193.24" r="1.9" stroke="#f08080"/>
<circle cx="348.21" cy="193.56" r="1.9" stroke="#f08080"/>
<circle cx="348.98" cy="191.79" r="1.9" stroke="#f08080"/>
<circle cx="349.76" cy="191.41" r="1.9" stroke="#f08080"/>
<circle cx="350.54" cy="192.54" r="1.9" stroke="#f08080"/>
<circle cx="351.31" cy="192.32" r="1.9" stroke="#f08080"/>
<circle cx="352.09" cy="191.12" r="1.9" stroke="#f08080"/>
<circle cx="352.86" cy="196.13" r="1.9" stroke="#f08080"/>
<circle cx="353.64" cy="196.99" r="1.9" stroke="#f08080"/>
<circle cx="354.42" cy="189.72" r="1.9" stroke="#f08080"/>
<circle cx="355.19" cy="192.38" r="1.9" stroke="#f08080"/>
<circle cx="355.97" cy="195.37" r="1.9" stroke="#f08080"/>
<circle cx="356.74" cy="187.74" r="1.9" stroke="#f08080"/>
<circle cx="357.52" cy="195.54" r="1.9" stroke="#f08080"/>
<circle cx="358.3" cy="193.51" r="1.9" stroke="#f08080"/>
<circle cx="359.07" cy="195.05" r="1.9" stroke="#f08080"/>
<circle cx="359.85" cy="195.77" r="1.9" stroke="#f08080"/>
<circle cx="360.62" cy="196.56" r="1.9" stroke="#f08080"/>
<circle cx="361.4" cy="190.07" r="1.9" stroke="#f08080"/>
<circle cx="362.18" cy="195" r="1.9" stroke="#f08080"/>
<circle cx="362.95" cy="193.77" r="1.9" stroke="#f08080"/>
<circle cx="363.73" cy="195.08" r="1.9" stroke="#f08080"/>
<circle cx="364.5" cy="189.78" r="1.9" stroke="#f08080"/>
<circle cx="365.28" cy="191.06" r="1.9" stroke="#f08080"/>
<circle cx="366.06" cy="195.39" r="1.9" stroke="#f08080"/>
<circle cx="366.83" cy="196.36" r="1.9" stroke="#f08080"/>
<circle cx="367.61" cy="197.96" r="1.9" stroke="#f08080"/>
<circle cx="368.38" cy="189.08" r="1.9" stroke="#f08080"/>
<circle cx="369.16" cy="197.06" r="1.9" stroke="#f08080"/>
<circle cx="369.94" cy="192.68" r="1.9" stroke="#f08080"/>
<circle cx="370.71" cy="192.83" r="1.9" stroke="#f08080"/>
<circle cx="371.49" cy="192.61" r="1.9" stroke="#f08080"/>
<circle cx="372.26" cy="195.36" r="1.9" stroke="#f08080"/>
<circle cx="373.04" cy="196.66" r="1.9" stroke="#f08080"/>
<circle cx="373.82" cy="191.19" r="1.9" stroke="#f08080"/>
<circle cx="374.59" cy="195.37" r="1.9" stroke="#f08080"/>
<circle cx="375.37" cy="194.14" r="1.9" stroke="#f08080"/>
<circle cx="376.14" cy="191.49" r="1.9" stroke="#f08080"/>
<circle cx="376.92" cy="196.29" r="1.9" stroke="#f08080"/>
<circle cx="377.7" cy="191.01" r="1.9" stroke="#f08080"/>
<circle cx="378.47" cy="192.28" r="1.9" stroke="#f08080"/>
<circle cx="379.25" cy="193.51" r="1.9" stroke="#f08080"/>
<circle cx="380.02" cy="194.01" r="1.9" stroke="#f08080"/>
<circle cx="380.8" cy="191.26" r="1.9" stroke="#f08080"/>
<circle cx="381.58" cy="192.4" r="1.9" stroke="#f08080"/>
<circle cx="382.35" cy="197.3" r="1.9" stroke="#f08080"/>
<circle cx="383.13" cy="194.25" r="1.9" stroke="#f08080"/>
<circle cx="383.9" cy="194.79" r="1.9" stroke="#f08080"/>
<circle cx="384.68" cy="193.74" r="1.9" stroke="#f08080"/>
<circle cx="385.46" cy="196.82" r="1.9" stroke="#f08080"/>
<circle cx="386.23" cy="197.77" r="1.9" stroke="#f08080"/>
<circle cx="387.01" cy="193.49" r="1.9" stroke="#f08080"/>
<circle cx="387.78" cy="196.54" r="1.9" stroke="#f08080"/>
<circle cx="388.56" cy="191.26" r="1.9" stroke="#f08080"/>
<circle cx="389.34" cy="193.91" r="1.9" stroke="#f08080"/>
<circle cx="390.11" cy="190.12" r="1.9" stroke="#f08080"/>
<circle cx="390.89" cy="192.17" r="1.9" stroke="#f08080"/>
<circle cx="391.66" cy="204.38" r="1.9" stroke="#f08080"/>
<circle cx="392.44" cy="191.07" r="1.9" stroke="#f08080"/>
<circle cx="393.22" cy="198.4" r="1.9" stroke="#f08080"/>
<circle cx="393.99" cy="194.97" r="1.9" stroke="#f08080"/>
<circle cx="394.77" cy="194.97" r="1.9" stroke="#f08080"/>
<circle cx="395.54" cy="186.82" r="1.9" stroke="#f08080"/>
<circle cx="396.32" cy="194.83" r="1.9" stroke="#f08080"/>
<circle cx="397.1" cy="188.98" r="1.9" stroke="#f08080"/>
<circle cx="397.87" cy="191.78" r="1.9" stroke="#f08080"/>
<circle cx="398.65" cy="191.48" r="1.9" stroke="#f08080"/>
<circle cx="399.42" cy="192.81" r="1.9" stroke="#f08080"/>
<circle cx="400.2" cy="200.63" r="1.9" stroke="#f08080"/>
<circle cx="400.98" cy="200.31" r="1.9" stroke="#f08080"/>
<circle cx="401.75" cy="187.77" r="1.9" stroke="#f08080"/>
<circle cx="402.53" cy="192.82" r="1.9" stroke="#f08080"/>
<circle cx="403.3" cy="191.23" r="1.9" stroke="#f08080"/>
<circle cx="404.08" cy="194.73" r="1.9" stroke="#f08080"/>
<circle cx="404.86" cy="187.9" r="1.9" stroke="#f08080"/>
<circle cx="405.63" cy="188.72" r="1.9" stroke="#f08080"/>
<circle cx="406.41" cy="193.93" r="1.9" stroke="#f08080"/>
<circle cx="407.18" cy="191.33" r="1.9" stroke="#f08080"/>
<circle cx="407.96" cy="198.31" r="1.9" stroke="#f08080"/>
<circle cx="408.74" cy="193.12" r="1.9" stroke="#f08080"/>
<circle cx="409.51" cy="195.09" r="1.9" stroke="#f08080"/>
<circle cx="410.29" cy="192.47" r="1.9" stroke="#f08080"/>
<circle cx="411.06" cy="197.39" r="1.9" stroke="#f08080"/>
<circle cx="411.84" cy="199" r="1.9" stroke="#f08080"/>
<circle cx="412.62" cy="194.02" r="1.9" stroke="#f08080"/>
<circle cx="413.39" cy="192.31" r="1.9" stroke="#f08080"/>
<circle cx="414.17" cy="196.68" r="1.9" stroke="#f08080"/>
<circle cx="414.94" cy="194.78" r="1.9" stroke="#f08080"/>
<circle cx="415.72" cy="198.29" r="1.9" stroke="#f08080"/>
<circle cx="416.5" cy="194.77" r="1.9" stroke="#f08080"/>
<circle cx="417.27" cy="194.84" r="1.9" stroke="#f08080"/>
<circle cx="418.05" cy="197.69" r="1.9" stroke="#f08080"/>
<circle cx="418.82" cy="191.08" r="1.9" stroke="#f08080"/>
<circle cx="419.6" cy="189.25" r="1.9" stroke="#f08080"/>
<circle cx="264.4" cy="235.3" r="1.8" stroke="#6d9ccf"/>
<circle cx="265.18" cy="228.86" r="1.8" stroke="#6d9ccf"/>
<circle cx="265.95" cy="226.4" r="1.8" stroke="#6d9ccf"/>
<circle cx="266.73" cy="223.54" r="1.8" stroke="#6d9ccf"/>
<circle cx="267.5" cy="221.91" r="1.8" stroke="#6d9ccf"/>
<circle cx="268.28" cy="219.93" r="1.8" stroke="#6d9ccf"/>
<circle cx="269.06" cy="220.05" r="1.8" stroke="#6d9ccf"/>
<circle cx="269.83" cy="216.99" r="1.8" stroke="#6d9ccf"/>
<circle cx="270.61" cy="217.58" r="1.8" stroke="#6d9ccf"/>
<circle cx="271.38" cy="216.8" r="1.8" stroke="#6d9ccf"/>
<circle cx="272.16" cy="218.53" r="1.8" stroke="#6d9ccf"/>
<circle cx="272.94" cy="216.8" r="1.8" stroke="#6d9ccf"/>
<circle cx="273.71" cy="216.76" r="1.8" stroke="#6d9ccf"/>
<circle cx="274.49" cy="217.15" r="1.8" stroke="#6d9ccf"/>
<circle cx="275.26" cy="217.43" r="1.8" stroke="#6d9ccf"/>
<circle cx="276.04" cy="217.32" r="1.8" stroke="#6d9ccf"/>
<circle cx="276.82" cy="216.68" r="1.8" stroke="#6d9ccf"/>
<circle cx="277.59" cy="216.91" r="1.8" stroke="#6d9ccf"/>
<circle cx="278.37" cy="216.14" r="1.8" stroke="#6d9ccf"/>
<circle cx="279.14" cy="217.11" r="1.8" stroke="#6d9ccf"/>
<circle cx="279.92" cy="216.81" r="1.8" stroke="#6d9ccf"/>
<circle cx="280.7" cy="215.76" r="1.8" stroke="#6d9ccf"/>
<circle cx="281.47" cy="217.65" r="1.8" stroke="#6d9ccf"/>
<circle cx="282.25" cy="217.66" r="1.8" stroke="#6d9ccf"/>
<circle cx="283.02" cy="218.53" r="1.8" stroke="#6d9ccf"/>
<circle cx="283.8" cy="218.67" r="1.8" stroke="#6d9ccf"/>
<circle cx="284.58" cy="218.56" r="1.8" stroke="#6d9ccf"/>
<circle cx="285.35" cy="218.63" r="1.8" stroke="#6d9ccf"/>
<circle cx="286.13" cy="220.09" r="1.8" stroke="#6d9ccf"/>
<circle cx="286.9" cy="219.39" r="1.8" stroke="#6d9ccf"/>
<circle cx="287.68" cy="220.19" r="1.8" stroke="#6d9ccf"/>
<circle cx="288.46" cy="220.01" r="1.8" stroke="#6d9ccf"/>
<circle cx="289.23" cy="220.84" r="1.8" stroke="#6d9ccf"/>
<circle cx="290.01" cy="220.81" r="1.8" stroke="#6d9ccf"/>
<circle cx="290.78" cy="219.6" r="1.8" stroke="#6d9ccf"/>
<circle cx="291.56" cy="220.96" r="1.8" stroke="#6d9ccf"/>
<circle cx="292.34" cy="221.88" r="1.8" stroke="#6d9ccf"/>
<circle cx="293.11" cy="221.94" r="1.8" stroke="#6d9ccf"/>
<circle cx="293.89" cy="221.02" r="1.8" stroke="#6d9ccf"/>
<circle cx="294.66" cy="222.57" r="1.8" stroke="#6d9ccf"/>
<circle cx="295.44" cy="222.28" r="1.8" stroke="#6d9ccf"/>
<circle cx="296.22" cy="222.34" r="1.8" stroke="#6d9ccf"/>
<circle cx="296.99" cy="221.65" r="1.8" stroke="#6d9ccf"/>
<circle cx="297.77" cy="222.61" r="1.8" stroke="#6d9ccf"/>
<circle cx="298.54" cy="222.88" r="1.8" stroke="#6d9ccf"/>
<circle cx="299.32" cy="221.36" r="1.8" stroke="#6d9ccf"/>
<circle cx="300.1" cy="222.64" r="1.8" stroke="#6d9ccf"/>
<circle cx="300.87" cy="222.17" r="1.8" stroke="#6d9ccf"/>
<circle cx="301.65" cy="222.18" r="1.8" stroke="#6d9ccf"/>
<circle cx="302.42" cy="223.76" r="1.8" stroke="#6d9ccf"/>
<circle cx="303.2" cy="224.44" r="1.8" stroke="#6d9ccf"/>
<circle cx="303.98" cy="224.05" r="1.8" stroke="#6d9ccf"/>
<circle cx="304.75" cy="223.25" r="1.8" stroke="#6d9ccf"/>
<circle cx="305.53" cy="223.61" r="1.8" stroke="#6d9ccf"/>
<circle cx="306.3" cy="225.29" r="1.8" stroke="#6d9ccf"/>
<circle cx="307.08" cy="224.79" r="1.8" stroke="#6d9ccf"/>
<circle cx="307.86" cy="225.34" r="1.8" stroke="#6d9ccf"/>
<circle cx="308.63" cy="225.17" r="1.8" stroke="#6d9ccf"/>
<circle cx="309.41" cy="225.68" r="1.8" stroke="#6d9ccf"/>
<circle cx="310.18" cy="225.34" r="1.8" stroke="#6d9ccf"/>
<circle cx="310.96" cy="225.55" r="1.8" stroke="#6d9ccf"/>
<circle cx="311.74" cy="225.31" r="1.8" stroke="#6d9ccf"/>
<circle cx="312.51" cy="226.53" r="1.8" stroke="#6d9ccf"/>
<circle cx="313.29" cy="226.72" r="1.8" stroke="#6d9ccf"/>
<circle cx="314.06" cy="227.78" r="1.8" stroke="#6d9ccf"/>
<circle cx="314.84" cy="228.84" r="1.8" stroke="#6d9ccf"/>
<circle cx="315.62" cy="227.64" r="1.8" stroke="#6d9ccf"/>
<circle cx="316.39" cy="225.84" r="1.8" stroke="#6d9ccf"/>
<circle cx="317.17" cy="227.19" r="1.8" stroke="#6d9ccf"/>
<circle cx="317.94" cy="229.16" r="1.8" stroke="#6d9ccf"/>
<circle cx="318.72" cy="228.83" r="1.8" stroke="#6d9ccf"/>
<circle cx="319.5" cy="228.65" r="1.8" stroke="#6d9ccf"/>
<circle cx="320.27" cy="228.38" r="1.8" stroke="#6d9ccf"/>
<circle cx="321.05" cy="229.59" r="1.8" stroke="#6d9ccf"/>
<circle cx="321.82" cy="229.73" r="1.8" stroke="#6d9ccf"/>
<circle cx="322.6" cy="230.5" r="1.8" stroke="#6d9ccf"/>
<circle cx="323.38" cy="230.93" r="1.8" stroke="#6d9ccf"/>
<circle cx="324.15" cy="231.33" r="1.8" stroke="#6d9ccf"/>
<circle cx="324.93" cy="231.19" r="1.8" stroke="#6d9ccf"/>
<circle cx="325.7" cy="229.98" r="1.8" stroke="#6d9ccf"/>
<circle cx="326.48" cy="231.4" r="1.8" stroke="#6d9ccf"/>
<circle cx="327.26" cy="230.49" r="1.8" stroke="#6d9ccf"/>
<circle cx="328.03" cy="231.03" r="1.8" stroke="#6d9ccf"/>
<circle cx="328.81" cy="231.23" r="1.8" stroke="#6d9ccf"/>
<circle cx="329.58" cy="231.21" r="1.8" stroke="#6d9ccf"/>
<circle cx="330.36" cy="231.69" r="1.8" stroke="#6d9ccf"/>
<circle cx="331.14" cy="233.51" r="1.8" stroke="#6d9ccf"/>
<circle cx="331.91" cy="232.7" r="1.8" stroke="#6d9ccf"/>
<circle cx="332.69" cy="234.1" r="1.8" stroke="#6d9ccf"/>
<circle cx="333.46" cy="233.35" r="1.8" stroke="#6d9ccf"/>
<circle cx="334.24" cy="232.29" r="1.8" stroke="#6d9ccf"/>
<circle cx="335.02" cy="233.31" r="1.8" stroke="#6d9ccf"/>
<circle cx="335.79" cy="235.12" r="1.8" stroke="#6d9ccf"/>
<circle cx="336.57" cy="235.01" r="1.8" stroke="#6d9ccf"/>
<circle cx="337.34" cy="234.39" r="1.8" stroke="#6d9ccf"/>
<circle cx="338.12" cy="234.6" r="1.8" stroke="#6d9ccf"/>
<circle cx="338.9" cy="235.84" r="1.8" stroke="#6d9ccf"/>
<circle cx="339.67" cy="235.6" r="1.8" stroke="#6d9ccf"/>
<circle cx="340.45" cy="235.37" r="1.8" stroke="#6d9ccf"/>
<circle cx="341.22" cy="236.54" r="1.8" stroke="#6d9ccf"/>
<circle cx="342" cy="236.05" r="1.8" stroke="#6d9ccf"/>
<circle cx="342.78" cy="235.4" r="1.8" stroke="#6d9ccf"/>
<circle cx="343.55" cy="235.16" r="1.8" stroke="#6d9ccf"/>
<circle cx="344.33" cy="234.87" r="1.8" stroke="#6d9ccf"/>
<circle cx="345.1" cy="237.93" r="1.8" stroke="#6d9ccf"/>
<circle cx="345.88" cy="236.56" r="1.8" stroke="#6d9ccf"/>
<circle cx="346.66" cy="237.65" r="1.8" stroke="#6d9ccf"/>
<circle cx="347.43" cy="236.7" r="1.8" stroke="#6d9ccf"/>
<circle cx="348.21" cy="236.73" r="1.8" stroke="#6d9ccf"/>
<circle cx="348.98" cy="236.88" r="1.8" stroke="#6d9ccf"/>
<circle cx="349.76" cy="236.98" r="1.8" stroke="#6d9ccf"/>
<circle cx="350.54" cy="235.79" r="1.8" stroke="#6d9ccf"/>
<circle cx="351.31" cy="236.56" r="1.8" stroke="#6d9ccf"/>
<circle cx="352.09" cy="237.14" r="1.8" stroke="#6d9ccf"/>
<circle cx="352.86" cy="237.85" r="1.8" stroke="#6d9ccf"/>
<circle cx="353.64" cy="235.96" r="1.8" stroke="#6d9ccf"/>
<circle cx="354.42" cy="236.41" r="1.8" stroke="#6d9ccf"/>
<circle cx="355.19" cy="236.5" r="1.8" stroke="#6d9ccf"/>
<circle cx="355.97" cy="236.91" r="1.8" stroke="#6d9ccf"/>
<circle cx="356.74" cy="236.13" r="1.8" stroke="#6d9ccf"/>
<circle cx="357.52" cy="235.45" r="1.8" stroke="#6d9ccf"/>
<circle cx="358.3" cy="236.73" r="1.8" stroke="#6d9ccf"/>
<circle cx="359.07" cy="235.64" r="1.8" stroke="#6d9ccf"/>
<circle cx="359.85" cy="235.4" r="1.8" stroke="#6d9ccf"/>
<circle cx="360.62" cy="237.18" r="1.8" stroke="#6d9ccf"/>
<circle cx="361.4" cy="234.08" r="1.8" stroke="#6d9ccf"/>
<circle cx="362.18" cy="234.97" r="1.8" stroke="#6d9ccf"/>
<circle cx="362.95" cy="234.14" r="1.8" stroke="#6d9ccf"/>
<circle cx="363.73" cy="235.77" r="1.8" stroke="#6d9ccf"/>
<circle cx="364.5" cy="234.02" r="1.8" stroke="#6d9ccf"/>
<circle cx="365.28" cy="234.65" r="1.8" stroke="#6d9ccf"/>
<circle cx="366.06" cy="234.59" r="1.8" stroke="#6d9ccf"/>
<circle cx="366.83" cy="233.94" r="1.8" stroke="#6d9ccf"/>
<circle cx="367.61" cy="233.92" r="1.8" stroke="#6d9ccf"/>
<circle cx="368.38" cy="233.51" r="1.8" stroke="#6d9ccf"/>
<circle cx="369.16" cy="233.15" r="1.8" stroke="#6d9ccf"/>
<circle cx="369.94" cy="232.84" r="1.8" stroke="#6d9ccf"/>
<circle cx="370.71" cy="233.38" r="1.8" stroke="#6d9ccf"/>
<circle cx="371.49" cy="232.85" r="1.8" stroke="#6d9ccf"/>
<circle cx="372.26" cy="232.19" r="1.8" stroke="#6d9ccf"/>
<circle cx="373.04" cy="232.38" r="1.8" stroke="#6d9ccf"/>
<circle cx="373.82" cy="233.96" r="1.8" stroke="#6d9ccf"/>
<circle cx="374.59" cy="231.48" r="1.8" stroke="#6d9ccf"/>
<circle cx="375.37" cy="231.77" r="1.8" stroke="#6d9ccf"/>
<circle cx="376.14" cy="231.58" r="1.8" stroke="#6d9ccf"/>
<circle cx="376.92" cy="231.74" r="1.8" stroke="#6d9ccf"/>
<circle cx="377.7" cy="232.11" r="1.8" stroke="#6d9ccf"/>
<circle cx="378.47" cy="230.92" r="1.8" stroke="#6d9ccf"/>
<circle cx="379.25" cy="231.41" r="1.8" stroke="#6d9ccf"/>
<circle cx="380.02" cy="231.36" r="1.8" stroke="#6d9ccf"/>
<circle cx="380.8" cy="231.96" r="1.8" stroke="#6d9ccf"/>
<circle cx="381.58" cy="230.28" r="1.8" stroke="#6d9ccf"/>
<circle cx="382.35" cy="230.01" r="1.8" stroke="#6d9ccf"/>
<circle cx="383.13" cy="230.77" r="1.8" stroke="#6d9ccf"/>
<circle cx="383.9" cy="230.08" r="1.8" stroke="#6d9ccf"/>
<circle cx="384.68" cy="229.55" r="1.8" stroke="#6d9ccf"/>
<circle cx="385.46" cy="229.56" r="1.8" stroke="#6d9ccf"/>
<circle cx="386.23" cy="230.47" r="1.8" stroke="#6d9ccf"/>
<circle cx="387.01" cy="228.3" r="1.8" stroke="#6d9ccf"/>
<circle cx="387.78" cy="229.06" r="1.8" stroke="#6d9ccf"/>
<circle cx="388.56" cy="230.16" r="1.8" stroke="#6d9ccf"/>
<circle cx="389.34" cy="229.06" r="1.8" stroke="#6d9ccf"/>
<circle cx="390.11" cy="228.1" r="1.8" stroke="#6d9ccf"/>
<circle cx="390.89" cy="228.02" r="1.8" stroke="#6d9ccf"/>
<circle cx="391.66" cy="228.92" r="1.8" stroke="#6d9ccf"/>
<circle cx="392.44" cy="228.35" r="1.8" stroke="#6d9ccf"/>
<circle cx="393.22" cy="227.57" r="1.8" stroke="#6d9ccf"/>
<circle cx="393.99" cy="227.25" r="1.8" stroke="#6d9ccf"/>
<circle cx="394.77" cy="226.58" r="1.8" stroke="#6d9ccf"/>
<circle cx="395.54" cy="226.36" r="1.8" stroke="#6d9ccf"/>
<circle cx="396.32" cy="227.32" r="1.8" stroke="#6d9ccf"/>
<circle cx="397.1" cy="227.21" r="1.8" stroke="#6d9ccf"/>
<circle cx="397.87" cy="226.34" r="1.8" stroke="#6d9ccf"/>
<circle cx="398.65" cy="226.96" r="1.8" stroke="#6d9ccf"/>
<circle cx="399.42" cy="225.83" r="1.8" stroke="#6d9ccf"/>
<circle cx="400.2" cy="226.34" r="1.8" stroke="#6d9ccf"/>
<circle cx="400.98" cy="224.51" r="1.8" stroke="#6d9ccf"/>
<circle cx="401.75" cy="226.26" r="1.8" stroke="#6d9ccf"/>
<circle cx="402.53" cy="226.76" r="1.8" stroke="#6d9ccf"/>
<circle cx="403.3" cy="225.88" r="1.8" stroke="#6d9ccf"/>
<circle cx="404.08" cy="225.08" r="1.8" stroke="#6d9ccf"/>
<circle cx="404.86" cy="225.24" r="1.8" stroke="#6d9ccf"/>
<circle cx="405.63" cy="224.76" r="1.8" stroke="#6d9ccf"/>
<circle cx="406.41" cy="224.61" r="1.8" stroke="#6d9ccf"/>
<circle cx="407.18" cy="224.3" r="1.8" stroke="#6d9ccf"/>
<circle cx="407.96" cy="224.47" r="1.8" stroke="#6d9ccf"/>
<circle cx="408.74" cy="223.72" r="1.8" stroke="#6d9ccf"/>
<circle cx="409.51" cy="223.71" r="1.8" stroke="#6d9ccf"/>
<circle cx="410.29" cy="223.22" r="1.8" stroke="#6d9ccf"/>
<circle cx="411.06" cy="223.86" r="1.8" stroke="#6d9ccf"/>
<circle cx="411.84" cy="224.08" r="1.8" stroke="#6d9ccf"/>
<circle cx="412.62" cy="223.49" r="1.8" stroke="#6d9ccf"/>
<circle cx="413.39" cy="223.1" r="1.8" stroke="#6d9ccf"/>
<circle cx="414.17" cy="223.53" r="1.8" stroke="#6d9ccf"/>
<circle cx="414.94" cy="221.83" r="1.8" stroke="#6d9ccf"/>
<circle cx="415.72" cy="223.62" r="1.8" stroke="#6d9ccf"/>
<circle cx="416.5" cy="220.66" r="1.8" stroke="#6d9ccf"/>
<circle cx="417.27" cy="222.29" r="1.8" stroke="#6d9ccf"/>
<circle cx="418.05" cy="221.7" r="1.8" stroke="#6d9ccf"/>
<circle cx="418.82" cy="221.67" r="1.8" stroke="#6d9ccf"/>
<circle cx="419.6" cy="220.17" r="1.8" stroke="#6d9ccf"/>
</g>
<path d="M264.4,257.2 C270.87,257.32 290.27,257.53 303.2,257.9 C316.13,258.27 329.07,258.67 342,259.4 C354.93,260.13 367.87,261.25 380.8,262.3 C393.73,263.35 413.13,265.13 419.6,265.7" fill="none" stroke="#3a78c0" stroke-width="4.2"/>
<path d="M264.4,250.6 C267.25,250.4 273.71,249.27 281.47,249.4 C289.23,249.53 300.87,250.57 310.96,251.4 C321.05,252.23 330.36,253.35 342,254.4 C353.64,255.45 367.87,256.58 380.8,257.7 C393.73,258.82 413.13,260.53 419.6,261.1" fill="none" stroke="#e8303a" stroke-width="4.2"/>
<rect x="264.4" y="175.5" width="155.2" height="130.9" fill="none" stroke="#444" stroke-width="1.2"/>
<line x1="264.4" y1="306.4" x2="264.4" y2="308.6" stroke="#333" stroke-width="1"/>
<text transform="translate(264.4 317.65) scale(1 1.12)" x="0" y="0" font-size="8.1" text-anchor="middle" fill="#1e1e1e">0</text>
<line x1="283.8" y1="306.4" x2="283.8" y2="307.7" stroke="#333" stroke-width="1"/>
<line x1="303.2" y1="306.4" x2="303.2" y2="308.6" stroke="#333" stroke-width="1"/>
<text transform="translate(303.2 317.65) scale(1 1.12)" x="0" y="0" font-size="8.1" text-anchor="middle" fill="#1e1e1e">50</text>
<line x1="322.6" y1="306.4" x2="322.6" y2="307.7" stroke="#333" stroke-width="1"/>
<line x1="342" y1="306.4" x2="342" y2="308.6" stroke="#333" stroke-width="1"/>
<text transform="translate(342 317.65) scale(1 1.12)" x="0" y="0" font-size="8.1" text-anchor="middle" fill="#1e1e1e">100</text>
<line x1="361.4" y1="306.4" x2="361.4" y2="307.7" stroke="#333" stroke-width="1"/>
<line x1="380.8" y1="306.4" x2="380.8" y2="308.6" stroke="#333" stroke-width="1"/>
<text transform="translate(380.8 317.65) scale(1 1.12)" x="0" y="0" font-size="8.1" text-anchor="middle" fill="#1e1e1e">150</text>
<line x1="400.2" y1="306.4" x2="400.2" y2="307.7" stroke="#333" stroke-width="1"/>
<line x1="419.6" y1="306.4" x2="419.6" y2="308.6" stroke="#333" stroke-width="1"/>
<text transform="translate(419.6 317.65) scale(1 1.12)" x="0" y="0" font-size="8.1" text-anchor="middle" fill="#1e1e1e">200</text>
<line x1="264.4" y1="306.4" x2="262.2" y2="306.4" stroke="#333" stroke-width="1"/>
<text transform="translate(260.3 309.65) scale(1 1.12)" x="0" y="0" font-size="8.1" text-anchor="end" fill="#1e1e1e">-0.5</text>
<line x1="264.4" y1="297.05" x2="263.1" y2="297.05" stroke="#333" stroke-width="1"/>
<line x1="264.4" y1="287.7" x2="262.2" y2="287.7" stroke="#333" stroke-width="1"/>
<text transform="translate(260.3 290.95) scale(1 1.12)" x="0" y="0" font-size="8.1" text-anchor="end" fill="#1e1e1e">0.0</text>
<line x1="264.4" y1="278.35" x2="263.1" y2="278.35" stroke="#333" stroke-width="1"/>
<line x1="264.4" y1="269" x2="262.2" y2="269" stroke="#333" stroke-width="1"/>
<text transform="translate(260.3 272.25) scale(1 1.12)" x="0" y="0" font-size="8.1" text-anchor="end" fill="#1e1e1e">0.5</text>
<line x1="264.4" y1="259.65" x2="263.1" y2="259.65" stroke="#333" stroke-width="1"/>
<line x1="264.4" y1="250.3" x2="262.2" y2="250.3" stroke="#333" stroke-width="1"/>
<text transform="translate(260.3 253.55) scale(1 1.12)" x="0" y="0" font-size="8.1" text-anchor="end" fill="#1e1e1e">1.0</text>
<line x1="264.4" y1="240.95" x2="263.1" y2="240.95" stroke="#333" stroke-width="1"/>
<line x1="264.4" y1="231.6" x2="262.2" y2="231.6" stroke="#333" stroke-width="1"/>
<text transform="translate(260.3 234.85) scale(1 1.12)" x="0" y="0" font-size="8.1" text-anchor="end" fill="#1e1e1e">1.5</text>
<line x1="264.4" y1="222.25" x2="263.1" y2="222.25" stroke="#333" stroke-width="1"/>
<line x1="264.4" y1="212.9" x2="262.2" y2="212.9" stroke="#333" stroke-width="1"/>
<text transform="translate(260.3 216.15) scale(1 1.12)" x="0" y="0" font-size="8.1" text-anchor="end" fill="#1e1e1e">2.0</text>
<line x1="264.4" y1="203.55" x2="263.1" y2="203.55" stroke="#333" stroke-width="1"/>
<line x1="264.4" y1="194.2" x2="262.2" y2="194.2" stroke="#333" stroke-width="1"/>
<text transform="translate(260.3 197.45) scale(1 1.12)" x="0" y="0" font-size="8.1" text-anchor="end" fill="#1e1e1e">2.5</text>
<line x1="264.4" y1="184.85" x2="263.1" y2="184.85" stroke="#333" stroke-width="1"/>
<line x1="264.4" y1="175.5" x2="262.2" y2="175.5" stroke="#333" stroke-width="1"/>
<text transform="translate(260.3 178.75) scale(1 1.12)" x="0" y="0" font-size="8.1" text-anchor="end" fill="#1e1e1e">3.0</text>
<line x1="419.6" y1="306.4" x2="421.8" y2="306.4" stroke="#333" stroke-width="1"/>
<text transform="translate(423.8 309.65) scale(1 1.12)" x="0" y="0" font-size="8.1" text-anchor="start" fill="#1e1e1e">85</text>
<line x1="419.6" y1="288.13" x2="420.9" y2="288.13" stroke="#333" stroke-width="1"/>
<line x1="419.6" y1="269.86" x2="421.8" y2="269.86" stroke="#333" stroke-width="1"/>
<text transform="translate(423.8 273.11) scale(1 1.12)" x="0" y="0" font-size="8.1" text-anchor="start" fill="#1e1e1e">90</text>
<line x1="419.6" y1="251.6" x2="420.9" y2="251.6" stroke="#333" stroke-width="1"/>
<line x1="419.6" y1="233.33" x2="421.8" y2="233.33" stroke="#333" stroke-width="1"/>
<text transform="translate(423.8 236.58) scale(1 1.12)" x="0" y="0" font-size="8.1" text-anchor="start" fill="#1e1e1e">95</text>
<line x1="419.6" y1="215.06" x2="420.9" y2="215.06" stroke="#333" stroke-width="1"/>
<line x1="419.6" y1="196.79" x2="421.8" y2="196.79" stroke="#333" stroke-width="1"/>
<text transform="translate(423.8 200.04) scale(1 1.12)" x="0" y="0" font-size="8.1" text-anchor="start" fill="#1e1e1e">100</text>
<line x1="419.6" y1="178.53" x2="420.9" y2="178.53" stroke="#333" stroke-width="1"/>
<text x="341.7" y="333" font-size="10.3" text-anchor="middle" fill="#141414">Cycle number</text>
<text x="241.2" y="240.9" font-size="10.6" text-anchor="middle" fill="#141414" transform="rotate(-90 241.2 240.9)">Areal capacity (mAh cm<tspan font-size="6.57" dy="-4.45">-2</tspan><tspan dy="4.45">)</tspan></text>
<text x="448.8" y="240.5" font-size="10.6" text-anchor="middle" fill="#141414" transform="rotate(-90 448.8 240.5)">Coulombic effciency (%)</text>
<text transform="translate(293.8 246) scale(1 1.12)" x="0" y="0" font-size="8.0" text-anchor="start" fill="#e8303a">CZHE</text>
<text transform="translate(299.6 268.7) scale(1 1.12)" x="0" y="0" font-size="8.0" text-anchor="start" fill="#3a78c0">LE</text>
<line x1="294.6" y1="266.6" x2="294.6" y2="271" stroke="#333" stroke-width="0.8"/>
<line x1="294.6" y1="271" x2="268.6" y2="271" stroke="#333" stroke-width="0.8"/>
<path d="M268.6,271 L271.2,272.17 L271.2,269.83 Z" fill="#333"/>
<line x1="389.6" y1="240.2" x2="389.6" y2="244.3" stroke="#333" stroke-width="0.8"/>
<line x1="389.6" y1="244.3" x2="416.6" y2="244.3" stroke="#333" stroke-width="0.8"/>
<path d="M416.6,244.3 L414,243.13 L414,245.47 Z" fill="#333"/>
<text transform="translate(268.5 281.9) scale(1 1.12)" x="0" y="0" font-size="8.2" text-anchor="start" fill="#141414">25 &#176;C</text>
<text transform="translate(268.5 292.4) scale(1 1.12)" x="0" y="0" font-size="8.2" text-anchor="start" fill="#141414">Size: 3 x 4 cm</text>
<text transform="translate(268.5 302.4) scale(1 1.12)" x="0" y="0" font-size="8.2" text-anchor="start" fill="#141414">mass loading: 15 mg cm<tspan font-size="5.08" dy="-3.44">-2</tspan><tspan dy="3.44"></tspan></text>
<text transform="translate(417.6 302.2) scale(1 1.12)" x="0" y="0" font-size="8.2" text-anchor="end" fill="#141414">0.3 A g<tspan font-size="5.08" dy="-3.44">-1</tspan><tspan dy="3.44"></tspan></text>
<defs><clipPath id="bat"><path d="M346.6,271.2 Q346.4,270.9 347,270.9 L370.2,268.5 Q370.9,268.5 371,269.2 L373.6,283.6 Q373.8,285.8 372,286 L345.6,288.2 Q344.6,288.3 344.7,287.3 Z"/></clipPath></defs>
<path d="M370.2,269 L375.6,268.8 Q376.4,268.9 376.3,269.8 L376.4,272 Q376.4,272.7 375.6,272.7 L371,273 Z" fill="#dcd7cf"/>
<path d="M372.8,278.6 L378.2,278.3 Q378.9,278.3 378.9,279 L379,281.6 Q379,282.3 378.3,282.3 L373.5,282.6 Z" fill="#efe0ad"/>
<path d="M346.6,271.2 Q346.4,270.9 347,270.9 L370.2,268.5 Q370.9,268.5 371,269.2 L373.6,283.6 Q373.8,285.8 372,286 L345.6,288.2 Q344.6,288.3 344.7,287.3 Z" fill="#eadbbd"/>
<path d="M343,280.6 C343.53,280.67 344.95,280.65 346.2,281 C347.45,281.35 349,282.27 350.5,282.7 C352,283.13 354.02,282.97 355.2,283.6 C356.38,284.23 356.97,285.78 357.6,286.5 C358.23,287.22 358.28,287.83 359,287.9 C359.72,287.97 360.95,287.3 361.9,286.9 C362.85,286.5 363.75,285.5 364.7,285.5 C365.65,285.5 366.65,286.27 367.6,286.9 C368.55,287.53 369.53,288.67 370.4,289.3 C371.27,289.93 371.87,290.18 372.8,290.7 C373.73,291.22 375.47,292.12 376,292.4 L375,262 L343,262 Z" fill="#b6d3df" clip-path="url(#bat)"/>
<path d="M343,278.1 C343.53,278.17 344.95,278.15 346.2,278.5 C347.45,278.85 349,279.77 350.5,280.2 C352,280.63 354.02,280.47 355.2,281.1 C356.38,281.73 356.97,283.28 357.6,284 C358.23,284.72 358.28,285.33 359,285.4 C359.72,285.47 360.95,284.8 361.9,284.4 C362.85,284 363.75,283 364.7,283 C365.65,283 366.65,283.77 367.6,284.4 C368.55,285.03 369.53,286.17 370.4,286.8 C371.27,287.43 371.87,287.68 372.8,288.2 C373.73,288.72 375.47,289.62 376,289.9 L375,262 L343,262 Z" fill="#f0b45e" clip-path="url(#bat)"/>
<path d="M343,275.5 C343.53,275.57 344.95,275.55 346.2,275.9 C347.45,276.25 349,277.17 350.5,277.6 C352,278.03 354.02,277.87 355.2,278.5 C356.38,279.13 356.97,280.68 357.6,281.4 C358.23,282.12 358.28,282.73 359,282.8 C359.72,282.87 360.95,282.2 361.9,281.8 C362.85,281.4 363.75,280.4 364.7,280.4 C365.65,280.4 366.65,281.17 367.6,281.8 C368.55,282.43 369.53,283.57 370.4,284.2 C371.27,284.83 371.87,285.08 372.8,285.6 C373.73,286.12 375.47,287.02 376,287.3 L375,262 L343,262 Z" fill="#75634f" clip-path="url(#bat)"/>
<path d="M343,273.2 C343.53,273.27 344.95,273.25 346.2,273.6 C347.45,273.95 349,274.87 350.5,275.3 C352,275.73 354.02,275.57 355.2,276.2 C356.38,276.83 356.97,278.38 357.6,279.1 C358.23,279.82 358.28,280.43 359,280.5 C359.72,280.57 360.95,279.9 361.9,279.5 C362.85,279.1 363.75,278.1 364.7,278.1 C365.65,278.1 366.65,278.87 367.6,279.5 C368.55,280.13 369.53,281.27 370.4,281.9 C371.27,282.53 371.87,282.78 372.8,283.3 C373.73,283.82 375.47,284.72 376,285 L375,262 L343,262 Z" fill="#c9c1b8" clip-path="url(#bat)"/>
<line x1="522.18" y1="174.6" x2="522.18" y2="306" stroke="#cfcfcf" stroke-width="0.65" stroke-dasharray="3,2.4"/>
<line x1="553.76" y1="174.6" x2="553.76" y2="306" stroke="#cfcfcf" stroke-width="0.65" stroke-dasharray="3,2.4"/>
<line x1="585.34" y1="174.6" x2="585.34" y2="306" stroke="#cfcfcf" stroke-width="0.65" stroke-dasharray="3,2.4"/>
<line x1="616.92" y1="174.6" x2="616.92" y2="306" stroke="#cfcfcf" stroke-width="0.65" stroke-dasharray="3,2.4"/>
<path d="M504.5,243.3 C503.5,250 503.2,257 504.5,263 C506.5,270 510.5,277 513.1,284.7" fill="none" stroke="#727272" stroke-width="1.8" stroke-linecap="butt"/>
<path d="M504.5,243.3 C503.5,250 503.2,257 504.5,263 C506.5,270 510.5,277 513.1,284.7" fill="none" stroke="#a8a8a8" stroke-width="0.63" stroke-linecap="butt"/>
<path d="M536.2,244.3 C534,251 531,257 531.4,263.5 C533,270 541,277 545.9,282.8" fill="none" stroke="#727272" stroke-width="1.8" stroke-linecap="butt"/>
<path d="M536.2,244.3 C534,251 531,257 531.4,263.5 C533,270 541,277 545.9,282.8" fill="none" stroke="#a8a8a8" stroke-width="0.63" stroke-linecap="butt"/>
<path d="M569.2,244 C566,250 561.5,257 562.2,262 C563,267 566,269.5 570,271.5 C575,274 579,277 582.6,279.1" fill="none" stroke="#727272" stroke-width="1.8" stroke-linecap="butt"/>
<path d="M569.2,244 C566,250 561.5,257 562.2,262 C563,267 566,269.5 570,271.5 C575,274 579,277 582.6,279.1" fill="none" stroke="#a8a8a8" stroke-width="0.63" stroke-linecap="butt"/>
<path d="M609.7,248.6 C603,252 598.5,254.5 595.2,258.3 C592.6,261.6 592.6,266.8 595.6,269 C598.4,270.7 603,271 615.4,271.8" fill="none" stroke="#727272" stroke-width="2.7" stroke-linecap="butt"/>
<path d="M609.7,248.6 C603,252 598.5,254.5 595.2,258.3 C592.6,261.6 592.6,266.8 595.6,269 C598.4,270.7 603,271 615.4,271.8" fill="none" stroke="#a8a8a8" stroke-width="0.94" stroke-linecap="butt"/>
<path d="M641.9,253.8 C636,256 630.5,257.5 627.5,259.5 C624.6,262 624.6,267 628,269.3 C631,271 636,269 646.6,264.2" fill="none" stroke="#727272" stroke-width="2.7" stroke-linecap="butt"/>
<path d="M641.9,253.8 C636,256 630.5,257.5 627.5,259.5 C624.6,262 624.6,267 628,269.3 C631,271 636,269 646.6,264.2" fill="none" stroke="#a8a8a8" stroke-width="0.94" stroke-linecap="butt"/>
<text x="508.3" y="265.9" font-size="6.7" font-family="Liberation Serif, serif" fill="#1a1a1a">30&#176;</text>
<text x="537.8" y="265.9" font-size="6.7" font-family="Liberation Serif, serif" fill="#1a1a1a">60&#176;</text>
<text x="568.8" y="265.9" font-size="6.7" font-family="Liberation Serif, serif" fill="#1a1a1a">90&#176;</text>
<text x="598.1" y="265.9" font-size="6.7" font-family="Liberation Serif, serif" fill="#1a1a1a">150&#176;</text>
<text x="630.5" y="265.9" font-size="6.7" font-family="Liberation Serif, serif" fill="#1a1a1a">180&#176;</text>
<circle cx="496.92" cy="218.2" r="2.45" fill="url(#gg)"/>
<circle cx="503.23" cy="218.2" r="2.45" fill="url(#gg)"/>
<circle cx="509.55" cy="218.2" r="2.45" fill="url(#gg)"/>
<circle cx="515.86" cy="218.2" r="2.45" fill="url(#gg)"/>
<circle cx="522.18" cy="218.2" r="2.45" fill="url(#gg)"/>
<circle cx="528.5" cy="218.2" r="2.45" fill="url(#gg)"/>
<circle cx="534.81" cy="218.2" r="2.45" fill="url(#gg)"/>
<circle cx="541.13" cy="218.2" r="2.45" fill="url(#gg)"/>
<circle cx="547.44" cy="218.2" r="2.45" fill="url(#gg)"/>
<circle cx="553.76" cy="218.2" r="2.45" fill="url(#gg)"/>
<circle cx="560.08" cy="218.2" r="2.45" fill="url(#gg)"/>
<circle cx="566.39" cy="218.2" r="2.45" fill="url(#gg)"/>
<circle cx="572.71" cy="218.2" r="2.45" fill="url(#gg)"/>
<circle cx="579.02" cy="218.2" r="2.45" fill="url(#gg)"/>
<circle cx="585.34" cy="218.2" r="2.45" fill="url(#gg)"/>
<circle cx="591.66" cy="218.2" r="2.45" fill="url(#gg)"/>
<circle cx="597.97" cy="218.2" r="2.45" fill="url(#gg)"/>
<circle cx="604.29" cy="218.2" r="2.45" fill="url(#gg)"/>
<circle cx="610.6" cy="218.2" r="2.45" fill="url(#gg)"/>
<circle cx="616.92" cy="218.2" r="2.45" fill="url(#gg)"/>
<circle cx="623.24" cy="218.2" r="2.45" fill="url(#gg)"/>
<circle cx="629.55" cy="218.2" r="2.45" fill="url(#gg)"/>
<circle cx="635.87" cy="218.2" r="2.45" fill="url(#gg)"/>
<circle cx="642.18" cy="218.2" r="2.45" fill="url(#gg)"/>
<circle cx="648.5" cy="218.2" r="2.45" fill="url(#gg)"/>
<circle cx="496.6" cy="193.5" r="2.45" fill="url(#gr)"/>
<circle cx="502.8" cy="196.2" r="2.45" fill="url(#gr)"/>
<circle cx="509.4" cy="199.2" r="2.45" fill="url(#gr)"/>
<circle cx="515.4" cy="201.1" r="2.45" fill="url(#gr)"/>
<circle cx="521.9" cy="197.9" r="2.45" fill="url(#gr)"/>
<circle cx="528.5" cy="191" r="2.45" fill="url(#gr)"/>
<circle cx="534.9" cy="201.8" r="2.45" fill="url(#gr)"/>
<circle cx="541.1" cy="204.8" r="2.45" fill="url(#gr)"/>
<circle cx="547.5" cy="191.2" r="2.45" fill="url(#gr)"/>
<circle cx="553.7" cy="204.3" r="2.45" fill="url(#gr)"/>
<circle cx="560.2" cy="201.8" r="2.45" fill="url(#gr)"/>
<circle cx="566.4" cy="193.3" r="2.45" fill="url(#gr)"/>
<circle cx="572.8" cy="201" r="2.45" fill="url(#gr)"/>
<circle cx="579" cy="195" r="2.45" fill="url(#gr)"/>
<circle cx="585.5" cy="191.2" r="2.45" fill="url(#gr)"/>
<circle cx="591.7" cy="198.9" r="2.45" fill="url(#gr)"/>
<circle cx="598.2" cy="202.2" r="2.45" fill="url(#gr)"/>
<circle cx="604.6" cy="192.4" r="2.45" fill="url(#gr)"/>
<circle cx="610.8" cy="197" r="2.45" fill="url(#gr)"/>
<circle cx="616.9" cy="205.3" r="2.45" fill="url(#gr)"/>
<circle cx="623.3" cy="198.2" r="2.45" fill="url(#gr)"/>
<circle cx="629.7" cy="196.6" r="2.45" fill="url(#gr)"/>
<circle cx="635.8" cy="196" r="2.45" fill="url(#gr)"/>
<circle cx="642.6" cy="196.6" r="2.45" fill="url(#gr)"/>
<circle cx="648.9" cy="198.9" r="2.45" fill="url(#gr)"/>
<path d="M652.0,174.0 L490.6,174.0 L490.6,306.0 L652.0,306.0" fill="none" stroke="#3a3a3a" stroke-width="1.2"/>
<line x1="652" y1="173.4" x2="652" y2="306.6" stroke="#ee3a48" stroke-width="1.2"/>
<line x1="490.6" y1="306" x2="490.6" y2="308.2" stroke="#444" stroke-width="1"/>
<text transform="translate(490.6 317.05) scale(1 1.12)" x="0" y="0" font-size="8.1" text-anchor="middle" fill="#222">0</text>
<line x1="506.39" y1="306" x2="506.39" y2="307.3" stroke="#444" stroke-width="1"/>
<line x1="522.18" y1="306" x2="522.18" y2="308.2" stroke="#444" stroke-width="1"/>
<text transform="translate(522.18 317.05) scale(1 1.12)" x="0" y="0" font-size="8.1" text-anchor="middle" fill="#222">50</text>
<line x1="537.97" y1="306" x2="537.97" y2="307.3" stroke="#444" stroke-width="1"/>
<line x1="553.76" y1="306" x2="553.76" y2="308.2" stroke="#444" stroke-width="1"/>
<text transform="translate(553.76 317.05) scale(1 1.12)" x="0" y="0" font-size="8.1" text-anchor="middle" fill="#222">100</text>
<line x1="569.55" y1="306" x2="569.55" y2="307.3" stroke="#444" stroke-width="1"/>
<line x1="585.34" y1="306" x2="585.34" y2="308.2" stroke="#444" stroke-width="1"/>
<text transform="translate(585.34 317.05) scale(1 1.12)" x="0" y="0" font-size="8.1" text-anchor="middle" fill="#222">150</text>
<line x1="601.13" y1="306" x2="601.13" y2="307.3" stroke="#444" stroke-width="1"/>
<line x1="616.92" y1="306" x2="616.92" y2="308.2" stroke="#444" stroke-width="1"/>
<text transform="translate(616.92 317.05) scale(1 1.12)" x="0" y="0" font-size="8.1" text-anchor="middle" fill="#222">200</text>
<line x1="632.71" y1="306" x2="632.71" y2="307.3" stroke="#444" stroke-width="1"/>
<line x1="648.5" y1="306" x2="648.5" y2="308.2" stroke="#444" stroke-width="1"/>
<text transform="translate(648.5 317.05) scale(1 1.12)" x="0" y="0" font-size="8.1" text-anchor="middle" fill="#222">250</text>
<line x1="490.6" y1="306" x2="488.4" y2="306" stroke="#444" stroke-width="1"/>
<text transform="translate(486.4 309.25) scale(1 1.12)" x="0" y="0" font-size="8.1" text-anchor="end" fill="#666">0</text>
<line x1="490.6" y1="284" x2="489.3" y2="284" stroke="#444" stroke-width="1"/>
<line x1="490.6" y1="262" x2="488.4" y2="262" stroke="#444" stroke-width="1"/>
<text transform="translate(486.4 265.25) scale(1 1.12)" x="0" y="0" font-size="8.1" text-anchor="end" fill="#666">50</text>
<line x1="490.6" y1="240" x2="489.3" y2="240" stroke="#444" stroke-width="1"/>
<line x1="490.6" y1="218" x2="488.4" y2="218" stroke="#444" stroke-width="1"/>
<text transform="translate(486.4 221.25) scale(1 1.12)" x="0" y="0" font-size="8.1" text-anchor="end" fill="#666">100</text>
<line x1="490.6" y1="196" x2="489.3" y2="196" stroke="#444" stroke-width="1"/>
<line x1="490.6" y1="174" x2="488.4" y2="174" stroke="#444" stroke-width="1"/>
<text transform="translate(486.4 177.25) scale(1 1.12)" x="0" y="0" font-size="8.1" text-anchor="end" fill="#666">150</text>
<line x1="652" y1="306" x2="654.2" y2="306" stroke="#e84848" stroke-width="1"/>
<text transform="translate(656.2 309.25) scale(1 1.12)" x="0" y="0" font-size="8.1" text-anchor="start" fill="#e84848">90</text>
<line x1="652" y1="278.25" x2="653.3" y2="278.25" stroke="#e84848" stroke-width="1"/>
<line x1="652" y1="250.5" x2="654.2" y2="250.5" stroke="#e84848" stroke-width="1"/>
<text transform="translate(656.2 253.75) scale(1 1.12)" x="0" y="0" font-size="8.1" text-anchor="start" fill="#e84848">95</text>
<line x1="652" y1="222.75" x2="653.3" y2="222.75" stroke="#e84848" stroke-width="1"/>
<line x1="652" y1="195" x2="654.2" y2="195" stroke="#e84848" stroke-width="1"/>
<text transform="translate(656.2 198.25) scale(1 1.12)" x="0" y="0" font-size="8.1" text-anchor="start" fill="#e84848">100</text>
<text x="571" y="333" font-size="10.3" text-anchor="middle" fill="#141414">Bending times</text>
<text x="467.6" y="239.6" font-size="10.8" text-anchor="middle" fill="#141414" transform="rotate(-90 467.6 239.6)">Capacity retention (%)</text>
<text x="681.6" y="238.7" font-size="10.6" text-anchor="middle" fill="#141414" transform="rotate(-90 681.6 238.7)">Coulombic effciency (%)</text>
<text transform="translate(647.8 302.8) scale(1 1.12)" x="0" y="0" font-size="8.0" text-anchor="end" fill="#141414">1 A g<tspan font-size="4.96" dy="-3.36">-1</tspan><tspan dy="3.36"></tspan></text></svg></body></html>
